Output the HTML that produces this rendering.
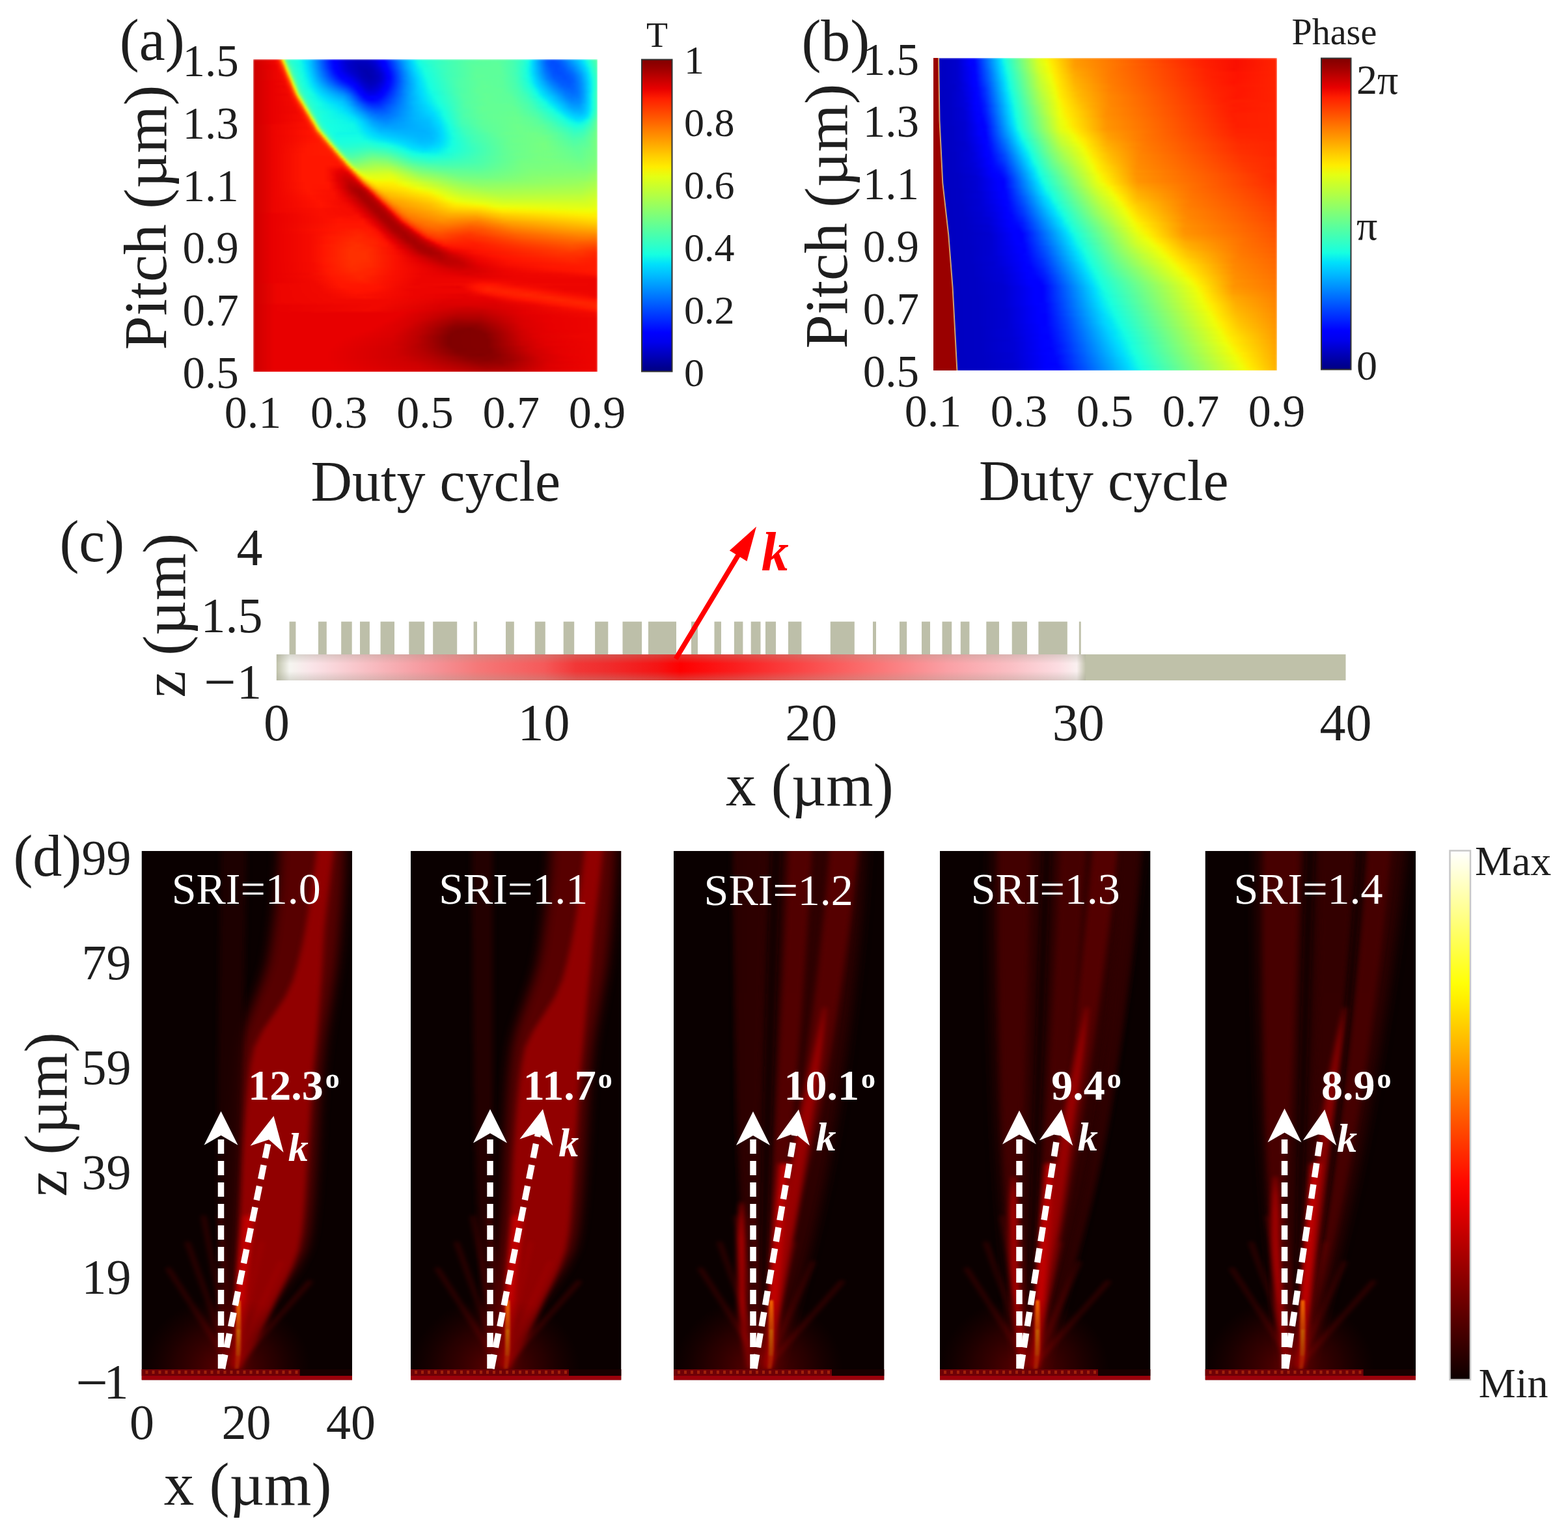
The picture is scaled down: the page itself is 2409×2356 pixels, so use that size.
<!DOCTYPE html>
<html><head><meta charset="utf-8"><title>Figure</title>
<style>
html,body{margin:0;padding:0;background:#fff}
body{width:2409px;height:2356px;position:relative;overflow:hidden}
.hm{position:absolute;overflow:hidden}
.hmi{position:absolute;left:0;top:0;right:0;bottom:0}
.hmi div{position:absolute;left:0;width:100%}
svg{position:absolute;left:0;top:0}
text{font-family:"Liberation Serif","Times New Roman",serif}
</style></head><body>
<div class="hm" style="left:389px;top:91px;width:529px;height:480px"><div class="hmi" style="filter:blur(1.5px)"><div style="top:0px;height:5px;background:linear-gradient(90deg,#cd0000 0.1%,#ed0400 6.1%,#f10800 6.7%,#ff1a00 7.3%,#ff4700 7.8%,#ff8200 8.2%,#ffd700 8.6%,#ebff0c 8.8%,#a0ff56 9.2%,#6aff8d 9.5%,#49ffad 9.9%,#29ffce 10.9%,#16ffe1 13.1%,#02e8f4 14.7%,#00ccff 16.2%,#0018ff 22.2%,#0000ff 23.3%,#0000fa 24.3%,#0000d1 27.3%,#0000bf 30.3%,#0000c4 33.4%,#0000df 35.6%,#0000ff 37.1%,#0000ff 37.9%,#0098ff 43.2%,#00dcfe 46.2%,#0ff8e7 47.7%,#1fffd7 49.2%,#43ffb4 56.8%,#5dff9a 66.6%,#56ffa0 72.7%,#39ffbe 77.2%,#1cffdb 79.5%,#13fce4 80.1%,#00e0fb 81.0%,#0080ff 84.0%,#0058ff 85.5%,#004cff 87.1%,#0060ff 89.3%,#00c4ff 94.6%,#00e4f8 95.9%,#16ffe1 97.1%,#49ffad 99.3%,#53ffa4 99.9%)"></div>
<div style="top:4px;height:5px;background:linear-gradient(90deg,#cd0000 0.1%,#ed0400 6.1%,#fa0f00 7.3%,#ff2900 7.8%,#ff6c00 8.4%,#ffe600 9.0%,#deff19 9.2%,#97ff60 9.5%,#63ff94 9.9%,#3cffba 10.5%,#26ffd1 11.4%,#13fce4 13.7%,#00e0fb 15.2%,#00c0ff 16.7%,#0020ff 22.0%,#0000ff 23.5%,#0000f6 24.7%,#0000d1 26.9%,#0000bb 30.0%,#0000bb 33.0%,#0000d1 35.3%,#0000ed 36.8%,#0000ff 37.7%,#0000ff 38.3%,#0098ff 43.6%,#00e0fb 46.6%,#13fce4 48.1%,#29ffce 51.1%,#56ffa0 62.5%,#5dff9a 70.8%,#49ffad 75.3%,#2cffca 78.4%,#13fce4 79.9%,#00dcfe 81.0%,#0080ff 84.0%,#005cff 85.3%,#004cff 86.9%,#0050ff 88.4%,#006cff 90.6%,#00b8ff 94.4%,#00dcfe 95.9%,#0cf4eb 96.9%,#1fffd7 97.8%,#43ffb4 99.3%,#50ffa7 99.9%)"></div>
<div style="top:8px;height:5px;background:linear-gradient(90deg,#cd0000 0.1%,#e80000 5.4%,#ed0400 6.9%,#ff1600 7.8%,#ff3f00 8.4%,#ff7700 8.8%,#f8f500 9.4%,#d1ff26 9.5%,#8dff6a 9.9%,#60ff97 10.3%,#43ffb4 10.7%,#26ffd1 11.8%,#0ff8e7 14.1%,#00dcfe 15.6%,#008cff 18.6%,#0030ff 21.6%,#0008ff 23.2%,#0000ff 24.1%,#0000c8 27.9%,#0000b6 30.9%,#0000b6 33.2%,#0000c8 35.4%,#0000fa 37.7%,#0004ff 38.7%,#00b0ff 44.7%,#00e0fb 47.0%,#13fce4 48.5%,#36ffc1 53.8%,#5aff9d 63.6%,#5dff9a 71.2%,#46ffb1 75.7%,#26ffd1 78.7%,#0ff8e7 80.1%,#00dcfe 81.0%,#006cff 84.8%,#0050ff 86.3%,#004cff 88.6%,#0068ff 90.8%,#00a0ff 93.9%,#00d4ff 96.1%,#06ecf1 96.9%,#19ffde 97.8%,#40ffb7 99.3%,#4dffaa 99.9%)"></div>
<div style="top:12px;height:5px;background:linear-gradient(90deg,#cd0000 0.1%,#e80000 5.4%,#ed0400 6.9%,#ff1300 8.0%,#ff3400 8.6%,#ff6000 9.0%,#ffd300 9.5%,#ebff0c 9.7%,#a0ff56 10.1%,#6dff8a 10.5%,#40ffb7 11.1%,#23ffd4 12.4%,#13fce4 13.9%,#00e4f8 15.4%,#00c0ff 16.9%,#0024ff 22.2%,#0000ff 23.7%,#0000fa 24.9%,#0000e3 26.0%,#0000c8 28.3%,#0000b2 31.3%,#0000b6 34.3%,#0000d6 36.6%,#0000fa 38.1%,#0004ff 39.0%,#00a0ff 44.3%,#00d4ff 46.6%,#09f0ee 48.1%,#19ffde 49.6%,#39ffbe 54.9%,#5dff9a 64.7%,#5dff9a 71.6%,#43ffb4 76.1%,#1fffd7 79.1%,#0ff8e7 79.9%,#00d8ff 81.2%,#006cff 85.0%,#0054ff 86.5%,#004cff 88.0%,#0058ff 90.3%,#0088ff 93.3%,#00d0ff 96.3%,#06ecf1 97.3%,#1cffdb 98.2%,#43ffb4 99.7%,#46ffb1 99.9%)"></div>
<div style="top:16px;height:5px;background:linear-gradient(90deg,#cd0000 0.1%,#ed0400 6.9%,#f60b00 8.0%,#ff2900 8.8%,#ff4e00 9.2%,#ff8d00 9.5%,#ffe200 9.9%,#deff19 10.1%,#97ff60 10.5%,#53ffa4 11.1%,#30ffc7 11.8%,#13fce4 14.1%,#00e4f8 15.6%,#00c0ff 17.1%,#0014ff 23.2%,#0000ff 24.3%,#0000fa 25.0%,#0000d6 27.3%,#0000b6 31.1%,#0000ad 32.6%,#0000b6 34.9%,#0000da 37.1%,#0000ff 38.7%,#0000ff 39.2%,#0088ff 43.8%,#00d4ff 46.8%,#06ecf1 48.3%,#19ffde 49.8%,#43ffb4 57.4%,#5dff9a 64.9%,#5dff9a 71.7%,#43ffb4 76.3%,#1cffdb 79.3%,#0ff8e7 79.9%,#00d8ff 81.2%,#0070ff 85.0%,#0058ff 86.5%,#004cff 88.0%,#0054ff 90.3%,#0070ff 92.5%,#00a0ff 94.8%,#00e0fb 97.1%,#19ffde 98.2%,#40ffb7 99.7%,#43ffb4 99.9%)"></div>
<div style="top:20px;height:5px;background:linear-gradient(90deg,#cd0000 0.1%,#ed0400 6.9%,#f10800 8.0%,#ff1600 8.8%,#ff3f00 9.4%,#ff7700 9.7%,#fbf100 10.3%,#d1ff26 10.5%,#8dff6a 10.9%,#60ff97 11.2%,#39ffbe 11.8%,#1fffd7 13.3%,#0ff8e7 14.7%,#00dcfe 16.2%,#0064ff 20.7%,#0010ff 23.7%,#0000ff 24.7%,#0000fa 25.6%,#0000d1 28.6%,#0000bb 30.9%,#0000ad 33.2%,#0000bb 35.4%,#0000cd 37.0%,#0000f1 38.5%,#0000ff 39.0%,#0004ff 39.6%,#0078ff 43.4%,#00b4ff 45.7%,#00d4ff 47.2%,#06ecf1 48.5%,#16ffe1 50.0%,#3cffba 56.0%,#5dff9a 64.4%,#5dff9a 71.9%,#46ffb1 75.7%,#26ffd1 78.7%,#0ff8e7 80.1%,#00e0fb 81.0%,#007cff 84.8%,#0054ff 87.1%,#004cff 89.3%,#005cff 91.6%,#0070ff 93.1%,#00a4ff 95.4%,#00d0ff 96.9%,#02e8f4 97.6%,#19ffde 98.4%,#40ffb7 99.9%)"></div>
<div style="top:24px;height:5px;background:linear-gradient(90deg,#cd0000 0.1%,#ed0400 6.9%,#f10800 8.4%,#ff1a00 9.2%,#ff4700 9.7%,#ff8200 10.1%,#ffd300 10.5%,#eeff09 10.7%,#83ff73 11.2%,#49ffad 11.8%,#29ffce 12.8%,#16ffe1 14.3%,#02e8f4 15.8%,#00d0ff 16.9%,#0030ff 23.0%,#0000ff 25.2%,#0000fa 26.4%,#0000b6 31.7%,#0000ad 33.9%,#0000bf 36.2%,#0000da 37.7%,#0000ff 39.2%,#0000ff 39.6%,#0074ff 43.4%,#00c0ff 46.4%,#00dcfe 47.9%,#16ffe1 50.2%,#3cffba 56.2%,#60ff97 65.3%,#5aff9d 72.9%,#40ffb7 76.7%,#16ffe1 79.7%,#00e0fb 81.2%,#0080ff 85.0%,#0058ff 87.2%,#0050ff 90.3%,#0058ff 91.8%,#006cff 93.3%,#008cff 94.8%,#00d0ff 97.1%,#00e4f8 97.6%,#19ffde 98.6%,#3cffba 99.9%)"></div>
<div style="top:28px;height:5px;background:linear-gradient(90deg,#cd0000 0.1%,#ed0400 6.9%,#f10800 8.4%,#fa0f00 9.2%,#ff2900 9.7%,#ff4e00 10.1%,#ff8d00 10.5%,#ffe200 10.9%,#deff19 11.1%,#7aff7d 11.6%,#53ffa4 12.0%,#30ffc7 12.8%,#19ffde 14.3%,#09f0ee 15.6%,#00dcfe 16.7%,#0020ff 24.3%,#0004ff 25.8%,#0000ff 27.3%,#0000bb 31.9%,#0000b2 34.1%,#0000bb 35.6%,#0000cd 37.1%,#0000f1 38.7%,#0000ff 39.2%,#0000ff 39.6%,#0088ff 44.1%,#00d8ff 47.9%,#06ecf1 49.1%,#16ffe1 50.6%,#43ffb4 57.4%,#5dff9a 64.2%,#5dff9a 71.7%,#46ffb1 76.3%,#13fce4 80.1%,#00dcfe 81.6%,#0080ff 85.3%,#005cff 87.6%,#0050ff 90.6%,#0060ff 92.9%,#0090ff 95.2%,#00d8ff 97.4%,#06ecf1 98.0%,#1cffdb 98.8%,#3cffba 99.9%)"></div>
<div style="top:32px;height:5px;background:linear-gradient(90deg,#cd0000 0.1%,#e80000 5.4%,#ed0400 8.4%,#f60b00 9.4%,#ff1600 9.7%,#ff3f00 10.3%,#ff5500 10.5%,#ffc400 11.1%,#fbf100 11.2%,#d1ff26 11.4%,#8dff6a 11.8%,#5dff9a 12.2%,#39ffbe 12.8%,#1fffd7 13.9%,#0ff8e7 15.4%,#00dcfe 16.9%,#0064ff 22.2%,#0014ff 26.0%,#0000ff 27.5%,#0000fa 28.6%,#0000c8 31.7%,#0000b6 33.2%,#0000bb 35.4%,#0000cd 37.0%,#0000f1 38.5%,#0000ff 39.0%,#0008ff 39.8%,#0074ff 43.6%,#00acff 45.8%,#00d8ff 48.1%,#09f0ee 49.6%,#19ffde 51.1%,#4dffaa 59.5%,#60ff97 66.3%,#5dff9a 72.3%,#46ffb1 76.1%,#26ffd1 79.1%,#0ff8e7 80.4%,#00dcfe 81.8%,#007cff 86.3%,#005cff 88.6%,#0054ff 91.6%,#0060ff 93.1%,#0080ff 94.6%,#00c0ff 96.9%,#00e4f8 97.8%,#19ffde 98.8%,#39ffbe 99.9%)"></div>
<div style="top:36px;height:5px;background:linear-gradient(90deg,#cd0000 0.1%,#e80000 5.4%,#f10800 9.2%,#ff1a00 10.1%,#ff4700 10.7%,#ff8200 11.1%,#ffd300 11.4%,#eeff09 11.6%,#83ff73 12.2%,#56ffa0 12.6%,#30ffc7 13.3%,#19ffde 14.8%,#09f0ee 16.2%,#00d4ff 17.7%,#0038ff 25.2%,#0004ff 28.3%,#0000fa 29.6%,#0000cd 31.9%,#0000bb 34.1%,#0000c4 35.6%,#0000e8 37.9%,#0000ff 38.8%,#000cff 39.8%,#0078ff 43.6%,#00d8ff 48.1%,#06ecf1 49.6%,#16ffe1 51.1%,#4dffaa 59.5%,#60ff97 66.3%,#5dff9a 72.3%,#49ffad 76.1%,#1fffd7 79.9%,#0ff8e7 80.8%,#00dcfe 82.1%,#0080ff 86.7%,#005cff 89.7%,#0058ff 92.0%,#0074ff 94.2%,#0098ff 95.7%,#00ccff 97.3%,#00e0fb 97.8%,#19ffde 98.8%,#39ffbe 99.9%)"></div>
<div style="top:40px;height:5px;background:linear-gradient(90deg,#cd0000 0.1%,#e80000 5.4%,#ed0400 9.2%,#fa0f00 10.1%,#ff2900 10.7%,#ff4e00 11.1%,#ff8d00 11.4%,#ffe200 11.8%,#e1ff16 12.0%,#97ff60 12.4%,#63ff94 12.8%,#39ffbe 13.3%,#1fffd7 14.5%,#0ff8e7 16.0%,#00e0fb 17.5%,#0048ff 25.8%,#0000ff 29.6%,#0000fa 30.3%,#0000cd 32.6%,#0000c4 34.1%,#0000cd 35.6%,#0000df 37.0%,#0000ff 38.5%,#0004ff 39.2%,#0090ff 44.5%,#00d8ff 48.3%,#06ecf1 49.8%,#16ffe1 51.3%,#4dffaa 59.6%,#63ff94 67.2%,#5aff9d 73.3%,#43ffb4 77.0%,#1fffd7 80.1%,#0ff8e7 81.2%,#00dcfe 82.5%,#0088ff 87.1%,#0068ff 89.3%,#005cff 91.6%,#0064ff 93.1%,#007cff 94.6%,#00a4ff 96.1%,#00d8ff 97.6%,#06ecf1 98.2%,#19ffde 98.8%,#39ffbe 99.9%)"></div>
<div style="top:44px;height:5px;background:linear-gradient(90deg,#cd0000 0.1%,#e80000 5.4%,#f10800 9.9%,#ff1600 10.7%,#ff3f00 11.2%,#ff5500 11.4%,#ff9800 11.8%,#fbf100 12.2%,#d1ff26 12.4%,#8dff6a 12.8%,#5dff9a 13.1%,#40ffb7 13.5%,#29ffce 14.3%,#0ff8e7 16.5%,#00e0fb 18.1%,#004cff 27.1%,#0000ff 30.2%,#0000fa 31.1%,#0000da 32.6%,#0000cd 34.1%,#0000df 36.4%,#0000ff 37.9%,#0004ff 38.8%,#0088ff 44.1%,#00d0ff 47.9%,#00e4f8 49.4%,#16ffe1 51.7%,#49ffad 59.3%,#60ff97 65.3%,#60ff97 72.1%,#49ffad 76.7%,#23ffd4 80.4%,#0ff8e7 81.8%,#00dcfe 83.1%,#008cff 87.6%,#0068ff 90.6%,#0064ff 92.9%,#0078ff 94.4%,#009cff 95.9%,#00d0ff 97.4%,#06ecf1 98.2%,#19ffde 98.8%,#3cffba 99.9%)"></div>
<div style="top:48px;height:5px;background:linear-gradient(90deg,#cd0000 0.1%,#e80000 5.4%,#f10800 9.9%,#fa0f00 10.7%,#ff2500 11.2%,#ff4700 11.6%,#ff8200 12.0%,#ffd300 12.4%,#eeff09 12.6%,#a0ff56 12.9%,#6aff8d 13.3%,#3cffba 13.9%,#26ffd1 14.8%,#16ffe1 16.4%,#00e0fb 18.6%,#0078ff 26.2%,#0030ff 29.2%,#0004ff 30.7%,#0000fa 31.7%,#0000df 33.2%,#0000df 35.4%,#0000f6 37.0%,#0000ff 37.7%,#0010ff 38.8%,#008cff 44.1%,#00c4ff 47.2%,#00d8ff 48.7%,#06ecf1 50.2%,#13fce4 51.7%,#49ffad 59.3%,#60ff97 65.3%,#60ff97 72.1%,#4dffaa 76.7%,#29ffce 80.4%,#13fce4 81.9%,#00e0fb 83.5%,#0088ff 88.8%,#0070ff 91.0%,#0068ff 92.5%,#0070ff 94.0%,#0090ff 95.6%,#00c0ff 97.1%,#00e4f8 98.0%,#19ffde 98.8%,#40ffb7 99.9%)"></div>
<div style="top:52px;height:5px;background:linear-gradient(90deg,#cd0000 0.1%,#e80000 5.4%,#ed0400 9.9%,#fa0f00 11.1%,#ff2900 11.6%,#ff4e00 12.0%,#ff8d00 12.4%,#ffe200 12.8%,#e4ff13 12.9%,#9dff5a 13.3%,#6aff8d 13.7%,#40ffb7 14.3%,#29ffce 15.0%,#13fce4 17.3%,#00dcfe 19.6%,#008cff 26.4%,#006cff 27.9%,#0010ff 30.9%,#0000ff 31.7%,#0000fa 32.4%,#0000e8 33.9%,#0000ed 35.3%,#0000ff 36.8%,#0004ff 37.7%,#00b0ff 46.0%,#00dcfe 49.1%,#06ecf1 50.6%,#13fce4 52.1%,#50ffa7 60.4%,#63ff94 67.2%,#5dff9a 74.0%,#3cffba 79.3%,#16ffe1 82.3%,#00e4f8 83.8%,#00c0ff 86.1%,#007cff 90.6%,#0070ff 92.9%,#0078ff 94.4%,#009cff 95.9%,#00d0ff 97.4%,#09f0ee 98.2%,#1cffdb 98.8%,#40ffb7 99.9%)"></div>
<div style="top:56px;height:5px;background:linear-gradient(90deg,#cd0000 0.1%,#e80000 5.4%,#f10800 10.7%,#ff1e00 11.8%,#ff3800 12.2%,#ff6400 12.6%,#ffd000 13.1%,#f1fc06 13.3%,#8dff6a 13.9%,#60ff97 14.3%,#39ffbe 14.8%,#23ffd4 15.8%,#0ff8e7 18.1%,#00e0fb 20.3%,#00a0ff 26.4%,#0080ff 27.9%,#0010ff 31.7%,#0000ff 32.4%,#0004ff 37.0%,#00a4ff 45.3%,#00d8ff 49.1%,#09f0ee 51.3%,#16ffe1 52.8%,#53ffa4 61.2%,#63ff94 68.0%,#5dff9a 74.8%,#40ffb7 79.3%,#13fce4 83.1%,#00e4f8 84.6%,#00c4ff 86.9%,#0088ff 90.6%,#0078ff 92.2%,#007cff 94.4%,#009cff 95.9%,#00d0ff 97.4%,#09f0ee 98.2%,#1cffdb 98.8%,#43ffb4 99.9%)"></div>
<div style="top:60px;height:5px;background:linear-gradient(90deg,#cd0000 0.1%,#e80000 5.4%,#f10800 10.7%,#fa0f00 11.8%,#ff2500 12.4%,#ff5900 12.9%,#ff9800 13.3%,#ffea00 13.7%,#dbff1c 13.9%,#97ff60 14.3%,#53ffa4 14.8%,#30ffc7 15.6%,#1cffdb 17.1%,#0ff8e7 18.6%,#00dcfe 21.6%,#00b4ff 26.2%,#0084ff 28.4%,#0028ff 31.5%,#0008ff 33.0%,#0000ff 34.5%,#0008ff 36.0%,#001cff 37.5%,#00a0ff 45.1%,#00d4ff 48.9%,#06ecf1 51.1%,#19ffde 53.4%,#50ffa7 61.0%,#63ff94 67.0%,#5dff9a 75.3%,#40ffb7 79.9%,#16ffe1 83.6%,#00dcfe 85.9%,#008cff 91.2%,#0080ff 92.7%,#0084ff 94.2%,#0090ff 95.2%,#00b8ff 96.7%,#00e0fb 97.8%,#16ffe1 98.6%,#40ffb7 99.9%)"></div>
<div style="top:64px;height:5px;background:linear-gradient(90deg,#cd0000 0.1%,#e80000 5.4%,#f10800 11.4%,#ff1300 12.4%,#ff2d00 12.9%,#ff5200 13.3%,#ff8d00 13.7%,#ffdb00 14.1%,#e7ff0f 14.3%,#87ff70 14.8%,#5aff9d 15.2%,#30ffc7 16.0%,#1cffdb 17.5%,#13fce4 19.0%,#00e4f8 22.0%,#00c8ff 25.8%,#00a0ff 28.1%,#0038ff 31.9%,#001cff 33.4%,#0014ff 34.9%,#001cff 36.4%,#0044ff 39.4%,#00b4ff 46.2%,#00dcfe 50.0%,#06ecf1 51.5%,#19ffde 53.8%,#56ffa0 62.1%,#63ff94 68.1%,#5dff9a 75.7%,#43ffb4 80.2%,#13fce4 84.8%,#00e4f8 86.3%,#00c0ff 88.6%,#008cff 92.3%,#008cff 94.6%,#00a8ff 96.1%,#00d8ff 97.6%,#09f0ee 98.2%,#1cffdb 98.8%,#40ffb7 99.9%)"></div>
<div style="top:68px;height:5px;background:linear-gradient(90deg,#cd0000 0.1%,#e80000 5.4%,#f10800 11.4%,#fa0f00 12.6%,#ff1e00 13.1%,#ff4a00 13.7%,#ff7e00 14.1%,#f8f500 14.7%,#d1ff26 14.8%,#77ff80 15.4%,#50ffa7 15.8%,#2cffca 16.5%,#16ffe1 18.8%,#00e0fb 24.1%,#00c0ff 27.1%,#0078ff 30.2%,#0038ff 33.2%,#002cff 34.3%,#002cff 36.6%,#0068ff 41.1%,#00b4ff 46.4%,#00e0fb 50.9%,#16ffe1 54.0%,#53ffa4 61.5%,#63ff94 68.3%,#63ff94 74.4%,#4dffaa 79.7%,#19ffde 85.0%,#00e4f8 87.2%,#00ccff 88.8%,#00a0ff 91.8%,#0094ff 93.3%,#0098ff 94.8%,#00c8ff 97.1%,#00e4f8 97.8%,#16ffe1 98.6%,#40ffb7 99.9%)"></div>
<div style="top:72px;height:5px;background:linear-gradient(90deg,#cd0000 0.1%,#e80000 5.4%,#f10800 12.2%,#ff1600 13.3%,#ff3000 13.9%,#ff7300 14.5%,#ffb900 14.8%,#ffe600 15.0%,#e1ff16 15.2%,#9aff5d 15.6%,#66ff90 16.0%,#3cffba 16.5%,#23ffd4 17.5%,#0ff8e7 20.5%,#00dcfe 25.8%,#00bcff 28.1%,#0058ff 32.6%,#003cff 34.9%,#0040ff 37.1%,#0080ff 42.4%,#00b8ff 47.0%,#00e0fb 51.5%,#16ffe1 54.5%,#50ffa7 61.3%,#63ff94 66.6%,#63ff94 75.7%,#46ffb1 81.0%,#13fce4 86.3%,#02e8f4 87.8%,#00d0ff 89.3%,#00a4ff 92.3%,#00a0ff 94.6%,#00b4ff 96.1%,#00dcfe 97.6%,#16ffe1 98.6%,#40ffb7 99.9%)"></div>
<div style="top:76px;height:5px;background:linear-gradient(90deg,#cd0000 0.1%,#e80000 5.4%,#f10800 12.2%,#fa0f00 13.5%,#ff2d00 14.3%,#ff4e00 14.7%,#ff8600 15.0%,#ffd300 15.4%,#eeff09 15.6%,#8aff6d 16.2%,#5dff9a 16.5%,#36ffc1 17.1%,#1fffd7 18.2%,#0cf4eb 22.8%,#00e4f8 25.8%,#00c8ff 28.1%,#0060ff 33.4%,#0050ff 35.6%,#0054ff 37.9%,#0084ff 42.4%,#00b8ff 47.0%,#00dcfe 51.5%,#06ecf1 53.0%,#19ffde 55.3%,#46ffb1 59.8%,#63ff94 66.6%,#63ff94 76.5%,#46ffb1 81.8%,#16ffe1 87.1%,#02e8f4 88.6%,#00d0ff 90.1%,#00acff 93.1%,#00acff 94.6%,#00b4ff 95.7%,#00d4ff 97.3%,#0cf4eb 98.2%,#1fffd7 98.8%,#43ffb4 99.9%)"></div>
<div style="top:80px;height:5px;background:linear-gradient(90deg,#cd0000 0.1%,#e80000 5.4%,#f10800 12.9%,#ff1300 14.1%,#ff2900 14.7%,#ff4700 15.0%,#ff7a00 15.4%,#fbf100 16.0%,#d7ff1f 16.2%,#77ff80 16.7%,#43ffb4 17.3%,#23ffd4 18.2%,#0ff8e7 22.8%,#00e0fb 27.3%,#00b0ff 30.3%,#0078ff 33.4%,#0060ff 35.6%,#0064ff 38.7%,#00b0ff 46.2%,#00dcfe 52.3%,#06ecf1 53.8%,#16ffe1 55.3%,#49ffad 60.6%,#60ff97 65.9%,#66ff90 75.7%,#4dffaa 81.8%,#1fffd7 87.1%,#0ff8e7 88.6%,#00e0fb 90.1%,#00bcff 93.1%,#00b8ff 95.4%,#00d0ff 96.9%,#06ecf1 97.8%,#19ffde 98.4%,#46ffb1 99.9%)"></div>
<div style="top:84px;height:5px;background:linear-gradient(90deg,#cd0000 0.1%,#e80000 5.4%,#f60b00 13.7%,#ff1600 14.7%,#ff3000 15.2%,#ff6f00 15.8%,#ffde00 16.4%,#e4ff13 16.5%,#80ff77 17.1%,#46ffb1 17.7%,#29ffce 18.4%,#19ffde 19.9%,#09f0ee 26.0%,#00e0fb 28.3%,#00b0ff 31.3%,#007cff 34.3%,#006cff 37.3%,#0080ff 41.1%,#00b0ff 46.4%,#00d8ff 52.5%,#06ecf1 54.0%,#16ffe1 55.5%,#50ffa7 61.5%,#63ff94 68.3%,#66ff90 76.7%,#4dffaa 82.7%,#19ffde 88.8%,#00e4f8 91.0%,#00d0ff 92.5%,#00c4ff 94.8%,#00d0ff 96.3%,#00e4f8 97.3%,#19ffde 98.2%,#49ffad 99.7%,#4dffaa 99.9%)"></div>
<div style="top:88px;height:5px;background:linear-gradient(90deg,#cd0000 0.1%,#e80000 5.4%,#f60b00 13.7%,#ff1600 15.0%,#ff2d00 15.6%,#ff6400 16.2%,#ffd000 16.7%,#f1fc06 16.9%,#8aff6d 17.5%,#49ffad 18.1%,#29ffce 18.8%,#19ffde 20.3%,#09f0ee 27.1%,#00e0fb 29.4%,#0094ff 33.9%,#007cff 36.2%,#007cff 39.2%,#00b4ff 46.8%,#00c8ff 51.3%,#00e0fb 53.6%,#16ffe1 55.9%,#46ffb1 60.4%,#60ff97 66.4%,#6aff8d 76.3%,#5aff9d 81.6%,#2cffca 87.6%,#16ffe1 89.9%,#00e4f8 92.2%,#00d4ff 93.7%,#00d8ff 95.9%,#06ecf1 97.1%,#1cffdb 98.0%,#4dffaa 99.5%,#56ffa0 99.9%)"></div>
<div style="top:92px;height:5px;background:linear-gradient(90deg,#cd0000 0.1%,#e80000 5.4%,#f60b00 14.5%,#ff1a00 15.6%,#ff3800 16.2%,#ff5d00 16.5%,#ff9800 16.9%,#ffea00 17.3%,#dbff1c 17.5%,#7aff7d 18.1%,#50ffa7 18.4%,#30ffc7 19.0%,#1cffdb 19.9%,#0ff8e7 26.0%,#02e8f4 29.8%,#00d0ff 31.3%,#0094ff 35.1%,#0084ff 38.1%,#009cff 43.4%,#00b4ff 47.2%,#00c0ff 50.9%,#00e0fb 54.0%,#16ffe1 56.2%,#46ffb1 60.8%,#60ff97 67.6%,#6aff8d 76.7%,#5aff9d 82.7%,#1fffd7 90.3%,#0ff8e7 91.8%,#00e4f8 94.0%,#02e8f4 95.6%,#16ffe1 97.1%,#50ffa7 99.3%,#60ff97 99.9%)"></div>
<div style="top:96px;height:5px;background:linear-gradient(90deg,#cd0000 0.1%,#e80000 5.4%,#fa0f00 15.2%,#ff1e00 16.2%,#ff4300 16.7%,#ff6f00 17.1%,#ffb200 17.5%,#ffdb00 17.7%,#e7ff0f 17.9%,#83ff73 18.4%,#56ffa0 18.8%,#30ffc7 19.4%,#19ffde 20.7%,#0cf4eb 29.0%,#00dcfe 31.3%,#00acff 34.3%,#0098ff 36.6%,#0090ff 38.8%,#00b4ff 47.9%,#00bcff 50.9%,#00dcfe 54.0%,#09f0ee 55.5%,#19ffde 56.8%,#43ffb4 60.6%,#5dff9a 66.6%,#6aff8d 75.7%,#63ff94 81.0%,#49ffad 86.3%,#16ffe1 92.3%,#0cf4eb 94.6%,#1fffd7 96.9%,#53ffa4 99.1%,#66ff90 99.9%)"></div>
<div style="top:100px;height:5px;background:linear-gradient(90deg,#cd0000 0.1%,#ed0400 6.1%,#fa0f00 15.2%,#ff1600 16.2%,#ff2500 16.7%,#ff4e00 17.3%,#ff8200 17.7%,#f8f500 18.2%,#d1ff26 18.4%,#8dff6a 18.8%,#49ffad 19.4%,#26ffd1 20.1%,#16ffe1 21.6%,#0ff8e7 29.2%,#00e0fb 31.5%,#00acff 35.3%,#009cff 38.3%,#00a4ff 43.6%,#00bcff 51.1%,#00d8ff 54.2%,#09f0ee 55.7%,#19ffde 57.2%,#3cffba 60.2%,#5aff9d 66.3%,#6dff8a 76.8%,#5dff9a 84.4%,#19ffde 93.5%,#1fffd7 95.7%,#40ffb7 98.0%,#63ff94 99.5%,#6aff8d 99.9%)"></div>
<div style="top:104px;height:5px;background:linear-gradient(90deg,#cd0000 0.1%,#ed0400 6.1%,#fa0f00 16.0%,#ff2200 17.1%,#ff4700 17.7%,#ff9400 18.2%,#ffe600 18.6%,#e1ff16 18.8%,#9aff5d 19.2%,#63ff94 19.6%,#39ffbe 20.1%,#23ffd4 20.9%,#16ffe1 22.4%,#0ff8e7 29.2%,#09f0ee 30.7%,#00dcfe 32.2%,#00acff 36.8%,#00a4ff 41.3%,#00b8ff 51.1%,#00d4ff 54.2%,#06ecf1 55.7%,#16ffe1 57.2%,#3cffba 61.0%,#5aff9d 67.0%,#6dff8a 76.8%,#66ff90 82.9%,#46ffb1 88.9%,#26ffd1 93.5%,#29ffce 95.7%,#56ffa0 98.8%,#70ff87 99.9%)"></div>
<div style="top:108px;height:5px;background:linear-gradient(90deg,#cd0000 0.1%,#ed0400 6.1%,#ff1300 16.7%,#ff2900 17.7%,#ff5500 18.2%,#ffa700 18.8%,#fbf100 19.2%,#dbff1c 19.4%,#80ff77 19.9%,#56ffa0 20.3%,#2cffca 21.1%,#16ffe1 22.4%,#0ff8e7 30.0%,#00dcfe 33.0%,#00b8ff 36.8%,#00b0ff 41.3%,#00b0ff 49.6%,#00c0ff 52.6%,#00dcfe 54.9%,#13fce4 57.2%,#39ffbe 61.0%,#5dff9a 68.5%,#6dff8a 77.6%,#66ff90 84.4%,#30ffc7 93.5%,#36ffc1 95.7%,#5dff9a 98.8%,#73ff83 99.9%)"></div>
<div style="top:112px;height:5px;background:linear-gradient(90deg,#cd0000 0.1%,#ed0400 6.1%,#ff1300 16.7%,#ff1e00 17.9%,#ff3400 18.4%,#ff6400 19.0%,#ffbd00 19.6%,#ffe200 19.8%,#e7ff0f 19.9%,#8aff6d 20.5%,#5dff9a 20.9%,#2cffca 21.6%,#16ffe1 23.0%,#0ff8e7 25.2%,#0ff8e7 30.5%,#00e0fb 33.6%,#00c4ff 37.3%,#00b4ff 44.1%,#00b4ff 50.9%,#00c4ff 53.2%,#00d8ff 54.7%,#06ecf1 56.2%,#19ffde 57.8%,#40ffb7 62.3%,#6aff8d 73.6%,#70ff87 81.9%,#5aff9d 88.0%,#39ffbe 93.3%,#43ffb4 96.3%,#6dff8a 99.3%,#77ff80 99.9%)"></div>
<div style="top:116px;height:5px;background:linear-gradient(90deg,#cd0000 0.1%,#ed0400 6.1%,#ff1300 17.5%,#ff2500 18.6%,#ff3b00 19.2%,#ff7300 19.8%,#ffd300 20.3%,#f1fc06 20.5%,#7aff7d 21.3%,#43ffb4 21.8%,#23ffd4 22.6%,#13fce4 24.1%,#13fce4 30.9%,#00e0fb 34.7%,#00c8ff 39.2%,#00b4ff 48.3%,#00b8ff 51.3%,#00c8ff 53.6%,#00dcfe 55.1%,#09f0ee 56.6%,#19ffde 58.1%,#39ffbe 61.9%,#63ff94 71.7%,#70ff87 80.8%,#6dff8a 85.3%,#43ffb4 92.9%,#43ffb4 95.2%,#60ff97 98.2%,#73ff83 99.7%,#77ff80 99.9%)"></div>
<div style="top:120px;height:5px;background:linear-gradient(90deg,#cd0000 0.1%,#ed0400 6.1%,#ff1600 18.2%,#ff2200 19.2%,#ff3800 19.8%,#ff6c00 20.3%,#ffc400 20.9%,#feed00 21.1%,#deff19 21.3%,#83ff73 21.8%,#49ffad 22.4%,#29ffce 23.0%,#16ffe1 24.1%,#16ffe1 30.9%,#00e4f8 36.2%,#00c8ff 43.0%,#00b8ff 49.1%,#00bcff 52.1%,#00dcfe 55.1%,#0ff8e7 57.4%,#1fffd7 58.9%,#43ffb4 64.2%,#6aff8d 74.8%,#73ff83 83.8%,#49ffad 92.9%,#50ffa7 95.9%,#6dff8a 99.0%,#7aff7d 99.9%)"></div>
<div style="top:124px;height:5px;background:linear-gradient(90deg,#cd0000 0.1%,#ed0400 6.1%,#ff1300 16.7%,#ff1600 19.0%,#ff2d00 20.1%,#ff4e00 20.7%,#ff9800 21.3%,#ffdb00 21.6%,#ebff0c 21.8%,#8dff6a 22.4%,#50ffa7 23.0%,#36ffc1 23.3%,#19ffde 24.5%,#19ffde 32.8%,#00e0fb 40.4%,#00bcff 48.7%,#00c0ff 51.7%,#00d0ff 54.0%,#06ecf1 56.2%,#16ffe1 57.8%,#40ffb7 63.8%,#6dff8a 75.9%,#73ff83 85.0%,#50ffa7 93.3%,#56ffa0 96.3%,#73ff83 99.3%,#7aff7d 99.9%)"></div>
<div style="top:128px;height:5px;background:linear-gradient(90deg,#cd0000 0.1%,#ed0400 6.1%,#ff1600 16.7%,#ff1a00 19.8%,#ff3000 20.9%,#ff5900 21.5%,#ff8900 21.8%,#fbf100 22.4%,#d7ff1f 22.6%,#80ff77 23.2%,#56ffa0 23.5%,#2cffca 24.3%,#1cffdb 25.4%,#23ffd4 33.0%,#13fce4 38.3%,#00dcfe 43.6%,#00c4ff 48.9%,#00c8ff 51.9%,#00e0fb 54.9%,#16ffe1 57.9%,#39ffbe 63.2%,#66ff90 73.8%,#77ff80 84.4%,#53ffa4 93.5%,#60ff97 97.3%,#77ff80 99.5%,#7aff7d 99.9%)"></div>
<div style="top:132px;height:5px;background:linear-gradient(90deg,#cd0000 0.1%,#ed0400 6.1%,#ff1600 16.0%,#ff1a00 20.5%,#ff2d00 21.5%,#ff5200 22.0%,#ff9c00 22.6%,#ffe200 23.0%,#e7ff0f 23.2%,#8dff6a 23.7%,#53ffa4 24.3%,#30ffc7 25.0%,#23ffd4 26.6%,#2cffca 33.4%,#19ffde 40.2%,#0cf4eb 42.4%,#00dcfe 45.5%,#00ccff 50.0%,#00dcfe 53.8%,#09f0ee 56.0%,#16ffe1 57.6%,#39ffbe 63.6%,#6aff8d 75.0%,#77ff80 84.8%,#5aff9d 93.1%,#60ff97 96.9%,#7aff7d 99.9%)"></div>
<div style="top:136px;height:5px;background:linear-gradient(90deg,#cd0000 0.1%,#ed0400 6.1%,#ff1600 15.2%,#ff1a00 21.3%,#ff3000 22.2%,#ff5d00 22.8%,#ff8d00 23.2%,#f8f500 23.7%,#d7ff1f 23.9%,#83ff73 24.5%,#50ffa7 25.0%,#30ffc7 26.0%,#30ffc7 29.0%,#39ffbe 33.6%,#30ffc7 38.8%,#13fce4 43.4%,#00e4f8 46.4%,#00d8ff 50.2%,#02e8f4 54.0%,#16ffe1 57.0%,#3cffba 64.6%,#6aff8d 75.1%,#77ff80 85.0%,#5dff9a 94.0%,#6aff8d 97.8%,#77ff80 99.3%,#7aff7d 99.9%)"></div>
<div style="top:140px;height:5px;background:linear-gradient(90deg,#cd0000 0.1%,#ed0400 6.1%,#ff1600 15.2%,#ff1a00 22.0%,#ff2d00 22.8%,#ff5200 23.3%,#ff9c00 23.9%,#ffe200 24.3%,#e7ff0f 24.5%,#7dff7a 25.2%,#53ffa4 25.8%,#3cffba 26.6%,#36ffc1 28.1%,#49ffad 34.1%,#43ffb4 37.9%,#2cffca 41.7%,#16ffe1 44.7%,#02e8f4 49.2%,#06ecf1 53.0%,#19ffde 56.8%,#60ff97 72.7%,#77ff80 82.5%,#70ff87 87.8%,#60ff97 94.6%,#73ff83 99.1%,#7aff7d 99.9%)"></div>
<div style="top:144px;height:5px;background:linear-gradient(90deg,#cd0000 0.1%,#ed0400 6.1%,#ff1600 14.5%,#ff1a00 22.8%,#ff3000 23.5%,#ff5d00 24.1%,#ff8d00 24.5%,#fbf100 25.0%,#dbff1c 25.2%,#8dff6a 25.8%,#60ff97 26.4%,#46ffb1 27.1%,#46ffb1 29.4%,#5dff9a 34.7%,#50ffa7 39.2%,#16ffe1 46.8%,#0ff8e7 52.8%,#29ffce 58.9%,#6dff8a 76.3%,#77ff80 86.1%,#63ff94 94.4%,#73ff83 99.0%,#7aff7d 99.9%)"></div>
<div style="top:148px;height:5px;background:linear-gradient(90deg,#cd0000 0.1%,#ed0400 6.1%,#ff1600 14.5%,#ff1600 22.8%,#ff2500 23.9%,#ff4300 24.5%,#ff7e00 25.0%,#ffde00 25.6%,#eeff09 25.8%,#9dff5a 26.4%,#7aff7d 26.7%,#5aff9d 27.5%,#50ffa7 28.6%,#6dff8a 34.7%,#63ff94 39.2%,#29ffce 46.0%,#1cffdb 50.6%,#23ffd4 55.9%,#63ff94 73.3%,#77ff80 83.1%,#70ff87 89.1%,#66ff90 95.2%,#7aff7d 99.7%,#7aff7d 99.9%)"></div>
<div style="top:152px;height:5px;background:linear-gradient(90deg,#cd0000 0.1%,#ed0400 6.1%,#ff1600 14.5%,#ff1600 22.0%,#ff1600 23.5%,#ff2200 24.5%,#ff3b00 25.0%,#ff6f00 25.6%,#ffc800 26.2%,#ffea00 26.4%,#e4ff13 26.6%,#9dff5a 27.1%,#77ff80 27.7%,#63ff94 28.4%,#6aff8d 30.7%,#7dff7a 34.5%,#7aff7d 38.3%,#5dff9a 42.1%,#36ffc1 46.6%,#29ffce 51.1%,#33ffc4 57.9%,#4dffaa 67.0%,#70ff87 77.6%,#7aff7d 85.2%,#6aff8d 95.0%,#7aff7d 99.5%,#7dff7a 99.9%)"></div>
<div style="top:156px;height:5px;background:linear-gradient(90deg,#cd0000 0.1%,#ed0400 6.1%,#ff1600 14.5%,#ff1600 22.0%,#ff1300 24.3%,#ff2900 25.4%,#ff4e00 26.0%,#ff9400 26.6%,#f8f500 27.1%,#deff19 27.3%,#a0ff56 27.9%,#7dff7a 28.6%,#73ff83 29.6%,#90ff66 34.9%,#8aff6d 38.7%,#73ff83 41.7%,#49ffad 46.2%,#36ffc1 51.5%,#46ffb1 64.4%,#73ff83 78.0%,#77ff80 87.1%,#70ff87 95.4%,#7aff7d 99.1%,#80ff77 99.9%)"></div>
<div style="top:160px;height:5px;background:linear-gradient(90deg,#cd0000 0.1%,#ed0400 6.1%,#ff1600 14.5%,#ff1600 22.0%,#ff1300 25.0%,#ff2500 26.0%,#ff4700 26.6%,#ff6c00 26.9%,#ffdb00 27.7%,#f4f802 27.9%,#c7ff30 28.3%,#9dff5a 28.8%,#8aff6d 29.6%,#a0ff56 35.6%,#9aff5d 39.4%,#6aff8d 44.7%,#50ffa7 48.5%,#43ffb4 55.3%,#50ffa7 65.9%,#77ff80 78.7%,#7aff7d 88.6%,#73ff83 96.1%,#83ff73 99.9%)"></div>
<div style="top:164px;height:5px;background:linear-gradient(90deg,#cd0000 0.1%,#ed0400 6.1%,#ff1600 14.5%,#ff1600 20.5%,#fa0f00 22.8%,#f60b00 25.8%,#ff1a00 26.6%,#ff3400 27.1%,#ff6c00 27.7%,#ffdb00 28.4%,#f4f802 28.6%,#b7ff40 29.4%,#a0ff56 30.3%,#b1ff46 36.4%,#aaff4d 40.2%,#70ff87 46.2%,#5aff9d 50.8%,#50ffa7 58.3%,#56ffa0 66.6%,#77ff80 78.0%,#7dff7a 87.8%,#77ff80 96.1%,#87ff70 99.9%)"></div>
<div style="top:168px;height:5px;background:linear-gradient(90deg,#cd0000 0.1%,#ed0400 6.1%,#ff1600 14.5%,#ff1600 20.5%,#f10800 23.5%,#e80000 25.8%,#f60b00 26.9%,#ff2900 27.7%,#ff5900 28.3%,#feed00 29.4%,#eeff09 29.6%,#caff2c 30.2%,#b7ff40 31.3%,#c1ff36 38.8%,#adff49 41.9%,#7aff7d 47.2%,#60ff97 54.0%,#5aff9d 65.3%,#7dff7a 80.4%,#7dff7a 91.8%,#7dff7a 97.1%,#87ff70 99.3%,#8aff6d 99.9%)"></div>
<div style="top:172px;height:5px;background:linear-gradient(90deg,#cd0000 0.1%,#ed0400 6.1%,#ff1600 14.5%,#ff1600 20.5%,#fa0f00 22.0%,#e80000 24.3%,#df0000 26.6%,#e80000 27.5%,#ff1300 28.1%,#ff3400 28.6%,#ff7300 29.2%,#ffe200 30.2%,#eeff09 30.5%,#d4ff23 31.3%,#caff2c 32.8%,#d1ff26 39.6%,#83ff73 48.7%,#66ff90 57.8%,#63ff94 65.3%,#80ff77 81.2%,#83ff73 97.1%,#8dff6a 99.3%,#90ff66 99.9%)"></div>
<div style="top:176px;height:5px;background:linear-gradient(90deg,#cd0000 0.1%,#ed0400 6.1%,#ff1600 14.5%,#ff1600 20.5%,#fa0f00 22.0%,#e40000 24.3%,#d60000 26.6%,#da0000 27.7%,#e80000 28.4%,#ff1a00 29.0%,#ff4700 29.6%,#ffc800 30.7%,#fbf100 31.3%,#e7ff0f 31.9%,#dbff1c 33.4%,#deff19 40.2%,#97ff60 48.5%,#6dff8a 59.8%,#6dff8a 68.1%,#83ff73 81.0%,#87ff70 96.1%,#97ff60 99.9%)"></div>
<div style="top:180px;height:5px;background:linear-gradient(90deg,#cd0000 0.1%,#ed0400 6.1%,#ff1600 14.5%,#ff1600 20.5%,#f60b00 22.8%,#e40000 24.3%,#cd0000 26.6%,#d10000 28.1%,#da0000 28.8%,#ed0400 29.4%,#ff1a00 29.8%,#ff4a00 30.3%,#ffc100 31.5%,#ffe200 32.0%,#eeff09 33.0%,#e4ff13 35.3%,#e7ff0f 40.5%,#a7ff50 48.9%,#7aff7d 59.5%,#73ff83 67.8%,#8aff6d 82.9%,#8dff6a 96.5%,#9aff5d 99.5%,#9aff5d 99.9%)"></div>
<div style="top:184px;height:5px;background:linear-gradient(90deg,#cd0000 0.1%,#ed0400 6.1%,#ff1600 14.5%,#ff1600 20.5%,#fa0f00 22.0%,#e40000 24.3%,#c40000 27.3%,#c80000 28.8%,#e40000 30.0%,#f60b00 30.3%,#ff2500 30.7%,#ffab00 32.0%,#ffd700 32.8%,#f8f500 33.9%,#f1fc06 36.2%,#f1fc06 40.7%,#b4ff43 49.8%,#80ff77 61.2%,#80ff77 71.7%,#90ff66 86.1%,#94ff63 96.7%,#a0ff56 99.7%,#a0ff56 99.9%)"></div>
<div style="top:188px;height:5px;background:linear-gradient(90deg,#cd0000 0.1%,#ed0400 6.1%,#ff1600 15.2%,#ff1600 20.5%,#ff1300 22.0%,#df0000 25.0%,#bb0000 28.1%,#c40000 29.6%,#df0000 30.7%,#e80000 30.9%,#ff1a00 31.3%,#ff9f00 32.8%,#ffd000 33.7%,#feed00 35.3%,#fbf100 40.5%,#ebff0c 43.6%,#9aff5d 57.9%,#87ff70 64.7%,#8dff6a 76.1%,#97ff60 93.5%,#a7ff50 99.5%,#aaff4d 99.9%)"></div>
<div style="top:192px;height:5px;background:linear-gradient(90deg,#cd0000 0.1%,#ed0400 6.1%,#ff1600 15.2%,#ff1300 22.0%,#e40000 25.0%,#b60000 28.1%,#bb0000 30.3%,#da0000 31.5%,#f10800 31.9%,#ff1300 32.0%,#ff9100 33.6%,#ffc400 34.5%,#ffe200 36.0%,#ffea00 41.3%,#f1fc06 44.3%,#a0ff56 59.5%,#90ff66 66.3%,#a0ff56 95.7%,#adff49 99.5%,#b1ff46 99.9%)"></div>
<div style="top:196px;height:5px;background:linear-gradient(90deg,#cd0000 0.1%,#ed0400 6.1%,#ff1600 15.2%,#ff1300 22.0%,#e80000 25.0%,#b60000 28.1%,#ad0000 29.6%,#b60000 31.1%,#d10000 32.2%,#e40000 32.6%,#ff1600 33.0%,#ff9100 34.5%,#ffbd00 35.4%,#ffd300 36.6%,#ffdb00 38.8%,#ffe600 43.4%,#eeff09 47.9%,#c7ff30 54.7%,#a7ff50 60.8%,#9aff5d 69.1%,#a7ff50 95.6%,#b4ff43 99.3%,#b7ff40 99.9%)"></div>
<div style="top:200px;height:5px;background:linear-gradient(90deg,#cd0000 0.1%,#ed0400 6.1%,#ff1600 16.0%,#fa0f00 22.8%,#ed0400 25.0%,#b20000 28.8%,#a80000 30.0%,#a80000 31.3%,#bb0000 32.4%,#d10000 33.2%,#e80000 33.6%,#fa0f00 33.7%,#ff8200 35.3%,#ffb600 36.4%,#ffcc00 37.9%,#ffe200 44.7%,#f8f500 48.5%,#e7ff0f 52.3%,#baff3c 59.1%,#a4ff53 68.1%,#adff49 95.4%,#beff39 99.9%)"></div>
<div style="top:204px;height:5px;background:linear-gradient(90deg,#cd0000 0.1%,#ed0400 6.1%,#ff1600 16.7%,#fa0f00 23.5%,#df0000 26.6%,#bb0000 28.8%,#a40000 31.1%,#ad0000 32.6%,#d10000 33.9%,#e80000 34.3%,#ff1600 34.7%,#ff7a00 36.0%,#ff9f00 36.8%,#ffbd00 38.3%,#fbf100 51.1%,#ebff0c 53.4%,#c1ff36 60.2%,#adff49 70.8%,#b4ff43 95.0%,#c4ff33 99.5%,#c4ff33 99.9%)"></div>
<div style="top:208px;height:5px;background:linear-gradient(90deg,#cd0000 0.1%,#ed0400 6.1%,#ff1300 16.7%,#fa0f00 23.5%,#ed0400 25.8%,#a80000 31.1%,#a80000 32.6%,#b60000 33.7%,#c80000 34.5%,#e40000 35.1%,#ff1600 35.4%,#ff7e00 37.0%,#ffa300 38.1%,#ffb900 39.6%,#ffe200 50.9%,#f4f802 54.0%,#e4ff13 56.2%,#ceff29 60.8%,#b7ff40 71.4%,#beff39 95.6%,#caff2c 99.3%,#caff2c 99.9%)"></div>
<div style="top:212px;height:5px;background:linear-gradient(90deg,#cd0000 0.1%,#ed0400 6.1%,#ff1300 17.5%,#fa0f00 23.5%,#ed0400 26.6%,#a80000 31.9%,#a80000 33.4%,#bb0000 34.9%,#e40000 35.8%,#ff1300 36.2%,#ff6c00 37.5%,#ff9100 38.5%,#ffab00 39.8%,#ffd700 51.1%,#feed00 54.2%,#eeff09 56.4%,#d7ff1f 61.7%,#c1ff36 73.1%,#c4ff33 95.0%,#d1ff26 99.5%,#d4ff23 99.9%)"></div>
<div style="top:216px;height:5px;background:linear-gradient(90deg,#cd0000 0.1%,#ed0400 6.1%,#ff1300 19.0%,#f60b00 25.0%,#e40000 28.1%,#a80000 32.6%,#a80000 34.1%,#bb0000 35.6%,#d60000 36.4%,#ed0400 36.8%,#ff1a00 37.1%,#ff6400 38.3%,#ff8d00 39.4%,#ffa300 40.9%,#ffb900 46.2%,#ffd300 52.3%,#f8f500 56.8%,#ebff0c 59.1%,#ceff29 72.7%,#ceff29 96.1%,#dbff1c 99.9%)"></div>
<div style="top:220px;height:5px;background:linear-gradient(90deg,#cd0000 0.1%,#ed0400 6.1%,#ff1300 19.8%,#f10800 27.3%,#da0000 29.6%,#a80000 33.4%,#a80000 34.9%,#bb0000 36.4%,#df0000 37.3%,#ff1600 37.9%,#ff6400 39.2%,#ff8d00 40.5%,#ff9f00 42.1%,#ffc400 51.9%,#fbf100 58.7%,#ebff0c 66.3%,#dbff1c 72.3%,#d7ff1f 97.3%,#deff19 99.5%,#e1ff16 99.9%)"></div>
<div style="top:224px;height:5px;background:linear-gradient(90deg,#cd0000 0.1%,#ed0400 6.1%,#ff1300 19.8%,#f60b00 26.6%,#ed0400 28.8%,#d10000 31.1%,#a80000 34.1%,#a80000 35.6%,#bb0000 37.1%,#d60000 37.9%,#e80000 38.3%,#ff1600 38.7%,#ff5500 39.8%,#ff7e00 40.9%,#ff9c00 43.2%,#ffb900 51.5%,#ffe200 58.3%,#fbf100 66.6%,#ebff0c 70.4%,#deff19 96.9%,#e7ff0f 99.9%)"></div>
<div style="top:228px;height:5px;background:linear-gradient(90deg,#cd0000 0.1%,#ed0400 6.1%,#fa0f00 19.0%,#f60b00 28.1%,#df0000 31.1%,#b20000 34.1%,#a80000 35.3%,#a80000 36.6%,#bf0000 38.1%,#da0000 38.8%,#f10800 39.2%,#ff1300 39.4%,#ff5900 40.7%,#ff7e00 42.1%,#ff9100 43.6%,#ffb600 52.6%,#ffd300 58.7%,#ffdb00 65.5%,#f8f500 71.6%,#e7ff0f 92.7%,#ebff0c 98.8%,#eeff09 99.9%)"></div>
<div style="top:232px;height:5px;background:linear-gradient(90deg,#cd0000 0.1%,#ed0400 6.1%,#fa0f00 19.8%,#f60b00 28.8%,#e80000 31.1%,#a80000 35.6%,#a80000 37.1%,#bb0000 38.7%,#e40000 39.8%,#ff1a00 40.4%,#ff5d00 41.7%,#ff7e00 43.0%,#ff9100 45.3%,#ffa700 52.1%,#ffc100 57.4%,#ffc400 64.9%,#ffe600 72.5%,#f8f500 88.4%,#f1fc06 98.2%,#f4f802 99.7%,#f4f802 99.9%)"></div>
<div style="top:236px;height:5px;background:linear-gradient(90deg,#cd0000 0.1%,#e80000 5.4%,#fa0f00 19.8%,#f60b00 30.3%,#df0000 32.6%,#b20000 35.6%,#a80000 36.8%,#a80000 38.1%,#bf0000 39.6%,#da0000 40.4%,#ed0400 40.7%,#ff1600 41.1%,#ff4700 42.1%,#ff6c00 43.2%,#ff8200 44.7%,#ff9400 49.2%,#ffae00 56.0%,#ffb200 65.1%,#ffd300 72.7%,#fbf100 94.6%,#fbf100 99.9%)"></div>
<div style="top:240px;height:5px;background:linear-gradient(90deg,#cd0000 0.1%,#e80000 5.4%,#fa0f00 20.5%,#fa0f00 30.3%,#e80000 32.6%,#c80000 34.9%,#a80000 37.1%,#a80000 38.7%,#bb0000 40.2%,#d10000 40.9%,#ed0400 41.5%,#ff1600 41.9%,#ff5900 43.4%,#ff7700 44.9%,#ff8d00 49.4%,#ffa300 57.0%,#ff9c00 64.6%,#ffc100 72.1%,#ffea00 98.6%,#ffea00 99.9%)"></div>
<div style="top:244px;height:5px;background:linear-gradient(90deg,#cd0000 0.1%,#e80000 5.4%,#ff1300 25.0%,#fa0f00 31.9%,#e40000 34.1%,#b20000 37.1%,#a80000 38.3%,#a80000 39.6%,#bf0000 41.1%,#e80000 42.2%,#ff1300 42.6%,#ff4700 43.8%,#ff7300 46.0%,#ff9400 54.3%,#ff8d00 61.9%,#ff8d00 65.7%,#ffb600 74.0%,#ffde00 99.0%,#ffde00 99.9%)"></div>
<div style="top:248px;height:5px;background:linear-gradient(90deg,#cd0000 0.1%,#e80000 5.4%,#ff1300 25.0%,#ff1300 31.9%,#e40000 34.9%,#b20000 37.9%,#a80000 39.0%,#a80000 40.4%,#bb0000 41.7%,#d60000 42.6%,#f10800 43.2%,#ff1e00 43.8%,#ff5200 45.3%,#ff6f00 47.5%,#ff8900 55.1%,#ff7700 64.9%,#ff9f00 72.5%,#ffd300 99.0%,#ffd300 99.9%)"></div>
<div style="top:252px;height:5px;background:linear-gradient(90deg,#cd0000 0.1%,#e80000 5.4%,#ff1600 25.0%,#ff1600 31.9%,#fa0f00 33.4%,#e40000 35.6%,#b20000 38.7%,#a80000 39.8%,#a80000 41.1%,#bb0000 42.6%,#da0000 43.8%,#fa0f00 44.5%,#ff3f00 45.8%,#ff5d00 47.4%,#ff7300 50.4%,#ff7a00 56.4%,#ff6800 63.2%,#ff6f00 66.3%,#ff9800 75.3%,#ffc400 98.8%,#ffc400 99.9%)"></div>
<div style="top:256px;height:5px;background:linear-gradient(90deg,#cd0000 0.1%,#e80000 5.4%,#ff1600 24.3%,#ff1600 33.4%,#f60b00 34.9%,#e40000 36.4%,#b20000 39.4%,#a80000 40.5%,#a80000 42.1%,#bb0000 43.6%,#df0000 44.9%,#f60b00 45.5%,#ff1a00 45.8%,#ff4700 47.4%,#ff5d00 48.9%,#ff6c00 51.9%,#ff6c00 56.4%,#ff5900 63.2%,#ff6000 66.3%,#ff8900 75.3%,#ffae00 93.5%,#ffb600 99.5%,#ffb600 99.9%)"></div>
<div style="top:260px;height:5px;background:linear-gradient(90deg,#cd0000 0.1%,#e80000 5.4%,#ff1300 21.3%,#ff1e00 30.3%,#ff1600 34.1%,#fa0f00 35.6%,#e40000 37.1%,#b20000 40.2%,#a80000 41.3%,#a80000 42.8%,#c40000 45.1%,#e80000 46.2%,#ff1600 46.8%,#ff3f00 48.3%,#ff5500 49.8%,#ff6400 53.6%,#ff4e00 61.9%,#ff5200 66.4%,#ff7a00 75.5%,#ff9f00 92.9%,#ffa700 99.7%,#ffa700 99.9%)"></div>
<div style="top:264px;height:5px;background:linear-gradient(90deg,#cd0000 0.1%,#e80000 5.4%,#fa0f00 19.0%,#ff2200 29.6%,#ff1a00 34.1%,#fa0f00 36.4%,#e40000 37.9%,#b20000 40.9%,#a80000 42.4%,#a80000 44.0%,#bb0000 45.5%,#df0000 47.0%,#fa0f00 47.7%,#ff3800 49.2%,#ff4e00 50.8%,#ff5500 54.5%,#ff3f00 62.9%,#ff5200 68.9%,#ff6f00 76.5%,#ff8d00 90.8%,#ff9800 99.9%)"></div>
<div style="top:268px;height:5px;background:linear-gradient(90deg,#cd0000 0.1%,#e80000 5.4%,#f60b00 16.7%,#ff1600 22.0%,#ff2500 31.1%,#ff1600 35.6%,#fa0f00 37.1%,#e40000 38.7%,#b60000 41.7%,#a40000 44.0%,#b60000 46.2%,#d10000 47.7%,#ed0400 48.5%,#ff1a00 49.2%,#ff3b00 50.8%,#ff4a00 53.8%,#ff3b00 59.1%,#ff3400 62.9%,#ff5200 71.9%,#ff6400 78.0%,#ff8600 94.6%,#ff8600 99.9%)"></div>
<div style="top:272px;height:5px;background:linear-gradient(90deg,#cd0000 0.1%,#e80000 5.4%,#f60b00 16.7%,#ff1a00 22.0%,#ff2900 30.3%,#ff1a00 35.6%,#ff1300 37.1%,#e40000 39.4%,#ad0000 43.2%,#a40000 44.7%,#b20000 47.0%,#cd0000 48.5%,#ed0400 49.6%,#ff1a00 50.4%,#ff3800 52.6%,#ff3f00 54.9%,#ff2d00 61.0%,#ff3400 67.0%,#ff5900 77.6%,#ff6c00 87.4%,#ff7a00 96.5%,#ff7700 99.5%,#ff7700 99.9%)"></div>
<div style="top:276px;height:5px;background:linear-gradient(90deg,#cd0000 0.1%,#e80000 5.4%,#f60b00 16.7%,#ff1600 21.3%,#ff2900 28.8%,#ff2200 34.9%,#ff1300 37.9%,#e80000 40.2%,#a80000 44.7%,#a80000 47.0%,#c40000 49.2%,#e80000 50.8%,#ff1600 51.9%,#ff2900 53.4%,#ff3000 55.7%,#ff2500 62.5%,#ff3400 69.3%,#ff4e00 78.4%,#ff6c00 94.2%,#ff6800 99.5%,#ff6800 99.9%)"></div>
<div style="top:280px;height:5px;background:linear-gradient(90deg,#cd0000 0.1%,#e80000 5.4%,#f60b00 16.7%,#ff1600 21.3%,#ff2d00 28.8%,#ff2200 35.6%,#ff1300 38.7%,#e80000 40.9%,#b20000 44.7%,#a40000 47.0%,#b60000 49.2%,#c80000 50.8%,#e80000 52.3%,#ff1300 53.4%,#ff2500 55.7%,#ff1e00 64.0%,#ff4300 78.4%,#ff5d00 92.0%,#ff5900 99.5%,#ff5500 99.9%)"></div>
<div style="top:284px;height:5px;background:linear-gradient(90deg,#cd0000 0.1%,#e80000 5.4%,#f60b00 16.7%,#ff1a00 21.3%,#ff3000 30.3%,#ff1600 38.7%,#f10800 40.9%,#df0000 42.4%,#a80000 47.0%,#a80000 49.2%,#cd0000 52.3%,#e80000 53.8%,#ff1300 55.3%,#ff1a00 58.3%,#ff1a00 65.1%,#ff3b00 79.5%,#ff5200 92.3%,#ff4a00 99.9%)"></div>
<div style="top:288px;height:5px;background:linear-gradient(90deg,#cd0000 0.1%,#e80000 5.4%,#f60b00 16.7%,#ff1600 20.5%,#ff3000 28.8%,#ff2900 34.1%,#fa0f00 40.2%,#e80000 42.4%,#a80000 47.7%,#a80000 50.0%,#b60000 52.3%,#e80000 55.3%,#fa0f00 57.6%,#ff1e00 68.9%,#ff3000 78.7%,#ff4a00 93.1%,#ff3b00 99.9%)"></div>
<div style="top:292px;height:5px;background:linear-gradient(90deg,#cd0000 0.1%,#e80000 5.4%,#f60b00 16.7%,#ff1600 20.5%,#ff3000 28.1%,#ff2d00 33.4%,#fa0f00 40.9%,#e40000 44.0%,#ad0000 48.5%,#a80000 50.0%,#a80000 51.5%,#bb0000 53.8%,#ed0400 57.6%,#ff1300 65.9%,#ff2900 78.7%,#ff3f00 92.3%,#ff3000 99.9%)"></div>
<div style="top:296px;height:5px;background:linear-gradient(90deg,#cd0000 0.1%,#e80000 5.4%,#f60b00 16.7%,#ff1600 20.5%,#ff3000 28.1%,#ff3000 32.6%,#fa0f00 40.9%,#e40000 44.7%,#b20000 49.2%,#a80000 51.5%,#ad0000 53.8%,#df0000 58.3%,#fa0f00 64.4%,#ff3400 89.3%,#ff3400 95.4%,#ff2500 99.9%)"></div>
<div style="top:300px;height:5px;background:linear-gradient(90deg,#cd0000 0.1%,#e80000 5.4%,#f60b00 16.7%,#ff1600 20.5%,#ff3000 28.1%,#ff3000 32.6%,#fa0f00 41.7%,#df0000 46.2%,#b20000 51.5%,#b20000 54.5%,#ed0400 62.9%,#ff1300 69.7%,#ff2d00 88.6%,#ff2d00 95.4%,#ff2200 99.9%)"></div>
<div style="top:304px;height:5px;background:linear-gradient(90deg,#cd0000 0.1%,#e80000 5.4%,#f60b00 16.7%,#ff1a00 21.3%,#ff3000 28.1%,#ff3000 32.6%,#fa0f00 41.7%,#e40000 47.0%,#bb0000 52.3%,#b20000 54.5%,#cd0000 59.8%,#ed0400 64.4%,#ff1300 72.7%,#ff2900 92.3%,#ff1e00 99.9%)"></div>
<div style="top:308px;height:5px;background:linear-gradient(90deg,#cd0000 0.1%,#e80000 5.4%,#f60b00 16.7%,#ff1a00 21.3%,#ff3000 28.8%,#ff2d00 33.4%,#fa0f00 41.7%,#e40000 47.7%,#bb0000 54.5%,#bf0000 59.1%,#ed0400 65.9%,#ff1300 75.7%,#ff2500 93.1%,#ff1a00 99.9%)"></div>
<div style="top:312px;height:5px;background:linear-gradient(90deg,#cd0000 0.1%,#e80000 5.4%,#f60b00 17.5%,#ff1600 20.5%,#ff3000 28.8%,#ff2900 34.1%,#fa0f00 41.7%,#e40000 49.2%,#bf0000 56.0%,#c40000 60.6%,#e40000 65.1%,#fa0f00 74.2%,#ff1e00 93.9%,#ff1a00 99.9%)"></div>
<div style="top:316px;height:5px;background:linear-gradient(90deg,#cd0000 0.1%,#e80000 5.4%,#f60b00 17.5%,#ff1600 21.3%,#ff2d00 28.1%,#ff2900 34.1%,#fa0f00 41.7%,#e40000 50.8%,#c80000 56.8%,#c80000 61.3%,#e40000 66.6%,#f60b00 74.2%,#ff1600 84.8%,#ff1a00 99.9%)"></div>
<div style="top:320px;height:5px;background:linear-gradient(90deg,#cd0000 0.1%,#e80000 5.4%,#f60b00 17.5%,#ff1a00 22.0%,#ff2d00 29.6%,#ff1e00 36.4%,#fa0f00 41.7%,#ed0400 48.5%,#df0000 53.8%,#cd0000 59.8%,#d60000 63.6%,#ed0400 71.9%,#ff1300 87.1%,#ff1a00 99.9%)"></div>
<div style="top:324px;height:5px;background:linear-gradient(90deg,#cd0000 0.1%,#e80000 5.4%,#f60b00 18.2%,#ff1600 21.3%,#ff2900 28.8%,#ff2200 34.9%,#fa0f00 40.9%,#ed0400 49.2%,#da0000 58.3%,#da0000 65.1%,#ed0400 73.4%,#ff1600 96.9%,#ff1600 99.9%)"></div>
<div style="top:328px;height:5px;background:linear-gradient(90deg,#cd0000 0.1%,#e80000 5.4%,#f10800 16.0%,#ff1a00 22.8%,#ff2500 29.6%,#ff2200 34.1%,#fa0f00 40.9%,#ed0400 48.5%,#e40000 57.6%,#da0000 62.1%,#ed0400 74.2%,#f10800 89.3%,#ff1300 99.9%)"></div>
<div style="top:332px;height:5px;background:linear-gradient(90deg,#cd0000 0.1%,#e80000 5.4%,#f60b00 19.0%,#ff1600 22.8%,#ff2500 31.1%,#fa0f00 40.2%,#ed0400 49.2%,#e40000 65.9%,#ed0400 77.2%,#f10800 97.6%,#f60b00 99.9%)"></div>
<div style="top:336px;height:5px;background:linear-gradient(90deg,#cd0000 0.1%,#e80000 5.4%,#f10800 16.7%,#ff1600 23.5%,#ff2200 31.1%,#fa0f00 40.2%,#ed0400 47.7%,#ed0400 99.9%)"></div>
<div style="top:340px;height:5px;background:linear-gradient(90deg,#cd0000 0.1%,#e80000 5.4%,#f10800 17.5%,#ff1600 24.3%,#ff1e00 32.6%,#fa0f00 39.4%,#ed0400 47.7%,#ed0400 61.3%,#f60b00 66.6%,#ed0400 80.2%,#ed0400 99.9%)"></div>
<div style="top:344px;height:5px;background:linear-gradient(90deg,#cd0000 0.1%,#ed0400 6.9%,#f10800 18.2%,#ff1600 25.0%,#ff1600 34.9%,#ed0400 47.0%,#f10800 61.3%,#ff1300 65.9%,#ff1300 69.7%,#f10800 76.5%,#ed0400 99.9%)"></div>
<div style="top:348px;height:5px;background:linear-gradient(90deg,#cd0000 0.1%,#ed0400 6.9%,#f10800 19.0%,#ff1600 25.8%,#ff1300 36.4%,#f10800 43.2%,#e80000 59.8%,#ff1300 64.4%,#ff1e00 68.1%,#fa0f00 76.5%,#ed0400 86.3%,#ed0400 99.9%)"></div>
<div style="top:352px;height:5px;background:linear-gradient(90deg,#cd0000 0.1%,#ed0400 6.9%,#f10800 19.0%,#ff1300 28.1%,#ff1300 34.9%,#ed0400 45.5%,#ed0400 61.3%,#ff1300 65.1%,#ff2200 68.1%,#ff1a00 76.5%,#fa0f00 81.8%,#ed0400 90.8%,#ed0400 99.9%)"></div>
<div style="top:356px;height:5px;background:linear-gradient(90deg,#cd0000 0.1%,#ed0400 6.9%,#f10800 19.8%,#ff1300 30.3%,#ed0400 47.0%,#ed0400 62.9%,#ff1600 67.4%,#ff2200 73.4%,#ff1a00 81.8%,#fa0f00 87.1%,#f10800 92.3%,#ed0400 99.9%)"></div>
<div style="top:360px;height:5px;background:linear-gradient(90deg,#cd0000 0.1%,#ed0400 6.9%,#f10800 21.3%,#fa0f00 28.8%,#f60b00 37.9%,#ed0400 47.0%,#e40000 61.3%,#f10800 66.6%,#ff1600 71.2%,#ff2500 79.5%,#fa0f00 91.6%,#ed0400 99.9%)"></div>
<div style="top:364px;height:5px;background:linear-gradient(90deg,#cd0000 0.1%,#ed0400 6.9%,#f10800 22.0%,#fa0f00 32.6%,#ed0400 45.5%,#e40000 62.1%,#e80000 67.4%,#ff1600 75.7%,#ff2500 85.5%,#fa0f00 96.9%,#f10800 99.9%)"></div>
<div style="top:368px;height:5px;background:linear-gradient(90deg,#cd0000 0.1%,#ed0400 6.9%,#f10800 23.5%,#f10800 39.4%,#df0000 57.6%,#e40000 69.7%,#ff1300 79.5%,#ff2500 89.3%,#ff1300 99.9%)"></div>
<div style="top:372px;height:5px;background:linear-gradient(90deg,#cd0000 0.1%,#ed0400 6.9%,#f10800 25.8%,#f10800 38.7%,#df0000 55.3%,#df0000 70.4%,#f10800 79.5%,#ff1600 85.5%,#ff2500 94.6%,#ff1e00 99.9%)"></div>
<div style="top:376px;height:5px;background:linear-gradient(90deg,#cd0000 0.1%,#e80000 6.1%,#f10800 37.1%,#da0000 54.5%,#da0000 70.4%,#ed0400 81.8%,#ff1600 90.1%,#ff2500 99.9%)"></div>
<div style="top:380px;height:5px;background:linear-gradient(90deg,#cd0000 0.1%,#e80000 6.1%,#f10800 35.6%,#da0000 53.0%,#cd0000 62.1%,#df0000 75.0%,#f10800 88.6%,#ff1600 95.4%,#ff2200 99.9%)"></div>
<div style="top:384px;height:5px;background:linear-gradient(90deg,#cd0000 0.1%,#e80000 6.1%,#f10800 33.4%,#e40000 46.2%,#c80000 59.1%,#c80000 66.6%,#e40000 78.7%,#f60b00 95.4%,#ff1600 99.9%)"></div>
<div style="top:388px;height:5px;background:linear-gradient(90deg,#cd0000 0.1%,#e80000 6.1%,#e80000 42.4%,#c80000 55.3%,#bf0000 59.8%,#bf0000 65.9%,#e40000 78.7%,#f10800 98.4%,#f60b00 99.9%)"></div>
<div style="top:392px;height:5px;background:linear-gradient(90deg,#cd0000 0.1%,#e80000 6.1%,#e80000 41.7%,#cd0000 51.5%,#b60000 59.1%,#b60000 65.9%,#df0000 78.0%,#e80000 85.5%,#f10800 99.9%)"></div>
<div style="top:396px;height:5px;background:linear-gradient(90deg,#cd0000 0.1%,#e80000 6.1%,#e80000 40.2%,#d10000 49.2%,#ad0000 58.3%,#ad0000 65.9%,#df0000 78.7%,#e80000 86.3%,#ed0400 99.9%)"></div>
<div style="top:400px;height:5px;background:linear-gradient(90deg,#cd0000 0.1%,#e80000 6.1%,#e80000 38.7%,#d10000 47.7%,#9f0000 59.1%,#a40000 65.9%,#d60000 76.5%,#e80000 84.8%,#ed0400 99.9%)"></div>
<div style="top:404px;height:5px;background:linear-gradient(90deg,#cd0000 0.1%,#e80000 6.1%,#e80000 37.1%,#d60000 45.5%,#b20000 53.0%,#960000 59.1%,#960000 65.1%,#da0000 78.0%,#e80000 86.3%,#ed0400 99.9%)"></div>
<div style="top:408px;height:5px;background:linear-gradient(90deg,#cd0000 0.1%,#e80000 6.1%,#e80000 35.6%,#d60000 44.7%,#a40000 54.5%,#8d0000 58.3%,#8d0000 65.1%,#da0000 78.7%,#e80000 86.3%,#ed0400 99.9%)"></div>
<div style="top:412px;height:5px;background:linear-gradient(90deg,#cd0000 0.1%,#e80000 6.1%,#e80000 34.1%,#da0000 42.4%,#c40000 47.7%,#890000 57.6%,#800000 62.9%,#920000 67.4%,#d60000 78.0%,#e80000 86.3%,#ed0400 99.9%)"></div>
<div style="top:416px;height:5px;background:linear-gradient(90deg,#cd0000 0.1%,#e80000 6.1%,#e80000 31.9%,#da0000 41.7%,#b60000 50.0%,#890000 56.8%,#800000 59.1%,#840000 65.9%,#a40000 71.2%,#c40000 75.7%,#df0000 81.0%,#e80000 88.6%,#ed0400 99.9%)"></div>
<div style="top:420px;height:5px;background:linear-gradient(90deg,#cd0000 0.1%,#e80000 6.1%,#e80000 29.6%,#da0000 40.9%,#bb0000 48.5%,#800000 57.6%,#840000 67.4%,#d10000 78.0%,#e40000 84.0%,#ed0400 96.9%,#ed0400 99.9%)"></div>
<div style="top:424px;height:5px;background:linear-gradient(90deg,#cd0000 0.1%,#e80000 6.1%,#e80000 27.3%,#da0000 40.2%,#bf0000 47.0%,#800000 56.8%,#840000 67.4%,#c80000 77.2%,#df0000 81.8%,#ed0400 93.9%,#ed0400 99.9%)"></div>
<div style="top:428px;height:5px;background:linear-gradient(90deg,#cd0000 0.1%,#e80000 6.1%,#e80000 25.8%,#d60000 40.9%,#bb0000 47.7%,#800000 56.8%,#840000 68.1%,#cd0000 78.0%,#e40000 84.8%,#ed0400 98.4%,#ed0400 99.9%)"></div>
<div style="top:432px;height:5px;background:linear-gradient(90deg,#cd0000 0.1%,#e80000 6.1%,#e80000 24.3%,#d60000 40.2%,#bb0000 47.7%,#800000 56.8%,#840000 68.1%,#c80000 78.0%,#df0000 83.3%,#e80000 90.1%,#ed0400 99.9%)"></div>
<div style="top:436px;height:5px;background:linear-gradient(90deg,#cd0000 0.1%,#e80000 6.1%,#e80000 23.5%,#d60000 39.4%,#bf0000 46.2%,#9f0000 52.3%,#800000 56.8%,#840000 68.1%,#c80000 78.0%,#e40000 85.5%,#ed0400 99.9%)"></div>
<div style="top:440px;height:5px;background:linear-gradient(90deg,#cd0000 0.1%,#e80000 6.1%,#e80000 22.8%,#d10000 41.7%,#ad0000 50.0%,#800000 57.6%,#840000 68.1%,#ad0000 75.0%,#da0000 82.5%,#e80000 90.8%,#ed0400 99.9%)"></div>
<div style="top:444px;height:5px;background:linear-gradient(90deg,#cd0000 0.1%,#e80000 6.1%,#e80000 22.0%,#d10000 40.9%,#b60000 48.5%,#800000 59.1%,#840000 68.9%,#cd0000 80.2%,#e40000 87.8%,#ed0400 99.9%)"></div>
<div style="top:448px;height:5px;background:linear-gradient(90deg,#cd0000 0.1%,#e80000 6.1%,#e80000 21.3%,#d10000 40.9%,#b60000 49.2%,#840000 59.1%,#840000 68.9%,#cd0000 81.0%,#e40000 87.8%,#ed0400 99.9%)"></div>
<div style="top:452px;height:5px;background:linear-gradient(90deg,#cd0000 0.1%,#e80000 6.1%,#e80000 21.3%,#d10000 40.9%,#b60000 50.0%,#890000 59.8%,#800000 65.9%,#8d0000 71.2%,#d10000 82.5%,#e80000 90.8%,#ed0400 99.9%)"></div>
<div style="top:456px;height:5px;background:linear-gradient(90deg,#cd0000 0.1%,#e80000 6.1%,#e80000 21.3%,#cd0000 44.0%,#b20000 52.3%,#890000 62.9%,#890000 69.7%,#b20000 78.0%,#d60000 84.0%,#e80000 92.3%,#ed0400 99.9%)"></div>
<div style="top:460px;height:5px;background:linear-gradient(90deg,#cd0000 0.1%,#e80000 6.1%,#e80000 21.3%,#d10000 42.4%,#bb0000 51.5%,#920000 62.1%,#890000 68.1%,#9f0000 75.0%,#d10000 83.3%,#e40000 89.3%,#ed0400 99.9%)"></div>
<div style="top:464px;height:5px;background:linear-gradient(90deg,#cd0000 0.1%,#e80000 6.1%,#e80000 22.0%,#cd0000 47.0%,#920000 65.9%,#960000 71.9%,#b60000 78.0%,#da0000 85.5%,#e80000 93.1%,#ed0400 99.9%)"></div>
<div style="top:468px;height:5px;background:linear-gradient(90deg,#cd0000 0.1%,#e80000 6.1%,#e80000 22.8%,#cd0000 48.5%,#b20000 58.3%,#9b0000 66.6%,#9f0000 72.7%,#df0000 86.3%,#ed0400 99.1%,#ed0400 99.9%)"></div>
<div style="top:472px;height:5px;background:linear-gradient(90deg,#cd0000 0.1%,#e80000 6.1%,#e80000 23.5%,#d10000 48.5%,#a40000 68.1%,#ad0000 74.2%,#da0000 84.8%,#e80000 92.3%,#ed0400 99.9%)"></div>
<div style="top:476px;height:5px;background:linear-gradient(90deg,#cd0000 0.1%,#e80000 6.1%,#e80000 24.3%,#d10000 52.3%,#b20000 67.4%,#b60000 74.2%,#df0000 85.5%,#ed0400 97.6%,#ed0400 99.9%)"></div></div></div>
<div class="hm" style="left:1434px;top:89px;width:528px;height:480px"><div class="hmi" style="filter:blur(1.5px)"><div style="top:0px;height:5px;background:linear-gradient(90deg,#0000bf 0.1%,#0000c4 3.9%,#0000cd 6.9%,#0000ff 10.7%,#0004ff 12.0%,#00e0fb 19.6%,#16ffe1 20.7%,#dbff1c 30.6%,#f4f802 32.9%,#ffe600 34.4%,#ff9800 41.2%,#ff1e00 78.3%,#fa0f00 88.2%,#ff2500 99.5%,#ff2500 99.9%)"></div>
<div style="top:4px;height:5px;background:linear-gradient(90deg,#0000bf 0.1%,#0000c4 3.9%,#0000cd 6.9%,#0000ff 10.7%,#0004ff 12.0%,#00dcfe 19.6%,#13fce4 20.7%,#d7ff1f 30.6%,#f1fc06 32.9%,#ffea00 34.4%,#ff9c00 41.2%,#ff3f00 67.7%,#ff1e00 79.1%,#fa0f00 88.2%,#ff2200 99.5%,#ff2500 99.9%)"></div>
<div style="top:8px;height:5px;background:linear-gradient(90deg,#0000bf 0.1%,#0000c4 3.9%,#0000cd 6.9%,#0000ff 10.7%,#0000ff 12.0%,#00d8ff 19.6%,#0cf4eb 20.5%,#1fffd7 21.5%,#d4ff23 30.6%,#eeff09 32.9%,#feed00 34.4%,#ff9c00 41.2%,#ff2200 77.6%,#fa0f00 88.2%,#ff2200 99.5%,#ff2500 99.9%)"></div>
<div style="top:12px;height:5px;background:linear-gradient(90deg,#0000bf 0.1%,#0000c4 3.9%,#0000cd 6.9%,#0000fa 10.7%,#0004ff 12.2%,#00c4ff 19.0%,#00e4f8 20.2%,#19ffde 21.3%,#ceff29 30.4%,#f1fc06 33.4%,#ffea00 34.9%,#ff9f00 41.0%,#ff5d00 59.2%,#ff1e00 79.6%,#fa0f00 88.0%,#ff2200 99.3%,#ff2500 99.9%)"></div>
<div style="top:16px;height:5px;background:linear-gradient(90deg,#0000bf 0.1%,#0000c4 3.9%,#0000cd 6.9%,#0000fa 10.7%,#0004ff 12.2%,#0068ff 16.0%,#00d8ff 19.8%,#0cf4eb 20.9%,#19ffde 21.5%,#ceff29 30.6%,#f1fc06 33.6%,#ffea00 35.1%,#ffa300 41.2%,#ff6f00 54.1%,#ff1e00 80.6%,#fa0f00 87.4%,#ff2200 99.5%,#ff2500 99.9%)"></div>
<div style="top:20px;height:5px;background:linear-gradient(90deg,#0000bf 0.1%,#0000c4 3.9%,#0000cd 6.9%,#0000ff 11.5%,#0004ff 12.2%,#0064ff 16.0%,#00d4ff 19.8%,#09f0ee 20.9%,#19ffde 21.7%,#ceff29 30.8%,#f1fc06 33.8%,#ffea00 35.3%,#ffab00 40.6%,#ff7700 52.0%,#ff2200 79.3%,#ff1300 88.4%,#ff2200 99.7%,#ff2200 99.9%)"></div>
<div style="top:24px;height:5px;background:linear-gradient(90deg,#0000bf 0.1%,#0000c4 3.9%,#0000cd 6.9%,#0000ff 11.5%,#0004ff 12.4%,#007cff 17.0%,#00d4ff 20.0%,#06ecf1 20.9%,#19ffde 21.9%,#caff2c 31.0%,#eeff09 34.0%,#ffea00 35.5%,#ffa700 41.6%,#ff7a00 51.4%,#ff2200 79.5%,#ff1300 88.5%,#ff2200 99.9%)"></div>
<div style="top:28px;height:5px;background:linear-gradient(90deg,#0000bf 0.1%,#0000c4 3.9%,#0000cd 6.9%,#0000ff 11.5%,#0004ff 12.4%,#0064ff 16.2%,#00d0ff 20.0%,#02e8f4 20.9%,#1cffdb 22.1%,#caff2c 31.2%,#eeff09 34.2%,#ffea00 35.7%,#ffae00 41.0%,#ff7a00 51.6%,#ff1e00 81.2%,#ff1300 88.7%,#ff2200 99.3%,#ff2200 99.9%)"></div>
<div style="top:32px;height:5px;background:linear-gradient(90deg,#0000bf 0.1%,#0000c4 3.9%,#0000cd 6.9%,#0000ff 11.5%,#0004ff 12.4%,#004cff 15.4%,#00e0fb 20.7%,#19ffde 22.1%,#c7ff30 31.2%,#ebff0c 34.2%,#feed00 35.7%,#ffb200 41.0%,#ff7e00 50.9%,#ff2500 78.9%,#ff1300 88.0%,#ff2200 99.3%,#ff2200 99.9%)"></div>
<div style="top:36px;height:5px;background:linear-gradient(90deg,#0000bf 0.1%,#0000c4 3.9%,#0000d1 7.7%,#0000ff 11.5%,#0004ff 12.6%,#0060ff 16.4%,#00e0fb 20.9%,#19ffde 22.3%,#baff3c 30.6%,#ebff0c 34.4%,#feed00 35.9%,#ffb200 41.2%,#ff7e00 51.0%,#ff2200 80.6%,#ff1300 87.4%,#ff2200 99.5%,#ff2200 99.9%)"></div>
<div style="top:40px;height:5px;background:linear-gradient(90deg,#0000bf 0.1%,#0000c8 6.2%,#0000df 9.2%,#0000ff 11.5%,#0004ff 12.6%,#0048ff 15.6%,#00dcfe 20.9%,#16ffe1 22.3%,#b7ff40 30.6%,#f1fc06 35.1%,#ffe600 36.6%,#ffb600 41.2%,#ff7a00 52.6%,#ff2500 79.8%,#ff1600 87.4%,#ff2200 99.5%,#ff2200 99.9%)"></div>
<div style="top:44px;height:5px;background:linear-gradient(90deg,#0000bf 0.1%,#0000c8 6.2%,#0000e8 9.9%,#0000fa 11.5%,#0004ff 12.8%,#0034ff 15.1%,#00e0fb 21.1%,#16ffe1 22.4%,#b7ff40 30.8%,#f1fc06 35.3%,#ffe600 36.8%,#ffb200 42.1%,#ff7e00 52.0%,#ff2200 81.5%,#ff1600 89.1%,#ff2200 99.7%,#ff2200 99.9%)"></div>
<div style="top:48px;height:5px;background:linear-gradient(90deg,#0000bf 0.1%,#0000c4 4.6%,#0000d1 7.7%,#0000fa 11.5%,#0004ff 12.8%,#0030ff 15.1%,#00dcfe 21.1%,#0cf4eb 22.1%,#1fffd7 23.0%,#baff3c 31.3%,#ebff0c 35.1%,#feed00 36.5%,#ffbd00 41.0%,#ff8200 50.9%,#ff2200 81.9%,#ff1600 89.5%,#ff2200 99.3%,#ff2200 99.9%)"></div>
<div style="top:52px;height:5px;background:linear-gradient(90deg,#0000bf 0.1%,#0000c4 4.6%,#0000d6 8.4%,#0000ff 12.2%,#0008ff 13.2%,#0038ff 15.4%,#00e0fb 21.5%,#16ffe1 22.8%,#70ff87 27.4%,#beff39 31.9%,#f1fc06 35.7%,#ffe600 37.2%,#ffb600 42.5%,#ff8200 51.6%,#ff2500 81.2%,#ff1600 88.7%,#ff2200 99.3%,#ff2200 99.9%)"></div>
<div style="top:56px;height:5px;background:linear-gradient(90deg,#0000bf 0.1%,#0000c4 4.6%,#0000d6 8.4%,#0000ff 12.2%,#0008ff 13.2%,#0034ff 15.4%,#00dcfe 21.5%,#0cf4eb 22.4%,#1fffd7 23.4%,#adff49 31.0%,#ebff0c 35.5%,#feed00 36.8%,#ffb900 42.1%,#ff8600 51.2%,#ff2900 80.0%,#ff1600 88.4%,#ff2200 99.7%,#ff2200 99.9%)"></div>
<div style="top:60px;height:5px;background:linear-gradient(90deg,#0000bf 0.1%,#0000c4 4.6%,#0000da 9.2%,#0000ff 12.2%,#0004ff 13.2%,#0030ff 15.4%,#00d8ff 21.5%,#0ff8e7 22.8%,#1fffd7 23.6%,#a0ff56 30.4%,#ebff0c 35.7%,#feed00 37.0%,#ffbd00 42.3%,#ff8900 50.7%,#ff2500 81.7%,#ff1600 87.8%,#ff2200 99.9%)"></div>
<div style="top:64px;height:5px;background:linear-gradient(90deg,#0000bf 0.1%,#0000c4 4.6%,#0000d6 8.4%,#0000ff 12.2%,#0004ff 13.2%,#001cff 14.7%,#00d4ff 21.5%,#09f0ee 22.6%,#19ffde 23.4%,#a4ff53 31.0%,#f1fc06 36.3%,#ffea00 37.8%,#ffb900 43.1%,#ff8600 51.4%,#ff1e00 84.8%,#ff1e00 96.9%,#ff2200 99.9%)"></div>
<div style="top:68px;height:5px;background:linear-gradient(90deg,#0000bf 0.1%,#0000c4 4.6%,#0000d6 8.4%,#0000df 9.8%,#0000ff 12.0%,#0004ff 13.4%,#001cff 14.9%,#00d4ff 21.7%,#09f0ee 22.8%,#19ffde 23.6%,#8aff6d 29.6%,#f1fc06 36.5%,#ffea00 38.0%,#ffc100 42.5%,#ff8600 51.6%,#ff2500 82.7%,#ff1a00 88.7%,#ff2200 99.3%,#ff2200 99.9%)"></div>
<div style="top:72px;height:5px;background:linear-gradient(90deg,#0000bf 0.1%,#0000c4 4.6%,#0000d6 8.4%,#0000df 9.8%,#0000fa 12.0%,#0004ff 13.5%,#001cff 15.1%,#00d4ff 21.9%,#02e8f4 22.6%,#1cffdb 23.8%,#baff3c 32.9%,#f1fc06 36.6%,#ffea00 38.2%,#ffab00 45.7%,#ff8600 51.8%,#ff1a00 87.4%,#ff2200 99.5%,#ff2200 99.9%)"></div>
<div style="top:76px;height:5px;background:linear-gradient(90deg,#0000bf 0.1%,#0000c4 4.6%,#0000d1 8.4%,#0000ff 12.2%,#0004ff 13.7%,#0020ff 15.2%,#00d8ff 22.1%,#06ecf1 22.8%,#1cffdb 24.0%,#baff3c 33.0%,#f1fc06 36.8%,#ffe600 39.1%,#ffbd00 43.7%,#ff8d00 50.5%,#ff2200 84.6%,#ff1a00 89.9%,#ff2200 99.7%,#ff2200 99.9%)"></div>
<div style="top:80px;height:5px;background:linear-gradient(90deg,#0000bf 0.1%,#0000c4 4.6%,#0000d6 9.2%,#0000fa 12.2%,#0004ff 13.7%,#001cff 15.2%,#00d4ff 22.1%,#09f0ee 23.2%,#19ffde 24.0%,#b7ff40 33.0%,#eeff09 36.8%,#feed00 38.4%,#ff8d00 50.5%,#ff1a00 87.6%,#ff2200 99.7%,#ff2200 99.9%)"></div>
<div style="top:84px;height:5px;background:linear-gradient(90deg,#0000bf 0.1%,#0000c4 4.6%,#0000d6 9.2%,#0000fa 12.2%,#0000ff 13.7%,#0018ff 15.2%,#00d0ff 22.1%,#00e4f8 22.8%,#16ffe1 24.0%,#b4ff43 33.0%,#eeff09 36.8%,#ffea00 39.1%,#ff8d00 50.5%,#ff1e00 86.8%,#ff2200 99.7%,#ff2200 99.9%)"></div>
<div style="top:88px;height:5px;background:linear-gradient(90deg,#0000bf 0.1%,#0000c4 4.6%,#0000d6 9.2%,#0000ff 13.0%,#0008ff 14.5%,#0028ff 16.0%,#00e0fb 22.8%,#16ffe1 24.1%,#caff2c 34.8%,#eeff09 37.0%,#ffea00 39.3%,#ff9100 49.9%,#ff1e00 87.0%,#ff2200 99.9%)"></div>
<div style="top:92px;height:5px;background:linear-gradient(90deg,#0000bf 0.1%,#0000c4 4.6%,#0000d6 9.2%,#0000ff 13.0%,#0004ff 14.5%,#0024ff 16.0%,#00dcfe 22.8%,#0cf4eb 23.8%,#1fffd7 24.7%,#e7ff0f 36.8%,#fbf100 39.1%,#ff9100 50.5%,#ff1e00 87.6%,#ff2200 99.7%,#ff2200 99.9%)"></div>
<div style="top:96px;height:5px;background:linear-gradient(90deg,#0000bf 0.1%,#0000c4 4.6%,#0000d1 9.2%,#0000ff 13.0%,#0000ff 14.5%,#0020ff 16.0%,#00d8ff 22.8%,#06ecf1 23.6%,#19ffde 24.5%,#e4ff13 36.6%,#f1fc06 38.2%,#ffe600 40.4%,#ff9400 50.3%,#ff1e00 87.4%,#ff2200 99.5%,#ff2200 99.9%)"></div>
<div style="top:100px;height:5px;background:linear-gradient(90deg,#0000bf 0.1%,#0000c4 4.6%,#0000d1 9.2%,#0000fa 13.0%,#0000ff 14.5%,#0008ff 15.2%,#00d4ff 22.8%,#09f0ee 24.0%,#19ffde 24.7%,#e4ff13 36.8%,#f1fc06 38.4%,#ffe600 40.6%,#ff9400 50.5%,#ff1e00 88.4%,#ff2200 99.7%,#ff2200 99.9%)"></div>
<div style="top:104px;height:5px;background:linear-gradient(90deg,#0000bf 0.1%,#0000c4 5.4%,#0000d1 9.2%,#0000ff 13.7%,#0000ff 15.1%,#00dcfe 23.4%,#16ffe1 24.7%,#e1ff16 36.8%,#f4f802 39.1%,#ffe200 41.4%,#ff9400 50.5%,#ff1e00 88.4%,#ff2200 99.7%,#ff2200 99.9%)"></div>
<div style="top:108px;height:5px;background:linear-gradient(90deg,#0000bf 0.1%,#0000c4 5.4%,#0000d1 9.2%,#0000ff 13.7%,#0004ff 15.2%,#00dcfe 23.6%,#16ffe1 24.9%,#e1ff16 37.0%,#f1fc06 39.3%,#ffe600 41.6%,#ff9800 49.9%,#ff2200 87.8%,#ff2200 99.9%)"></div>
<div style="top:112px;height:5px;background:linear-gradient(90deg,#0000bf 0.1%,#0000c4 5.4%,#0000d1 9.2%,#0000ff 13.7%,#0000ff 15.2%,#00d4ff 23.6%,#06ecf1 24.5%,#19ffde 25.5%,#d7ff1f 36.8%,#f1fc06 39.9%,#ffe600 42.1%,#ff9c00 50.5%,#ff5d00 68.7%,#ff2200 88.4%,#ff2200 99.7%,#ff2200 99.9%)"></div>
<div style="top:116px;height:5px;background:linear-gradient(90deg,#0000bf 0.1%,#0000c4 5.4%,#0000d1 9.2%,#0000ff 13.7%,#0000ff 15.2%,#00b8ff 22.8%,#00e0fb 24.3%,#16ffe1 25.7%,#d1ff26 37.0%,#f1fc06 40.8%,#ffe200 43.1%,#ff9f00 50.7%,#ff7300 62.0%,#ff2500 87.8%,#ff2200 99.9%)"></div>
<div style="top:120px;height:5px;background:linear-gradient(90deg,#0000bf 0.1%,#0000c4 5.4%,#0000d1 9.2%,#0000ff 14.5%,#0000ff 15.4%,#00a4ff 22.3%,#00dcfe 24.5%,#16ffe1 26.0%,#c4ff33 36.6%,#f1fc06 41.2%,#ffe600 43.5%,#ff9f00 51.0%,#ff7300 62.4%,#ff2500 88.9%,#ff2200 99.5%,#ff2200 99.9%)"></div>
<div style="top:124px;height:5px;background:linear-gradient(90deg,#0000bf 0.1%,#0000c4 5.4%,#0000d1 9.2%,#0000f1 13.0%,#0000ff 14.5%,#0004ff 15.6%,#008cff 21.7%,#00dcfe 24.7%,#13fce4 26.2%,#c1ff36 36.8%,#eeff09 41.4%,#ffea00 43.7%,#ffa700 50.5%,#ff7a00 60.3%,#ff2900 88.4%,#ff2200 99.7%,#ff2200 99.9%)"></div>
<div style="top:128px;height:5px;background:linear-gradient(90deg,#0000bf 0.1%,#0000c4 5.4%,#0000cd 9.2%,#0000ff 14.5%,#0004ff 15.8%,#0078ff 21.1%,#00d8ff 24.9%,#09f0ee 26.0%,#1cffdb 27.2%,#beff39 37.0%,#f1fc06 42.3%,#ffe600 44.6%,#ffab00 50.7%,#ff7700 62.0%,#ff2900 89.3%,#ff2500 99.9%)"></div>
<div style="top:132px;height:5px;background:linear-gradient(90deg,#0000bf 0.1%,#0000c4 5.4%,#0000cd 9.2%,#0000ff 15.2%,#0014ff 16.8%,#0074ff 21.3%,#00d4ff 25.1%,#06ecf1 26.2%,#19ffde 27.4%,#baff3c 37.2%,#ebff0c 42.5%,#fbf100 44.0%,#ffb200 50.1%,#ff7a00 61.5%,#ff2d00 88.7%,#ff2500 99.3%,#ff2500 99.9%)"></div>
<div style="top:136px;height:5px;background:linear-gradient(90deg,#0000bf 0.1%,#0000c4 5.4%,#0000d1 9.9%,#0000ff 15.2%,#0008ff 16.2%,#0060ff 20.7%,#00e0fb 26.0%,#16ffe1 27.6%,#aaff4d 36.6%,#f1fc06 43.5%,#ffe200 45.7%,#ffb200 51.0%,#ff8200 59.4%,#ff2d00 88.9%,#ff2500 99.5%,#ff2500 99.9%)"></div>
<div style="top:140px;height:5px;background:linear-gradient(90deg,#0000bf 0.1%,#0000c4 5.4%,#0000d1 9.9%,#0000ff 15.2%,#0004ff 16.2%,#0058ff 20.7%,#00d8ff 26.0%,#09f0ee 27.2%,#1cffdb 28.3%,#77ff80 33.6%,#adff49 37.4%,#ebff0c 43.5%,#fbf100 45.0%,#ffb900 50.3%,#ff7e00 60.9%,#ff3000 88.2%,#ff2500 99.5%,#ff2500 99.9%)"></div>
<div style="top:144px;height:5px;background:linear-gradient(90deg,#0000bf 0.1%,#0000c4 6.2%,#0000da 11.5%,#0000ff 15.2%,#0004ff 16.4%,#0054ff 20.9%,#00c4ff 25.5%,#00e4f8 27.0%,#19ffde 28.5%,#73ff83 33.8%,#b1ff46 38.4%,#f1fc06 44.4%,#ffe200 46.7%,#ffb900 51.2%,#ff8200 60.3%,#ff3000 89.1%,#ff2500 99.7%,#ff2500 99.9%)"></div>
<div style="top:148px;height:5px;background:linear-gradient(90deg,#0000bf 0.1%,#0000c4 6.2%,#0000da 11.5%,#0000ff 15.2%,#0004ff 16.6%,#0040ff 20.4%,#00d0ff 26.4%,#06ecf1 27.7%,#19ffde 28.9%,#66ff90 33.4%,#a7ff50 38.0%,#f1fc06 44.8%,#ffe200 47.1%,#ffb900 51.6%,#ff8600 59.9%,#ff3400 88.7%,#ff2500 99.3%,#ff2500 99.9%)"></div>
<div style="top:152px;height:5px;background:linear-gradient(90deg,#0000bf 0.1%,#0000c4 6.2%,#0000d6 10.7%,#0000ff 16.0%,#000cff 17.3%,#004cff 21.1%,#00c8ff 26.4%,#00e4f8 27.7%,#16ffe1 28.9%,#77ff80 34.9%,#a0ff56 38.0%,#ebff0c 44.8%,#fbf100 46.3%,#ffc800 50.1%,#ff8600 59.9%,#ff3400 89.5%,#ff2900 99.3%,#ff2900 99.9%)"></div>
<div style="top:156px;height:5px;background:linear-gradient(90deg,#0000bf 0.1%,#0000c4 6.2%,#0000d1 9.9%,#0000e8 13.7%,#0000ff 16.0%,#0008ff 17.3%,#0044ff 21.1%,#00c0ff 26.4%,#00e0fb 27.9%,#16ffe1 29.3%,#8dff6a 36.8%,#ebff0c 45.2%,#fbf100 46.7%,#ffc400 51.2%,#ff8900 59.6%,#ff3400 89.9%,#ff2900 99.7%,#ff2900 99.9%)"></div>
<div style="top:160px;height:5px;background:linear-gradient(90deg,#0000bf 0.1%,#0000c4 6.2%,#0000da 12.2%,#0000ff 16.0%,#0008ff 17.5%,#0030ff 20.5%,#00bcff 26.6%,#00e0fb 28.1%,#16ffe1 29.6%,#6aff8d 34.9%,#b7ff40 41.0%,#ebff0c 45.5%,#fbf100 47.1%,#ffc400 51.6%,#ff8900 59.9%,#ff3800 89.5%,#ff2900 99.3%,#ff2900 99.9%)"></div>
<div style="top:164px;height:5px;background:linear-gradient(90deg,#0000bf 0.1%,#0000c4 6.2%,#0000d6 11.5%,#0000f6 15.2%,#0000ff 16.8%,#0014ff 19.0%,#0028ff 20.5%,#00b4ff 26.6%,#00d8ff 28.1%,#09f0ee 29.3%,#1cffdb 30.4%,#5aff9d 34.2%,#baff3c 41.8%,#eeff09 46.3%,#feed00 47.8%,#ffab00 55.4%,#ff8d00 59.2%,#ff3800 90.2%,#ff2900 99.3%,#ff2900 99.9%)"></div>
<div style="top:168px;height:5px;background:linear-gradient(90deg,#0000bf 0.1%,#0000c4 6.2%,#0000d1 10.7%,#0000e3 13.7%,#0000ff 16.8%,#0008ff 18.3%,#0020ff 20.5%,#00d0ff 28.1%,#06ecf1 29.5%,#19ffde 30.6%,#56ffa0 34.4%,#eeff09 46.5%,#feed00 48.0%,#ff8d00 59.4%,#ff3800 91.2%,#ff2900 99.5%,#ff2900 99.9%)"></div>
<div style="top:172px;height:5px;background:linear-gradient(90deg,#0000bf 0.1%,#0000c4 6.2%,#0000da 13.0%,#0000ff 16.8%,#0008ff 19.0%,#001cff 20.5%,#00d8ff 28.9%,#09f0ee 30.0%,#19ffde 30.8%,#8dff6a 39.1%,#ebff0c 46.7%,#fbf100 48.2%,#ff9400 58.8%,#ff3400 92.9%,#ff2d00 99.7%,#ff2d00 99.9%)"></div>
<div style="top:176px;height:5px;background:linear-gradient(90deg,#0000bf 0.1%,#0000c4 6.9%,#0000d6 12.2%,#0000f6 16.0%,#0000ff 17.5%,#0004ff 19.0%,#0014ff 20.5%,#00e0fb 29.6%,#16ffe1 31.0%,#94ff63 40.1%,#f1fc06 47.6%,#ffe600 49.9%,#ff9100 59.0%,#ff2d00 97.6%,#ff2d00 99.9%)"></div>
<div style="top:180px;height:5px;background:linear-gradient(90deg,#0000bf 0.1%,#0000c4 6.9%,#0000d1 12.2%,#0000ff 17.5%,#0004ff 19.8%,#001cff 21.3%,#00dcfe 29.6%,#13fce4 31.2%,#a4ff53 41.8%,#eeff09 47.8%,#fbf100 49.3%,#ff9400 59.2%,#ff2d00 97.8%,#ff2d00 99.3%,#ff2d00 99.9%)"></div>
<div style="top:184px;height:5px;background:linear-gradient(90deg,#0000bf 0.1%,#0000c4 6.9%,#0000d6 13.0%,#0000ff 18.3%,#0004ff 20.5%,#00d4ff 29.6%,#06ecf1 30.8%,#19ffde 31.9%,#ebff0c 47.8%,#f8f500 49.3%,#ffde00 51.6%,#ff9400 59.2%,#ff2d00 98.6%,#ff2d00 99.9%)"></div>
<div style="top:188px;height:5px;background:linear-gradient(90deg,#0000bf 0.1%,#0000c4 6.9%,#0000d1 12.2%,#0000ff 19.0%,#0000ff 20.5%,#00dcfe 30.4%,#0cf4eb 31.3%,#19ffde 32.3%,#ebff0c 48.2%,#feed00 50.5%,#ff9400 59.6%,#ff2d00 99.0%,#ff2d00 99.9%)"></div>
<div style="top:192px;height:5px;background:linear-gradient(90deg,#0000bf 0.1%,#0000c4 6.9%,#0000d1 12.2%,#0000ff 19.0%,#0000ff 20.5%,#00d4ff 30.4%,#09f0ee 31.5%,#1cffdb 32.9%,#dbff1c 47.3%,#eeff09 49.5%,#feed00 51.0%,#ff9c00 59.4%,#ff3b00 93.5%,#ff3000 99.5%,#ff3000 99.9%)"></div>
<div style="top:196px;height:5px;background:linear-gradient(90deg,#0000bf 0.1%,#0000c4 6.9%,#0000d1 12.2%,#0000ff 19.0%,#0000ff 20.5%,#00e0fb 31.2%,#13fce4 32.7%,#dbff1c 47.8%,#f4f802 50.9%,#ffea00 52.4%,#ffa300 59.2%,#ff6400 78.9%,#ff3400 97.8%,#ff3400 99.3%,#ff3000 99.9%)"></div>
<div style="top:200px;height:5px;background:linear-gradient(90deg,#0000bf 0.1%,#0000c4 7.7%,#0000d1 12.2%,#0000ff 19.0%,#0000ff 20.5%,#0010ff 21.7%,#00e0fb 31.5%,#13fce4 33.0%,#d7ff1f 48.2%,#f1fc06 51.2%,#ffea00 52.7%,#ffa700 59.6%,#ff6f00 75.5%,#ff3400 99.0%,#ff3400 99.9%)"></div>
<div style="top:204px;height:5px;background:linear-gradient(90deg,#0000bf 0.1%,#0000c4 7.7%,#0000d1 13.0%,#0000ff 19.8%,#0004ff 21.1%,#009cff 28.7%,#00dcfe 31.7%,#0cf4eb 33.0%,#1cffdb 34.4%,#c7ff30 47.3%,#f1fc06 51.8%,#ffe200 54.1%,#ffae00 59.4%,#ff6f00 76.0%,#ff3800 98.0%,#ff3800 99.5%,#ff3400 99.9%)"></div>
<div style="top:208px;height:5px;background:linear-gradient(90deg,#0000bf 0.1%,#0000c4 7.7%,#0000d6 13.7%,#0000ff 19.8%,#0004ff 21.3%,#0088ff 28.1%,#00d8ff 31.9%,#06ecf1 33.0%,#19ffde 34.6%,#caff2c 48.2%,#eeff09 52.0%,#fbf100 53.5%,#ffb200 59.6%,#ff7300 75.5%,#ff3800 99.0%,#ff3800 99.9%)"></div>
<div style="top:212px;height:5px;background:linear-gradient(90deg,#0000bf 0.1%,#0000c4 7.7%,#0000d6 13.7%,#0000ff 19.8%,#0004ff 21.3%,#0054ff 25.9%,#00dcfe 32.7%,#19ffde 34.9%,#c7ff30 48.6%,#f1fc06 53.1%,#ffea00 54.6%,#ffb900 59.2%,#ff7700 74.3%,#ff3b00 98.6%,#ff3800 99.9%)"></div>
<div style="top:216px;height:5px;background:linear-gradient(90deg,#0000bf 0.1%,#0000c4 7.7%,#0000d1 13.0%,#0000f1 18.3%,#0000ff 20.5%,#0004ff 21.5%,#0060ff 26.8%,#00ccff 32.1%,#00e4f8 33.6%,#16ffe1 35.1%,#baff3c 48.0%,#eeff09 53.3%,#feed00 54.8%,#ffbd00 59.4%,#ff7700 75.3%,#ff3b00 99.5%,#ff3b00 99.9%)"></div>
<div style="top:220px;height:5px;background:linear-gradient(90deg,#0000bf 0.1%,#0000c4 7.7%,#0000d1 13.0%,#0000ff 20.5%,#0004ff 21.7%,#0050ff 26.2%,#00c8ff 32.3%,#00e0fb 33.8%,#13fce4 35.3%,#b7ff40 48.2%,#f1fc06 54.3%,#ffea00 55.8%,#ffc800 58.8%,#ff7a00 74.7%,#ff3f00 99.0%,#ff3b00 99.9%)"></div>
<div style="top:224px;height:5px;background:linear-gradient(90deg,#0000bf 0.1%,#0000c4 8.4%,#0000d1 13.0%,#0000e8 17.5%,#0000ff 20.5%,#0008ff 22.1%,#0050ff 26.6%,#00c8ff 32.7%,#00e0fb 34.2%,#0ff8e7 35.7%,#26ffd1 37.2%,#b4ff43 48.6%,#f1fc06 54.6%,#ffe200 56.9%,#ffc800 59.9%,#ff7e00 73.6%,#ff3f00 99.3%,#ff3f00 99.9%)"></div>
<div style="top:228px;height:5px;background:linear-gradient(90deg,#0000bf 0.1%,#0000c4 8.4%,#0000da 15.2%,#0000ff 21.3%,#0010ff 22.8%,#003cff 25.9%,#00ccff 33.4%,#00e4f8 34.9%,#16ffe1 36.5%,#adff49 48.6%,#f1fc06 55.4%,#ffea00 56.9%,#ffcc00 59.9%,#ff7e00 74.3%,#ff4300 99.3%,#ff4300 99.9%)"></div>
<div style="top:232px;height:5px;background:linear-gradient(90deg,#0000bf 0.1%,#0000c4 8.4%,#0000d6 14.5%,#0000f6 19.8%,#0000ff 21.3%,#000cff 22.8%,#0044ff 26.6%,#00c4ff 33.4%,#00dcfe 34.9%,#0ff8e7 36.5%,#2cffca 38.7%,#a7ff50 48.6%,#ebff0c 55.4%,#fbf100 56.9%,#ffd700 59.2%,#ff8600 72.8%,#ff4300 99.3%,#ff4300 99.9%)"></div>
<div style="top:236px;height:5px;background:linear-gradient(90deg,#0000bf 0.1%,#0000c4 8.4%,#0000d1 13.7%,#0000e3 17.5%,#0000ff 21.3%,#0004ff 22.4%,#0038ff 26.2%,#00c4ff 33.8%,#00dcfe 35.3%,#0cf4eb 36.8%,#19ffde 37.8%,#97ff60 47.6%,#eeff09 56.0%,#fbf100 57.5%,#ffd700 59.8%,#ff8600 73.4%,#ff4700 99.1%,#ff4700 99.9%)"></div>
<div style="top:240px;height:5px;background:linear-gradient(90deg,#0000bf 0.1%,#0000c4 8.4%,#0000d1 13.7%,#0000e8 18.3%,#0000ff 21.3%,#0004ff 22.8%,#0038ff 26.6%,#00a8ff 32.7%,#00dcfe 35.7%,#0cf4eb 37.2%,#19ffde 38.2%,#94ff63 48.0%,#ebff0c 56.3%,#fbf100 57.9%,#ffdb00 60.1%,#ff8600 73.8%,#ff4700 99.5%,#ff4700 99.9%)"></div>
<div style="top:244px;height:5px;background:linear-gradient(90deg,#0000bf 0.1%,#0000c4 9.2%,#0000d6 16.0%,#0000ff 21.3%,#0004ff 22.8%,#0024ff 25.9%,#00a0ff 32.7%,#00e0fb 36.5%,#0ff8e7 38.0%,#26ffd1 39.5%,#a4ff53 50.1%,#ebff0c 56.9%,#fbf100 58.4%,#ffd700 61.5%,#ff8600 74.3%,#ff4a00 99.3%,#ff4a00 99.9%)"></div>
<div style="top:248px;height:5px;background:linear-gradient(90deg,#0000bf 0.1%,#0000c4 9.2%,#0000da 16.8%,#0000ff 22.1%,#0008ff 23.6%,#0020ff 25.9%,#00ccff 35.7%,#00e4f8 37.2%,#16ffe1 38.7%,#9dff5a 50.1%,#eeff09 57.7%,#feed00 59.2%,#ff8d00 72.8%,#ff4a00 99.3%,#ff4a00 99.9%)"></div>
<div style="top:252px;height:5px;background:linear-gradient(90deg,#0000bf 0.1%,#0000c4 9.2%,#0000d6 16.0%,#0000ff 22.1%,#0008ff 24.3%,#0018ff 25.9%,#00b8ff 34.9%,#00e0fb 37.2%,#0ff8e7 38.7%,#2cffca 41.0%,#c1ff36 53.9%,#f1fc06 58.4%,#ffea00 60.7%,#ff8d00 73.6%,#ff4e00 99.3%,#ff4e00 99.9%)"></div>
<div style="top:256px;height:5px;background:linear-gradient(90deg,#0000bf 0.1%,#0000c4 9.2%,#0000d1 16.0%,#0000ff 22.1%,#0004ff 24.3%,#0020ff 26.6%,#00d8ff 37.2%,#09f0ee 38.7%,#1cffdb 40.1%,#ebff0c 58.2%,#f8f500 59.8%,#ffd700 63.5%,#ff9100 73.4%,#ff4e00 99.9%)"></div>
<div style="top:260px;height:5px;background:linear-gradient(90deg,#0000bf 0.1%,#0000c4 9.2%,#0000d6 16.8%,#0000ff 22.8%,#0004ff 25.1%,#00dcfe 38.0%,#0cf4eb 39.5%,#19ffde 40.4%,#f1fc06 59.4%,#ffe600 62.4%,#ff9100 73.0%,#ff5200 99.5%,#ff5200 99.9%)"></div>
<div style="top:264px;height:5px;background:linear-gradient(90deg,#0000bf 0.1%,#0000c4 9.9%,#0000d1 16.0%,#0000ff 22.8%,#0000ff 25.1%,#0020ff 27.4%,#00e0fb 38.7%,#13fce4 40.2%,#ebff0c 59.2%,#feed00 62.2%,#ff9400 72.8%,#ff5200 99.3%,#ff5200 99.9%)"></div>
<div style="top:268px;height:5px;background:linear-gradient(90deg,#0000bf 0.1%,#0000c4 9.9%,#0000cd 16.0%,#0000ff 23.6%,#0000ff 25.9%,#00d8ff 38.7%,#09f0ee 40.1%,#19ffde 41.4%,#e7ff0f 59.6%,#f8f500 61.8%,#ffe200 64.1%,#ff9400 73.2%,#ff5500 99.7%,#ff5500 99.9%)"></div>
<div style="top:272px;height:5px;background:linear-gradient(90deg,#0000bf 0.1%,#0000c4 9.9%,#0000d1 16.8%,#0000ff 23.6%,#0000ff 25.9%,#00e0fb 39.5%,#0ff8e7 41.0%,#23ffd4 42.5%,#deff19 59.2%,#f4f802 62.2%,#ffe200 64.5%,#ff9c00 72.8%,#ff5500 99.3%,#ff5500 99.9%)"></div>
<div style="top:276px;height:5px;background:linear-gradient(90deg,#0000bf 0.1%,#0000c4 9.9%,#0000d1 16.8%,#0000ff 23.6%,#0000ff 25.9%,#00ccff 38.7%,#00e4f8 40.1%,#13fce4 41.6%,#deff19 59.8%,#eeff09 62.0%,#feed00 64.3%,#ff9f00 73.4%,#ff6400 94.6%,#ff5900 99.9%)"></div>
<div style="top:280px;height:5px;background:linear-gradient(90deg,#0000bf 0.1%,#0000c4 9.9%,#0000d1 16.8%,#0000ff 24.3%,#0000ff 25.9%,#004cff 31.2%,#00e0fb 40.2%,#0ff8e7 41.8%,#29ffce 44.0%,#d4ff23 59.2%,#eeff09 63.0%,#ffea00 65.2%,#ffa700 73.6%,#ff6c00 91.8%,#ff5900 99.3%,#ff5900 99.9%)"></div>
<div style="top:284px;height:5px;background:linear-gradient(90deg,#0000bf 0.1%,#0000c4 9.9%,#0000d1 16.8%,#0000ff 24.3%,#0004ff 26.6%,#00a8ff 37.2%,#00dcfe 40.2%,#13fce4 42.5%,#ceff29 59.2%,#eeff09 63.7%,#feed00 66.0%,#ffb200 72.8%,#ff7300 89.5%,#ff5d00 99.3%,#ff5d00 99.9%)"></div>
<div style="top:288px;height:5px;background:linear-gradient(90deg,#0000bf 0.1%,#0000c4 10.7%,#0000d1 16.8%,#0000ff 25.1%,#0004ff 26.6%,#0058ff 32.7%,#00e0fb 41.0%,#0ff8e7 42.5%,#29ffce 44.8%,#c7ff30 59.2%,#eeff09 64.5%,#feed00 66.8%,#ffb200 73.6%,#ff7300 90.2%,#ff5d00 99.3%,#ff5d00 99.9%)"></div>
<div style="top:292px;height:5px;background:linear-gradient(90deg,#0000bf 0.1%,#0000c4 10.7%,#0000d1 16.8%,#0000ff 25.1%,#0000ff 26.6%,#006cff 34.2%,#00dcfe 41.0%,#09f0ee 42.5%,#19ffde 43.8%,#97ff60 55.2%,#d1ff26 61.3%,#f1fc06 65.8%,#ffe600 68.1%,#ffb200 74.9%,#ff7700 89.3%,#ff6000 99.9%)"></div>
<div style="top:296px;height:5px;background:linear-gradient(90deg,#0000bf 0.1%,#0000c4 10.7%,#0000d1 16.8%,#0000ff 25.1%,#0000ff 26.6%,#0050ff 32.7%,#00e0fb 41.8%,#16ffe1 44.0%,#7dff7a 53.1%,#c1ff36 59.9%,#eeff09 66.0%,#feed00 68.3%,#ffc100 73.6%,#ff7a00 88.7%,#ff6000 99.3%,#ff6000 99.9%)"></div>
<div style="top:300px;height:5px;background:linear-gradient(90deg,#0000bf 0.1%,#0000c4 10.7%,#0000d1 16.8%,#0000ed 22.1%,#0000ff 25.9%,#0008ff 27.4%,#0040ff 31.9%,#00dcfe 41.8%,#09f0ee 43.3%,#19ffde 44.6%,#94ff63 56.0%,#e7ff0f 65.8%,#f1fc06 67.3%,#ffe600 69.6%,#ffc400 74.1%,#ff7a00 89.3%,#ff6400 99.9%)"></div>
<div style="top:304px;height:5px;background:linear-gradient(90deg,#0000bf 0.1%,#0000c4 10.7%,#0000d6 18.3%,#0000ff 25.9%,#0004ff 27.4%,#0050ff 33.4%,#00e0fb 42.5%,#16ffe1 44.8%,#6aff8d 52.4%,#baff3c 60.7%,#eeff09 67.5%,#feed00 69.8%,#ffc800 74.3%,#ff7e00 88.7%,#ff6400 99.3%,#ff6400 99.9%)"></div>
<div style="top:308px;height:5px;background:linear-gradient(90deg,#0000bf 0.1%,#0000c4 10.7%,#0000d6 18.3%,#0000ff 25.9%,#0004ff 27.4%,#0034ff 31.9%,#00dcfe 42.5%,#09f0ee 44.0%,#19ffde 45.4%,#6aff8d 52.9%,#b7ff40 61.3%,#f1fc06 68.8%,#ffe600 71.1%,#ffb200 79.5%,#ff8200 87.8%,#ff6800 99.9%)"></div>
<div style="top:312px;height:5px;background:linear-gradient(90deg,#0000bf 0.1%,#0000c4 10.7%,#0000d1 17.5%,#0000f1 23.6%,#0000ff 26.6%,#0008ff 28.1%,#0030ff 31.9%,#00e0fb 43.3%,#16ffe1 45.5%,#60ff97 52.4%,#b4ff43 61.5%,#eeff09 69.0%,#feed00 71.3%,#ffd000 75.1%,#ff8600 87.2%,#ff6800 99.3%,#ff6800 99.9%)"></div>
<div style="top:316px;height:5px;background:linear-gradient(90deg,#0000bf 0.1%,#0000c4 11.5%,#0000d1 17.5%,#0000e3 21.3%,#0000ff 26.6%,#0004ff 28.1%,#002cff 31.9%,#00d8ff 43.3%,#09f0ee 44.8%,#1cffdb 46.3%,#9aff5d 59.2%,#eeff09 69.8%,#feed00 72.1%,#ff8600 88.0%,#ff6c00 99.3%,#ff6c00 99.9%)"></div>
<div style="top:320px;height:5px;background:linear-gradient(90deg,#0000bf 0.1%,#0000c4 11.5%,#0000da 20.5%,#0000ff 26.6%,#0000ff 28.1%,#0030ff 32.7%,#00e0fb 44.0%,#16ffe1 46.3%,#5dff9a 53.1%,#d7ff1f 67.5%,#eeff09 70.5%,#feed00 72.8%,#ff8900 87.2%,#ff6c00 99.3%,#ff6c00 99.9%)"></div>
<div style="top:324px;height:5px;background:linear-gradient(90deg,#0000bf 0.1%,#0000c4 11.5%,#0000d6 19.8%,#0000ff 26.6%,#0004ff 28.9%,#0020ff 31.9%,#00d8ff 44.0%,#09f0ee 45.5%,#19ffde 47.1%,#49ffad 51.6%,#d7ff1f 68.3%,#eeff09 71.3%,#feed00 73.6%,#ff8900 88.0%,#ff6f00 99.3%,#ff6f00 99.9%)"></div>
<div style="top:328px;height:5px;background:linear-gradient(90deg,#0000bf 0.1%,#0000c4 11.5%,#0000d6 19.8%,#0000ff 27.4%,#0008ff 29.6%,#001cff 31.9%,#00e0fb 44.8%,#16ffe1 47.1%,#3cffba 50.9%,#b4ff43 64.5%,#eeff09 72.1%,#feed00 74.3%,#ff8d00 87.2%,#ff6f00 99.3%,#ff6f00 99.9%)"></div>
<div style="top:332px;height:5px;background:linear-gradient(90deg,#0000bf 0.1%,#0000c4 11.5%,#0000d6 20.5%,#0000f6 25.9%,#0000ff 27.4%,#0004ff 29.6%,#0020ff 32.7%,#00d8ff 44.8%,#09f0ee 46.3%,#19ffde 47.8%,#46ffb1 52.4%,#deff19 70.5%,#f4f802 73.6%,#ffe600 75.9%,#ff8d00 88.0%,#ff7300 99.3%,#ff7300 99.9%)"></div>
<div style="top:336px;height:5px;background:linear-gradient(90deg,#0000bf 0.1%,#0000c4 12.2%,#0000d6 20.5%,#0000ff 27.4%,#0004ff 30.4%,#001cff 32.7%,#00e0fb 45.5%,#16ffe1 47.8%,#9aff5d 63.0%,#eeff09 73.6%,#feed00 75.9%,#ff8d00 88.0%,#ff7300 99.3%,#ff7300 99.9%)"></div>
<div style="top:340px;height:5px;background:linear-gradient(90deg,#0000bf 0.1%,#0000c4 12.2%,#0000d6 20.5%,#0000ff 28.1%,#0000ff 30.4%,#000cff 31.9%,#00d8ff 45.5%,#09f0ee 47.1%,#19ffde 48.6%,#b4ff43 66.8%,#eeff09 74.3%,#feed00 76.6%,#ff9400 87.2%,#ff7700 99.3%,#ff7700 99.9%)"></div>
<div style="top:344px;height:5px;background:linear-gradient(90deg,#0000bf 0.1%,#0000c4 12.2%,#0000d1 19.8%,#0000ff 28.1%,#0000ff 31.2%,#0034ff 34.9%,#00e0fb 46.3%,#16ffe1 48.6%,#eeff09 75.1%,#fbf100 76.6%,#ff9100 88.0%,#ff7700 99.3%,#ff7700 99.9%)"></div>
<div style="top:348px;height:5px;background:linear-gradient(90deg,#0000bf 0.1%,#0000c4 12.2%,#0000d1 20.5%,#0000ff 28.9%,#0000ff 31.9%,#00d8ff 46.3%,#09f0ee 47.8%,#19ffde 49.3%,#f1fc06 75.9%,#ffea00 78.1%,#ff9400 87.2%,#ff7a00 99.3%,#ff7a00 99.9%)"></div>
<div style="top:352px;height:5px;background:linear-gradient(90deg,#0000bf 0.1%,#0000c4 12.2%,#0000d1 20.5%,#0000ff 29.6%,#0000ff 31.9%,#00e0fb 47.1%,#16ffe1 49.3%,#f1fc06 76.6%,#ffe600 78.9%,#ff9800 87.2%,#ff7a00 99.3%,#ff7a00 99.9%)"></div>
<div style="top:356px;height:5px;background:linear-gradient(90deg,#0000bf 0.1%,#0000c4 12.2%,#0000d1 20.5%,#0000ff 29.6%,#0000ff 31.9%,#00dcfe 47.1%,#09f0ee 48.6%,#19ffde 50.1%,#eeff09 76.6%,#fbf100 78.1%,#ff9c00 87.2%,#ff7e00 99.3%,#ff7e00 99.9%)"></div>
<div style="top:360px;height:5px;background:linear-gradient(90deg,#0000bf 0.1%,#0000c4 12.2%,#0000d1 20.5%,#0000ff 29.6%,#0000ff 31.9%,#008cff 41.8%,#00d8ff 47.1%,#09f0ee 48.6%,#1cffdb 50.9%,#f1fc06 77.4%,#ffe600 79.6%,#ff9f00 87.2%,#ff8200 99.3%,#ff7e00 99.9%)"></div>
<div style="top:364px;height:5px;background:linear-gradient(90deg,#0000bf 0.1%,#0000c4 13.0%,#0000d1 20.5%,#0000ff 29.6%,#0000ff 31.9%,#0094ff 42.5%,#00e0fb 47.8%,#13fce4 50.1%,#eeff09 77.4%,#ffea00 79.6%,#ffa700 87.2%,#ff8200 99.3%,#ff8200 99.9%)"></div>
<div style="top:368px;height:5px;background:linear-gradient(90deg,#0000bf 0.1%,#0000c4 13.0%,#0000d1 20.5%,#0000ff 29.6%,#0000ff 31.9%,#0070ff 40.2%,#00dcfe 47.8%,#16ffe1 50.9%,#f1fc06 78.1%,#ffe600 80.4%,#ffab00 87.2%,#ff8600 99.3%,#ff8200 99.9%)"></div>
<div style="top:372px;height:5px;background:linear-gradient(90deg,#0000bf 0.1%,#0000c4 13.0%,#0000d1 20.5%,#0000ff 29.6%,#0000ff 31.9%,#0058ff 38.7%,#00d8ff 47.8%,#06ecf1 49.3%,#19ffde 51.6%,#eeff09 78.1%,#ffea00 80.4%,#ffab00 88.0%,#ff8600 99.3%,#ff8600 99.9%)"></div>
<div style="top:376px;height:5px;background:linear-gradient(90deg,#0000bf 0.1%,#0000c4 13.0%,#0000d1 20.5%,#0000ff 29.6%,#0004ff 32.7%,#00e0fb 48.6%,#16ffe1 51.6%,#f1fc06 78.9%,#ffea00 81.2%,#ffae00 88.0%,#ff8900 99.3%,#ff8600 99.9%)"></div>
<div style="top:380px;height:5px;background:linear-gradient(90deg,#0000bf 0.1%,#0000c4 13.0%,#0000d1 20.5%,#0000ff 30.4%,#0004ff 32.7%,#00dcfe 48.6%,#13fce4 51.6%,#eeff09 78.9%,#feed00 81.2%,#ffb200 88.0%,#ff8900 99.3%,#ff8900 99.9%)"></div>
<div style="top:384px;height:5px;background:linear-gradient(90deg,#0000bf 0.1%,#0000c4 13.0%,#0000d1 21.3%,#0000ff 30.4%,#0004ff 32.7%,#0070ff 41.0%,#00e0fb 49.3%,#16ffe1 52.4%,#f1fc06 79.6%,#ffea00 81.9%,#ffb600 88.0%,#ff8d00 99.3%,#ff8900 99.9%)"></div>
<div style="top:388px;height:5px;background:linear-gradient(90deg,#0000bf 0.1%,#0000c4 13.0%,#0000d1 21.3%,#0000ff 30.4%,#0004ff 32.7%,#0044ff 38.0%,#00dcfe 49.3%,#13fce4 52.4%,#f1fc06 80.4%,#ffe600 82.7%,#ffb900 88.0%,#ff8d00 99.3%,#ff8d00 99.9%)"></div>
<div style="top:392px;height:5px;background:linear-gradient(90deg,#0000bf 0.1%,#0000c4 13.0%,#0000d1 21.3%,#0000ff 30.4%,#0000ff 32.7%,#00a8ff 45.5%,#00e0fb 50.1%,#16ffe1 53.1%,#eeff09 80.4%,#fbf100 81.9%,#ffbd00 88.0%,#ff9100 99.3%,#ff8d00 99.9%)"></div>
<div style="top:396px;height:5px;background:linear-gradient(90deg,#0000bf 0.1%,#0000c4 13.0%,#0000d1 21.3%,#0000ff 30.4%,#0000ff 32.7%,#0040ff 38.0%,#00d4ff 49.3%,#06ecf1 51.6%,#13fce4 53.1%,#f1fc06 81.2%,#ffe600 83.4%,#ffbd00 88.7%,#ff9100 99.3%,#ff8d00 99.9%)"></div>
<div style="top:400px;height:5px;background:linear-gradient(90deg,#0000bf 0.1%,#0000c4 13.0%,#0000d1 21.3%,#0000ff 30.4%,#0000ff 32.7%,#0050ff 39.5%,#00d0ff 49.3%,#02e8f4 51.6%,#16ffe1 53.9%,#eeff09 81.2%,#ffea00 83.4%,#ffc100 88.7%,#ff9400 99.3%,#ff9100 99.9%)"></div>
<div style="top:404px;height:5px;background:linear-gradient(90deg,#0000bf 0.1%,#0000c4 13.0%,#0000d1 21.3%,#0000ff 30.4%,#0000ff 32.7%,#0044ff 38.7%,#00d0ff 49.3%,#00e4f8 51.6%,#13fce4 53.9%,#f1fc06 81.9%,#ffea00 84.2%,#ffc400 88.7%,#ff9400 99.3%,#ff9100 99.9%)"></div>
<div style="top:408px;height:5px;background:linear-gradient(90deg,#0000bf 0.1%,#0000c4 13.0%,#0000d1 21.3%,#0000ff 31.2%,#0000ff 32.7%,#0038ff 38.0%,#00d4ff 50.1%,#02e8f4 52.4%,#16ffe1 54.6%,#eeff09 81.9%,#feed00 84.2%,#ffc800 88.7%,#ff9800 99.3%,#ff9400 99.9%)"></div>
<div style="top:412px;height:5px;background:linear-gradient(90deg,#0000bf 0.1%,#0000c4 13.7%,#0000d1 21.3%,#0000ff 31.2%,#0004ff 33.4%,#0040ff 38.7%,#00d8ff 50.9%,#06ecf1 53.1%,#13fce4 54.6%,#f1fc06 82.7%,#ffea00 84.9%,#ffcc00 88.7%,#ff9800 99.3%,#ff9400 99.9%)"></div>
<div style="top:416px;height:5px;background:linear-gradient(90deg,#0000bf 0.1%,#0000c4 13.7%,#0000d6 22.8%,#0000ff 31.2%,#0004ff 33.4%,#0034ff 38.0%,#00d4ff 50.9%,#02e8f4 53.1%,#16ffe1 55.4%,#f1fc06 83.4%,#ffe600 85.7%,#ffc800 90.2%,#ff9c00 99.3%,#ff9800 99.9%)"></div>
<div style="top:420px;height:5px;background:linear-gradient(90deg,#0000bf 0.1%,#0000c4 13.7%,#0000d6 22.8%,#0000ff 31.2%,#0004ff 33.4%,#0028ff 37.2%,#00d0ff 50.9%,#00e4f8 53.1%,#13fce4 55.4%,#eeff09 83.4%,#fbf100 84.9%,#ffd000 89.5%,#ff9c00 99.3%,#ff9800 99.9%)"></div>
<div style="top:424px;height:5px;background:linear-gradient(90deg,#0000bf 0.1%,#0000c4 13.7%,#0000d6 22.8%,#0000ff 31.9%,#0000ff 33.4%,#0038ff 38.7%,#00ccff 50.9%,#00e4f8 53.1%,#16ffe1 56.2%,#f1fc06 84.2%,#ffe600 86.5%,#ff9f00 99.3%,#ff9c00 99.9%)"></div>
<div style="top:428px;height:5px;background:linear-gradient(90deg,#0000bf 0.1%,#0000c4 13.7%,#0000d6 23.6%,#0000ff 31.2%,#0000ff 33.4%,#0024ff 37.2%,#00d0ff 51.6%,#00e0fb 53.1%,#13fce4 56.2%,#eeff09 84.2%,#feed00 86.5%,#ffd000 91.0%,#ff9f00 99.3%,#ff9c00 99.9%)"></div>
<div style="top:432px;height:5px;background:linear-gradient(90deg,#0000bf 0.1%,#0000c4 13.7%,#0000d1 22.1%,#0000ff 31.9%,#0004ff 34.2%,#0034ff 38.7%,#00ccff 51.6%,#00e4f8 53.9%,#16ffe1 56.9%,#f1fc06 84.9%,#ffea00 87.2%,#ffa300 99.3%,#ff9f00 99.9%)"></div>
<div style="top:436px;height:5px;background:linear-gradient(90deg,#0000bf 0.1%,#0000c4 13.7%,#0000d6 23.6%,#0000ff 31.9%,#0004ff 34.2%,#0028ff 38.0%,#00c8ff 51.6%,#00e0fb 53.9%,#13fce4 56.9%,#eeff09 84.9%,#ffe600 88.0%,#ffa300 99.3%,#ff9f00 99.9%)"></div>
<div style="top:440px;height:5px;background:linear-gradient(90deg,#0000bf 0.1%,#0000c4 13.7%,#0000d6 23.6%,#0000ff 31.9%,#0004ff 34.2%,#0014ff 36.5%,#00c4ff 51.6%,#00dcfe 53.9%,#06ecf1 55.4%,#19ffde 57.7%,#eeff09 85.7%,#fbf100 87.2%,#ffa700 99.3%,#ffa300 99.9%)"></div>
<div style="top:444px;height:5px;background:linear-gradient(90deg,#0000bf 0.1%,#0000c4 13.7%,#0000d6 23.6%,#0000ff 31.9%,#0000ff 34.2%,#0024ff 38.0%,#00c0ff 51.6%,#00e0fb 54.6%,#16ffe1 57.7%,#f1fc06 86.5%,#ffea00 88.7%,#ffa700 99.3%,#ffa300 99.9%)"></div>
<div style="top:448px;height:5px;background:linear-gradient(90deg,#0000bf 0.1%,#0000c4 13.7%,#0000d6 23.6%,#0000ff 32.7%,#0004ff 34.9%,#0078ff 45.5%,#00dcfe 54.6%,#06ecf1 56.2%,#19ffde 58.4%,#eeff09 86.5%,#feed00 88.7%,#ffab00 99.3%,#ffa700 99.9%)"></div>
<div style="top:452px;height:5px;background:linear-gradient(90deg,#0000bf 0.1%,#0000c4 13.7%,#0000d1 22.8%,#0000ff 31.9%,#0004ff 34.9%,#0028ff 38.7%,#00c8ff 53.1%,#00e0fb 55.4%,#16ffe1 58.4%,#f1fc06 87.2%,#ffea00 90.2%,#ffab00 99.3%,#ffa700 99.9%)"></div>
<div style="top:456px;height:5px;background:linear-gradient(90deg,#0000bf 0.1%,#0000c4 14.5%,#0000d1 22.8%,#0000ff 32.7%,#0004ff 34.9%,#000cff 36.5%,#00c4ff 53.1%,#00dcfe 55.4%,#06ecf1 56.9%,#19ffde 59.2%,#f1fc06 88.0%,#ffea00 90.2%,#ffae00 99.3%,#ffab00 99.9%)"></div>
<div style="top:460px;height:5px;background:linear-gradient(90deg,#0000bf 0.1%,#0000c4 14.5%,#0000d1 22.8%,#0000ff 32.7%,#0004ff 35.7%,#00e0fb 56.2%,#16ffe1 59.2%,#eeff09 88.0%,#ffea00 91.0%,#ffae00 99.3%,#ffab00 99.9%)"></div>
<div style="top:464px;height:5px;background:linear-gradient(90deg,#0000bf 0.1%,#0000c4 14.5%,#0000d6 24.3%,#0000ff 32.7%,#0004ff 35.7%,#00dcfe 56.2%,#0cf4eb 58.4%,#19ffde 59.9%,#f1fc06 88.7%,#ffe600 91.8%,#ffb200 99.3%,#ffae00 99.9%)"></div>
<div style="top:468px;height:5px;background:linear-gradient(90deg,#0000bf 0.1%,#0000c4 14.5%,#0000d1 23.6%,#0000ff 32.7%,#0000ff 35.7%,#00e0fb 56.9%,#16ffe1 59.9%,#f1fc06 89.5%,#ffea00 91.8%,#ffb200 99.3%,#ffae00 99.9%)"></div>
<div style="top:472px;height:5px;background:linear-gradient(90deg,#0000bf 0.1%,#0000c4 14.5%,#0000d1 23.6%,#0000ff 32.7%,#0004ff 36.5%,#00dcfe 56.9%,#13fce4 59.9%,#eeff09 89.5%,#feed00 91.8%,#ffb600 99.3%,#ffb200 99.9%)"></div>
<div style="top:476px;height:5px;background:linear-gradient(90deg,#0000bf 0.1%,#0000c4 14.5%,#0000d1 23.6%,#0000ff 32.7%,#0004ff 36.5%,#00e0fb 57.7%,#16ffe1 60.7%,#f1fc06 90.2%,#ffe600 93.3%,#ffb600 99.3%,#ffb200 99.9%)"></div></div></div>
<svg width="2409" height="2356" viewBox="0 0 2409 2356">
<defs><filter id="fw" x="-50%" y="-10%" width="200%" height="120%"><feGaussianBlur stdDeviation="9 6"/></filter><filter id="fm" x="-50%" y="-10%" width="200%" height="120%"><feGaussianBlur stdDeviation="4 3"/></filter><radialGradient id="rglow"><stop offset="0" stop-color="#7a0000" stop-opacity="0.75"/><stop offset="0.6" stop-color="#5a0000" stop-opacity="0.35"/><stop offset="1" stop-color="#400000" stop-opacity="0"/></radialGradient><filter id="fn" x="-50%" y="-10%" width="200%" height="120%"><feGaussianBlur stdDeviation="1.6 1.5"/></filter></defs>
<clipPath id="cp0"><rect x="217.5" y="1307.0" width="323.5" height="812.5"/></clipPath>
<g clip-path="url(#cp0)">
<rect x="217.5" y="1307.0" width="323.5" height="812.5" fill="#0a0000"/>
<polygon points="429.5,1297.0 428.9,1323.0 427.4,1348.9 425.2,1374.9 422.3,1400.9 419.1,1426.8 415.6,1452.8 410.7,1478.8 402.7,1504.7 393.2,1530.7 383.3,1556.7 374.5,1582.6 368.1,1608.6 365.0,1634.6 362.8,1660.5 361.2,1686.5 359.8,1712.5 358.8,1738.5 357.8,1764.4 356.9,1790.4 355.8,1816.4 354.5,1842.3 352.8,1868.3 350.6,1894.3 348.0,1920.2 345.6,1946.2 343.7,1972.2 342.5,1998.1 342.1,2024.1 342.8,2050.1 344.3,2076.0 346.5,2102.0 368.5,2102.0 378.1,2076.0 388.9,2050.1 402.1,2024.1 419.5,1998.1 438.5,1972.2 456.2,1946.2 469.5,1920.2 475.8,1894.3 478.9,1868.3 481.4,1842.3 483.4,1816.4 485.1,1790.4 486.6,1764.4 488.0,1738.5 489.3,1712.5 490.9,1686.5 492.7,1660.5 495.0,1634.6 497.8,1608.6 501.5,1582.6 505.7,1556.7 510.0,1530.7 514.2,1504.7 517.7,1478.8 520.4,1452.8 522.6,1426.8 524.7,1400.9 526.6,1374.9 528.1,1348.9 529.1,1323.0 529.5,1297.0" fill="#600000" opacity="0.90" filter="url(#fw)"/>
<polygon points="487.5,1297.0 484.4,1323.0 481.0,1348.9 477.3,1374.9 473.4,1400.9 469.2,1426.8 464.0,1452.8 457.7,1478.8 450.2,1504.7 438.4,1530.7 421.2,1556.7 403.5,1582.6 390.5,1608.6 385.2,1634.6 381.8,1660.5 379.1,1686.5 376.8,1712.5 374.9,1738.5 373.0,1764.4 371.5,1790.4 370.5,1816.4 369.5,1842.3 368.4,1868.3 366.9,1894.3 365.0,1920.2 363.2,1946.2 361.6,1972.2 360.0,1998.1 358.6,2024.1 357.4,2050.1 356.4,2076.0 355.5,2102.0 369.5,2102.0 384.3,2076.0 398.4,2050.1 411.5,2024.1 423.7,1998.1 436.4,1972.2 448.6,1946.2 458.2,1920.2 463.2,1894.3 466.0,1868.3 468.1,1842.3 469.8,1816.4 471.3,1790.4 473.0,1764.4 474.8,1738.5 476.4,1712.5 478.0,1686.5 479.8,1660.5 482.0,1634.6 484.7,1608.6 487.2,1582.6 489.4,1556.7 491.5,1530.7 493.7,1504.7 495.4,1478.8 496.8,1452.8 498.5,1426.8 501.2,1400.9 504.4,1374.9 507.4,1348.9 510.5,1323.0 513.5,1297.0" fill="#980000" opacity="0.90" filter="url(#fm)"/>
<polygon points="339.5,1297.0 339.1,1323.0 338.7,1348.9 338.3,1374.9 337.9,1400.9 337.6,1426.8 337.2,1452.8 336.9,1478.8 336.6,1504.7 336.3,1530.7 336.0,1556.7 335.7,1582.6 335.4,1608.6 335.2,1634.6 334.9,1660.5 334.7,1686.5 334.5,1712.5 334.3,1738.5 334.2,1764.4 334.1,1790.4 334.2,1816.4 334.3,1842.3 334.4,1868.3 334.6,1894.3 334.8,1920.2 335.1,1946.2 335.5,1972.2 335.8,1998.1 336.2,2024.1 336.6,2050.1 337.1,2076.0 337.5,2102.0 353.5,2102.0 354.9,2076.0 356.2,2050.1 357.6,2024.1 358.9,1998.1 360.2,1972.2 361.4,1946.2 362.7,1920.2 363.8,1894.3 364.9,1868.3 366.0,1842.3 367.0,1816.4 368.0,1790.4 368.8,1764.4 369.6,1738.5 370.4,1712.5 371.0,1686.5 371.7,1660.5 372.3,1634.6 373.0,1608.6 373.6,1582.6 374.2,1556.7 374.8,1530.7 375.4,1504.7 376.0,1478.8 376.5,1452.8 377.1,1426.8 377.6,1400.9 378.1,1374.9 378.6,1348.9 379.1,1323.0 379.5,1297.0" fill="#240000" opacity="0.80" filter="url(#fm)"/>
<polygon points="374.5,1867.0 371.4,1896.4 368.7,1925.8 366.2,1955.1 364.0,1984.5 362.1,2013.9 360.5,2043.2 359.4,2072.6 358.5,2102.0 368.5,2102.0 370.9,2072.6 373.4,2043.2 375.9,2013.9 378.5,1984.5 381.3,1955.1 384.2,1925.8 387.3,1896.4 390.5,1867.0" fill="#d00000" opacity="0.80" filter="url(#fm)"/>
<polygon points="363.5,1997.0 363.0,2012.0 362.7,2027.0 362.5,2042.0 362.5,2057.0 362.4,2072.0 361.6,2087.0 360.5,2102.0 366.5,2102.0 368.8,2087.0 370.4,2072.0 370.5,2057.0 370.5,2042.0 370.3,2027.0 370.0,2012.0 369.5,1997.0" fill="#ff7000" opacity="0.90" filter="url(#fn)"/>
<polygon points="364.5,2042.0 363.0,2082.0 368.0,2082.0 368.5,2042.0" fill="#ffc000" opacity="0.80" filter="url(#fn)"/>
<ellipse cx="347.5" cy="2102.0" rx="130" ry="110" fill="url(#rglow)"/>
<g filter="url(#fm)" stroke="#c00000" stroke-width="5" opacity="0.3"><line x1="357.5" y1="2102.0" x2="257.5" y2="1947.0"/><line x1="357.5" y1="2102.0" x2="287.5" y2="1907.0"/><line x1="357.5" y1="2102.0" x2="312.5" y2="1867.0"/><line x1="357.5" y1="2102.0" x2="402.5" y2="1907.0"/><line x1="357.5" y1="2102.0" x2="432.5" y2="1937.0"/><line x1="357.5" y1="2102.0" x2="477.5" y2="1967.0"/><line x1="357.5" y1="2102.0" x2="337.5" y2="1867.0"/></g>
<rect x="217.5" y="2103" width="323.5" height="17" fill="#9a000a"/>
<rect x="217.5" y="2103" width="243.0" height="10" fill="#6e0006"/>
<rect x="460.5" y="2103" width="80.5" height="10" fill="#180000"/>
<rect x="223.5" y="2105" width="4" height="5" fill="#d04010" opacity="0.5"/><rect x="233.5" y="2105" width="4" height="5" fill="#d04010" opacity="0.5"/><rect x="243.5" y="2105" width="4" height="5" fill="#d04010" opacity="0.5"/><rect x="253.5" y="2105" width="4" height="5" fill="#d04010" opacity="0.5"/><rect x="263.5" y="2105" width="4" height="5" fill="#d04010" opacity="0.5"/><rect x="273.5" y="2105" width="4" height="5" fill="#d04010" opacity="0.5"/><rect x="283.5" y="2105" width="4" height="5" fill="#d04010" opacity="0.5"/><rect x="293.5" y="2105" width="4" height="5" fill="#d04010" opacity="0.5"/><rect x="303.5" y="2105" width="4" height="5" fill="#d04010" opacity="0.5"/><rect x="313.5" y="2105" width="4" height="5" fill="#d04010" opacity="0.5"/><rect x="323.5" y="2105" width="4" height="5" fill="#d04010" opacity="0.5"/><rect x="333.5" y="2105" width="4" height="5" fill="#d04010" opacity="0.5"/><rect x="343.5" y="2105" width="4" height="5" fill="#d04010" opacity="0.5"/><rect x="353.5" y="2105" width="4" height="5" fill="#d04010" opacity="0.5"/><rect x="363.5" y="2105" width="4" height="5" fill="#d04010" opacity="0.5"/><rect x="373.5" y="2105" width="4" height="5" fill="#d04010" opacity="0.5"/><rect x="383.5" y="2105" width="4" height="5" fill="#d04010" opacity="0.5"/><rect x="393.5" y="2105" width="4" height="5" fill="#d04010" opacity="0.5"/><rect x="403.5" y="2105" width="4" height="5" fill="#d04010" opacity="0.5"/><rect x="413.5" y="2105" width="4" height="5" fill="#d04010" opacity="0.5"/><rect x="423.5" y="2105" width="4" height="5" fill="#d04010" opacity="0.5"/><rect x="433.5" y="2105" width="4" height="5" fill="#d04010" opacity="0.5"/><rect x="443.5" y="2105" width="4" height="5" fill="#d04010" opacity="0.5"/><rect x="453.5" y="2105" width="4" height="5" fill="#d04010" opacity="0.5"/>
</g>
<clipPath id="cp1"><rect x="631.0" y="1307.0" width="323.5" height="812.5"/></clipPath>
<g clip-path="url(#cp1)">
<rect x="631.0" y="1307.0" width="323.5" height="812.5" fill="#0a0000"/>
<polygon points="846.0,1297.0 845.2,1323.0 843.5,1348.9 841.1,1374.9 838.1,1400.9 834.7,1426.8 831.1,1452.8 826.2,1478.8 818.7,1504.7 809.7,1530.7 800.5,1556.7 792.2,1582.6 786.1,1608.6 783.0,1634.6 780.7,1660.5 778.9,1686.5 777.5,1712.5 776.4,1738.5 775.4,1764.4 774.3,1790.4 773.2,1816.4 771.7,1842.3 769.9,1868.3 767.6,1894.3 764.7,1920.2 761.6,1946.2 758.7,1972.2 756.6,1998.1 755.7,2024.1 756.4,2050.1 758.2,2076.0 761.0,2102.0 783.0,2102.0 792.2,2076.0 802.5,2050.1 815.2,2024.1 832.2,1998.1 850.8,1972.2 868.2,1946.2 881.5,1920.2 887.8,1894.3 891.1,1868.3 893.7,1842.3 895.8,1816.4 897.6,1790.4 899.1,1764.4 900.6,1738.5 902.0,1712.5 903.7,1686.5 905.6,1660.5 907.9,1634.6 910.9,1608.6 914.9,1582.6 919.5,1556.7 924.3,1530.7 929.0,1504.7 933.0,1478.8 935.9,1452.8 938.3,1426.8 940.5,1400.9 942.5,1374.9 944.2,1348.9 945.4,1323.0 946.0,1297.0" fill="#600000" opacity="0.90" filter="url(#fw)"/>
<polygon points="899.0,1297.0 896.3,1323.0 893.2,1348.9 889.7,1374.9 885.9,1400.9 881.8,1426.8 876.8,1452.8 870.8,1478.8 863.7,1504.7 852.5,1530.7 836.1,1556.7 819.4,1582.6 806.9,1608.6 801.7,1634.6 798.3,1660.5 795.6,1686.5 793.3,1712.5 791.4,1738.5 789.5,1764.4 788.0,1790.4 787.0,1816.4 786.0,1842.3 784.9,1868.3 783.4,1894.3 781.5,1920.2 779.5,1946.2 777.5,1972.2 775.6,1998.1 773.8,2024.1 772.1,2050.1 770.5,2076.0 769.0,2102.0 783.0,2102.0 797.2,2076.0 810.6,2050.1 823.2,2024.1 835.0,1998.1 847.5,1972.2 859.4,1946.2 868.7,1920.2 873.7,1894.3 876.5,1868.3 878.6,1842.3 880.3,1816.4 881.8,1790.4 883.5,1764.4 885.3,1738.5 886.9,1712.5 888.5,1686.5 890.3,1660.5 892.5,1634.6 895.2,1608.6 897.7,1582.6 900.0,1556.7 902.5,1530.7 905.3,1504.7 908.0,1478.8 910.3,1452.8 912.8,1426.8 915.7,1400.9 918.8,1374.9 921.7,1348.9 924.4,1323.0 927.0,1297.0" fill="#980000" opacity="0.90" filter="url(#fm)"/>
<polygon points="725.0,1297.0 725.0,1323.0 725.1,1348.9 725.2,1374.9 725.3,1400.9 725.5,1426.8 725.7,1452.8 725.9,1478.8 726.2,1504.7 726.5,1530.7 726.8,1556.7 727.2,1582.6 727.5,1608.6 727.9,1634.6 728.3,1660.5 728.7,1686.5 729.1,1712.5 729.6,1738.5 730.3,1764.4 731.1,1790.4 732.0,1816.4 733.1,1842.3 734.2,1868.3 735.5,1894.3 736.8,1920.2 738.2,1946.2 739.7,1972.2 741.3,1998.1 742.9,2024.1 744.6,2050.1 746.3,2076.0 748.0,2102.0 764.0,2102.0 763.3,2076.0 762.6,2050.1 762.0,2024.1 761.3,1998.1 760.7,1972.2 760.1,1946.2 759.6,1920.2 759.1,1894.3 758.6,1868.3 758.2,1842.3 757.8,1816.4 757.5,1790.4 757.3,1764.4 757.1,1738.5 757.0,1712.5 757.0,1686.5 757.0,1660.5 756.9,1634.6 756.9,1608.6 756.9,1582.6 756.9,1556.7 756.9,1530.7 756.9,1504.7 756.9,1478.8 757.0,1452.8 757.0,1426.8 757.0,1400.9 757.0,1374.9 757.0,1348.9 757.0,1323.0 757.0,1297.0" fill="#2c0000" opacity="0.80" filter="url(#fm)"/>
<polygon points="788.0,1867.0 784.9,1896.4 782.2,1925.8 779.7,1955.1 777.5,1984.5 775.6,2013.9 774.0,2043.2 772.9,2072.6 772.0,2102.0 782.0,2102.0 784.4,2072.6 786.9,2043.2 789.4,2013.9 792.0,1984.5 794.8,1955.1 797.7,1925.8 800.8,1896.4 804.0,1867.0" fill="#d00000" opacity="0.80" filter="url(#fm)"/>
<polygon points="777.0,1997.0 776.5,2012.0 776.2,2027.0 776.0,2042.0 776.0,2057.0 775.9,2072.0 775.1,2087.0 774.0,2102.0 780.0,2102.0 782.3,2087.0 783.9,2072.0 784.0,2057.0 784.0,2042.0 783.8,2027.0 783.5,2012.0 783.0,1997.0" fill="#ff7000" opacity="0.90" filter="url(#fn)"/>
<polygon points="778.0,2042.0 776.5,2082.0 781.5,2082.0 782.0,2042.0" fill="#ffc000" opacity="0.80" filter="url(#fn)"/>
<ellipse cx="761.0" cy="2102.0" rx="130" ry="110" fill="url(#rglow)"/>
<g filter="url(#fm)" stroke="#c00000" stroke-width="5" opacity="0.3"><line x1="771.0" y1="2102.0" x2="671.0" y2="1947.0"/><line x1="771.0" y1="2102.0" x2="701.0" y2="1907.0"/><line x1="771.0" y1="2102.0" x2="726.0" y2="1867.0"/><line x1="771.0" y1="2102.0" x2="816.0" y2="1907.0"/><line x1="771.0" y1="2102.0" x2="846.0" y2="1937.0"/><line x1="771.0" y1="2102.0" x2="891.0" y2="1967.0"/><line x1="771.0" y1="2102.0" x2="751.0" y2="1867.0"/></g>
<rect x="631.0" y="2103" width="323.5" height="17" fill="#9a000a"/>
<rect x="631.0" y="2103" width="243.0" height="10" fill="#6e0006"/>
<rect x="874.0" y="2103" width="80.5" height="10" fill="#180000"/>
<rect x="637.0" y="2105" width="4" height="5" fill="#d04010" opacity="0.5"/><rect x="647.0" y="2105" width="4" height="5" fill="#d04010" opacity="0.5"/><rect x="657.0" y="2105" width="4" height="5" fill="#d04010" opacity="0.5"/><rect x="667.0" y="2105" width="4" height="5" fill="#d04010" opacity="0.5"/><rect x="677.0" y="2105" width="4" height="5" fill="#d04010" opacity="0.5"/><rect x="687.0" y="2105" width="4" height="5" fill="#d04010" opacity="0.5"/><rect x="697.0" y="2105" width="4" height="5" fill="#d04010" opacity="0.5"/><rect x="707.0" y="2105" width="4" height="5" fill="#d04010" opacity="0.5"/><rect x="717.0" y="2105" width="4" height="5" fill="#d04010" opacity="0.5"/><rect x="727.0" y="2105" width="4" height="5" fill="#d04010" opacity="0.5"/><rect x="737.0" y="2105" width="4" height="5" fill="#d04010" opacity="0.5"/><rect x="747.0" y="2105" width="4" height="5" fill="#d04010" opacity="0.5"/><rect x="757.0" y="2105" width="4" height="5" fill="#d04010" opacity="0.5"/><rect x="767.0" y="2105" width="4" height="5" fill="#d04010" opacity="0.5"/><rect x="777.0" y="2105" width="4" height="5" fill="#d04010" opacity="0.5"/><rect x="787.0" y="2105" width="4" height="5" fill="#d04010" opacity="0.5"/><rect x="797.0" y="2105" width="4" height="5" fill="#d04010" opacity="0.5"/><rect x="807.0" y="2105" width="4" height="5" fill="#d04010" opacity="0.5"/><rect x="817.0" y="2105" width="4" height="5" fill="#d04010" opacity="0.5"/><rect x="827.0" y="2105" width="4" height="5" fill="#d04010" opacity="0.5"/><rect x="837.0" y="2105" width="4" height="5" fill="#d04010" opacity="0.5"/><rect x="847.0" y="2105" width="4" height="5" fill="#d04010" opacity="0.5"/><rect x="857.0" y="2105" width="4" height="5" fill="#d04010" opacity="0.5"/><rect x="867.0" y="2105" width="4" height="5" fill="#d04010" opacity="0.5"/>
</g>
<clipPath id="cp2"><rect x="1035.0" y="1307.0" width="323.5" height="812.5"/></clipPath>
<g clip-path="url(#cp2)">
<rect x="1035.0" y="1307.0" width="323.5" height="812.5" fill="#0a0000"/>
<polygon points="1140.0,1297.0 1139.6,1323.0 1139.3,1348.9 1139.0,1374.9 1138.9,1400.9 1138.8,1426.8 1138.7,1452.8 1138.8,1478.8 1138.8,1504.7 1138.9,1530.7 1139.1,1556.7 1139.2,1582.6 1139.4,1608.6 1139.6,1634.6 1139.8,1660.5 1140.0,1686.5 1140.2,1712.5 1140.6,1738.5 1141.0,1764.4 1141.6,1790.4 1142.3,1816.4 1143.1,1842.3 1144.0,1868.3 1145.0,1894.3 1146.0,1920.2 1147.1,1946.2 1148.3,1972.2 1149.6,1998.1 1150.9,2024.1 1152.2,2050.1 1153.6,2076.0 1155.0,2102.0 1195.0,2102.0 1202.6,2076.0 1210.1,2050.1 1217.4,2024.1 1224.5,1998.1 1231.4,1972.2 1238.1,1946.2 1244.6,1920.2 1250.8,1894.3 1256.8,1868.3 1262.5,1842.3 1268.0,1816.4 1273.1,1790.4 1277.9,1764.4 1282.4,1738.5 1286.6,1712.5 1290.3,1686.5 1294.0,1660.5 1297.5,1634.6 1301.0,1608.6 1304.3,1582.6 1307.6,1556.7 1310.7,1530.7 1313.6,1504.7 1316.4,1478.8 1319.0,1452.8 1321.5,1426.8 1323.7,1400.9 1325.6,1374.9 1327.4,1348.9 1328.8,1323.0 1330.0,1297.0" fill="#300000" opacity="0.90" filter="url(#fw)"/>
<polygon points="1275.0,1297.0 1273.0,1323.0 1270.8,1348.9 1268.5,1374.9 1266.0,1400.9 1263.3,1426.8 1260.5,1452.8 1257.6,1478.8 1254.5,1504.7 1251.4,1530.7 1248.1,1556.7 1244.7,1582.6 1241.2,1608.6 1237.7,1634.6 1234.0,1660.5 1230.4,1686.5 1226.4,1712.5 1221.8,1738.5 1216.8,1764.4 1211.6,1790.4 1206.4,1816.4 1201.4,1842.3 1196.7,1868.3 1192.6,1894.3 1189.2,1920.2 1186.0,1946.2 1183.0,1972.2 1180.3,1998.1 1177.8,2024.1 1175.6,2050.1 1173.6,2076.0 1172.0,2102.0 1182.0,2102.0 1185.8,2076.0 1189.8,2050.1 1194.0,2024.1 1198.4,1998.1 1202.9,1972.2 1207.6,1946.2 1212.3,1920.2 1217.3,1894.3 1222.8,1868.3 1228.8,1842.3 1235.1,1816.4 1241.6,1790.4 1247.9,1764.4 1253.9,1738.5 1259.5,1712.5 1264.4,1686.5 1269.0,1660.5 1273.5,1634.6 1277.9,1608.6 1282.2,1582.6 1286.3,1556.7 1290.4,1530.7 1294.3,1504.7 1298.0,1478.8 1301.6,1452.8 1305.0,1426.8 1308.3,1400.9 1311.3,1374.9 1314.1,1348.9 1316.7,1323.0 1319.0,1297.0" fill="#5a0000" opacity="0.90" filter="url(#fm)"/>
<polygon points="1212.0,1297.0 1210.9,1323.0 1209.7,1348.9 1208.6,1374.9 1207.4,1400.9 1206.2,1426.8 1205.0,1452.8 1203.8,1478.8 1202.5,1504.7 1201.2,1530.7 1199.9,1556.7 1198.6,1582.6 1197.3,1608.6 1195.9,1634.6 1194.5,1660.5 1193.1,1686.5 1191.7,1712.5 1190.3,1738.5 1188.8,1764.4 1187.3,1790.4 1185.8,1816.4 1184.3,1842.3 1182.8,1868.3 1181.2,1894.3 1179.6,1920.2 1178.0,1946.2 1176.4,1972.2 1174.8,1998.1 1173.1,2024.1 1171.4,2050.1 1169.7,2076.0 1168.0,2102.0 1178.0,2102.0 1181.1,2076.0 1184.2,2050.1 1187.3,2024.1 1190.3,1998.1 1193.2,1972.2 1196.1,1946.2 1198.9,1920.2 1201.7,1894.3 1204.4,1868.3 1207.0,1842.3 1209.6,1816.4 1212.0,1790.4 1214.5,1764.4 1216.8,1738.5 1219.0,1712.5 1221.2,1686.5 1223.3,1660.5 1225.4,1634.6 1227.4,1608.6 1229.4,1582.6 1231.4,1556.7 1233.3,1530.7 1235.2,1504.7 1237.0,1478.8 1238.7,1452.8 1240.4,1426.8 1242.1,1400.9 1243.7,1374.9 1245.2,1348.9 1246.6,1323.0 1248.0,1297.0" fill="#560000" opacity="0.90" filter="url(#fm)"/>
<polygon points="1125.0,1297.0 1125.3,1323.0 1125.6,1348.9 1126.0,1374.9 1126.4,1400.9 1126.8,1426.8 1127.2,1452.8 1127.7,1478.8 1128.2,1504.7 1128.6,1530.7 1129.2,1556.7 1129.7,1582.6 1130.2,1608.6 1130.8,1634.6 1131.4,1660.5 1131.9,1686.5 1132.6,1712.5 1133.5,1738.5 1134.6,1764.4 1135.8,1790.4 1137.2,1816.4 1138.7,1842.3 1140.4,1868.3 1142.3,1894.3 1144.2,1920.2 1146.2,1946.2 1148.4,1972.2 1150.6,1998.1 1152.9,2024.1 1155.2,2050.1 1157.6,2076.0 1160.0,2102.0 1170.0,2102.0 1169.6,2076.0 1169.1,2050.1 1168.7,2024.1 1168.3,1998.1 1167.9,1972.2 1167.5,1946.2 1167.2,1920.2 1167.0,1894.3 1166.8,1868.3 1166.7,1842.3 1166.6,1816.4 1166.7,1790.4 1166.8,1764.4 1167.1,1738.5 1167.5,1712.5 1168.1,1686.5 1168.6,1660.5 1169.2,1634.6 1169.8,1608.6 1170.3,1582.6 1170.8,1556.7 1171.4,1530.7 1171.8,1504.7 1172.3,1478.8 1172.8,1452.8 1173.2,1426.8 1173.6,1400.9 1174.0,1374.9 1174.4,1348.9 1174.7,1323.0 1175.0,1297.0" fill="#2e0000" opacity="0.90" filter="url(#fm)"/>
<polygon points="1185.0,1297.0 1184.0,1323.0 1183.1,1348.9 1182.2,1374.9 1181.3,1400.9 1180.4,1426.8 1179.6,1452.8 1178.8,1478.8 1178.0,1504.7 1177.2,1530.7 1176.5,1556.7 1175.7,1582.6 1175.0,1608.6 1174.4,1634.6 1173.7,1660.5 1173.1,1686.5 1172.5,1712.5 1171.9,1738.5 1171.3,1764.4 1170.8,1790.4 1170.3,1816.4 1169.9,1842.3 1169.5,1868.3 1169.1,1894.3 1168.7,1920.2 1168.4,1946.2 1168.1,1972.2 1167.8,1998.1 1167.6,2024.1 1167.4,2050.1 1167.2,2076.0 1167.0,2102.0 1173.0,2102.0 1173.9,2076.0 1174.7,2050.1 1175.6,2024.1 1176.5,1998.1 1177.4,1972.2 1178.3,1946.2 1179.2,1920.2 1180.1,1894.3 1181.0,1868.3 1181.9,1842.3 1182.8,1816.4 1183.7,1790.4 1184.5,1764.4 1185.4,1738.5 1186.2,1712.5 1187.1,1686.5 1187.9,1660.5 1188.8,1634.6 1189.7,1608.6 1190.6,1582.6 1191.5,1556.7 1192.4,1530.7 1193.3,1504.7 1194.2,1478.8 1195.2,1452.8 1196.2,1426.8 1197.1,1400.9 1198.1,1374.9 1199.1,1348.9 1200.0,1323.0 1201.0,1297.0" fill="#0a0000" opacity="0.80" filter="url(#fm)"/>
<polygon points="1265.5,1547.0 1259.7,1573.4 1253.9,1599.9 1248.3,1626.3 1242.6,1652.7 1236.9,1679.1 1231.2,1705.6 1226.1,1732.0 1221.2,1758.4 1216.4,1784.9 1211.7,1811.3 1207.2,1837.7 1202.8,1864.1 1198.6,1890.6 1194.6,1917.0 1190.8,1943.4 1187.3,1969.9 1184.2,1996.3 1181.4,2022.7 1179.2,2049.1 1177.4,2075.6 1176.0,2102.0 1184.0,2102.0 1188.0,2075.6 1192.2,2049.1 1196.5,2022.7 1200.8,1996.3 1205.4,1969.9 1210.3,1943.4 1215.3,1917.0 1220.2,1890.6 1224.8,1864.1 1229.2,1837.7 1233.5,1811.3 1237.7,1784.9 1242.0,1758.4 1246.2,1732.0 1250.4,1705.6 1254.3,1679.1 1258.0,1652.7 1261.3,1626.3 1264.1,1599.9 1266.5,1573.4 1268.5,1547.0" fill="#a00000" opacity="0.90" filter="url(#fm)"/>
<polygon points="1197.0,1787.0 1194.5,1815.6 1192.1,1844.3 1189.8,1872.9 1187.7,1901.5 1185.7,1930.2 1183.9,1958.8 1182.2,1987.5 1180.7,2016.1 1179.3,2044.7 1178.1,2073.4 1177.0,2102.0 1187.0,2102.0 1189.1,2073.4 1191.2,2044.7 1193.4,2016.1 1195.6,1987.5 1197.9,1958.8 1200.2,1930.2 1202.6,1901.5 1205.1,1872.9 1207.7,1844.3 1210.3,1815.6 1213.0,1787.0" fill="#d00000" opacity="0.85" filter="url(#fm)"/>
<polygon points="1137.5,1847.0 1134.6,1875.3 1133.0,1903.7 1133.1,1932.0 1133.6,1960.3 1134.4,1988.7 1135.5,2017.0 1138.5,2045.3 1143.3,2073.7 1149.0,2102.0 1157.0,2102.0 1153.0,2073.7 1149.7,2045.3 1147.4,2017.0 1146.4,1988.7 1145.6,1960.3 1145.1,1932.0 1145.0,1903.7 1143.4,1875.3 1140.5,1847.0" fill="#c00000" opacity="0.85" filter="url(#fm)"/>
<polygon points="1182.0,1997.0 1181.5,2012.0 1181.2,2027.0 1181.0,2042.0 1181.0,2057.0 1180.9,2072.0 1180.1,2087.0 1179.0,2102.0 1185.0,2102.0 1187.3,2087.0 1188.9,2072.0 1189.0,2057.0 1189.0,2042.0 1188.8,2027.0 1188.5,2012.0 1188.0,1997.0" fill="#ff7000" opacity="0.90" filter="url(#fn)"/>
<polygon points="1183.0,2042.0 1181.5,2082.0 1186.5,2082.0 1187.0,2042.0" fill="#ffc000" opacity="0.80" filter="url(#fn)"/>
<ellipse cx="1165.0" cy="2102.0" rx="130" ry="110" fill="url(#rglow)"/>
<g filter="url(#fm)" stroke="#c00000" stroke-width="5" opacity="0.3"><line x1="1175.0" y1="2102.0" x2="1075.0" y2="1947.0"/><line x1="1175.0" y1="2102.0" x2="1105.0" y2="1907.0"/><line x1="1175.0" y1="2102.0" x2="1130.0" y2="1867.0"/><line x1="1175.0" y1="2102.0" x2="1220.0" y2="1907.0"/><line x1="1175.0" y1="2102.0" x2="1250.0" y2="1937.0"/><line x1="1175.0" y1="2102.0" x2="1295.0" y2="1967.0"/><line x1="1175.0" y1="2102.0" x2="1155.0" y2="1867.0"/></g>
<rect x="1035.0" y="2103" width="323.5" height="17" fill="#9a000a"/>
<rect x="1035.0" y="2103" width="243.0" height="10" fill="#6e0006"/>
<rect x="1278.0" y="2103" width="80.5" height="10" fill="#180000"/>
<rect x="1041.0" y="2105" width="4" height="5" fill="#d04010" opacity="0.5"/><rect x="1051.0" y="2105" width="4" height="5" fill="#d04010" opacity="0.5"/><rect x="1061.0" y="2105" width="4" height="5" fill="#d04010" opacity="0.5"/><rect x="1071.0" y="2105" width="4" height="5" fill="#d04010" opacity="0.5"/><rect x="1081.0" y="2105" width="4" height="5" fill="#d04010" opacity="0.5"/><rect x="1091.0" y="2105" width="4" height="5" fill="#d04010" opacity="0.5"/><rect x="1101.0" y="2105" width="4" height="5" fill="#d04010" opacity="0.5"/><rect x="1111.0" y="2105" width="4" height="5" fill="#d04010" opacity="0.5"/><rect x="1121.0" y="2105" width="4" height="5" fill="#d04010" opacity="0.5"/><rect x="1131.0" y="2105" width="4" height="5" fill="#d04010" opacity="0.5"/><rect x="1141.0" y="2105" width="4" height="5" fill="#d04010" opacity="0.5"/><rect x="1151.0" y="2105" width="4" height="5" fill="#d04010" opacity="0.5"/><rect x="1161.0" y="2105" width="4" height="5" fill="#d04010" opacity="0.5"/><rect x="1171.0" y="2105" width="4" height="5" fill="#d04010" opacity="0.5"/><rect x="1181.0" y="2105" width="4" height="5" fill="#d04010" opacity="0.5"/><rect x="1191.0" y="2105" width="4" height="5" fill="#d04010" opacity="0.5"/><rect x="1201.0" y="2105" width="4" height="5" fill="#d04010" opacity="0.5"/><rect x="1211.0" y="2105" width="4" height="5" fill="#d04010" opacity="0.5"/><rect x="1221.0" y="2105" width="4" height="5" fill="#d04010" opacity="0.5"/><rect x="1231.0" y="2105" width="4" height="5" fill="#d04010" opacity="0.5"/><rect x="1241.0" y="2105" width="4" height="5" fill="#d04010" opacity="0.5"/><rect x="1251.0" y="2105" width="4" height="5" fill="#d04010" opacity="0.5"/><rect x="1261.0" y="2105" width="4" height="5" fill="#d04010" opacity="0.5"/><rect x="1271.0" y="2105" width="4" height="5" fill="#d04010" opacity="0.5"/>
</g>
<clipPath id="cp3"><rect x="1444.0" y="1307.0" width="323.5" height="812.5"/></clipPath>
<g clip-path="url(#cp3)">
<rect x="1444.0" y="1307.0" width="323.5" height="812.5" fill="#0a0000"/>
<polygon points="1524.0,1297.0 1523.5,1323.0 1523.2,1348.9 1523.0,1374.9 1522.9,1400.9 1523.0,1426.8 1523.2,1452.8 1523.5,1478.8 1523.9,1504.7 1524.4,1530.7 1525.0,1556.7 1525.7,1582.6 1526.4,1608.6 1527.2,1634.6 1528.0,1660.5 1528.9,1686.5 1529.9,1712.5 1531.1,1738.5 1532.5,1764.4 1534.0,1790.4 1535.7,1816.4 1537.6,1842.3 1539.7,1868.3 1541.9,1894.3 1544.3,1920.2 1546.7,1946.2 1549.3,1972.2 1552.1,1998.1 1554.9,2024.1 1557.8,2050.1 1560.9,2076.0 1564.0,2102.0 1604.0,2102.0 1611.1,2076.0 1618.1,2050.1 1625.0,2024.1 1631.7,1998.1 1638.3,1972.2 1644.8,1946.2 1651.1,1920.2 1657.2,1894.3 1663.2,1868.3 1669.0,1842.3 1674.6,1816.4 1680.0,1790.4 1685.2,1764.4 1690.1,1738.5 1694.9,1712.5 1699.4,1686.5 1703.8,1660.5 1708.1,1634.6 1712.4,1608.6 1716.5,1582.6 1720.6,1556.7 1724.6,1530.7 1728.4,1504.7 1732.1,1478.8 1735.7,1452.8 1739.2,1426.8 1742.5,1400.9 1745.6,1374.9 1748.6,1348.9 1751.4,1323.0 1754.0,1297.0" fill="#300000" opacity="0.90" filter="url(#fw)"/>
<polygon points="1679.0,1297.0 1676.6,1323.0 1674.1,1348.9 1671.5,1374.9 1668.9,1400.9 1666.3,1426.8 1663.6,1452.8 1660.8,1478.8 1658.1,1504.7 1655.2,1530.7 1652.3,1556.7 1649.4,1582.6 1646.5,1608.6 1643.4,1634.6 1640.4,1660.5 1637.3,1686.5 1634.2,1712.5 1631.0,1738.5 1627.7,1764.4 1624.4,1790.4 1621.1,1816.4 1617.7,1842.3 1614.2,1868.3 1610.7,1894.3 1607.2,1920.2 1603.6,1946.2 1599.9,1972.2 1596.2,1998.1 1592.5,2024.1 1588.7,2050.1 1584.9,2076.0 1581.0,2102.0 1591.0,2102.0 1596.4,2076.0 1601.8,2050.1 1607.1,2024.1 1612.2,1998.1 1617.4,1972.2 1622.4,1946.2 1627.3,1920.2 1632.2,1894.3 1636.9,1868.3 1641.6,1842.3 1646.1,1816.4 1650.6,1790.4 1655.0,1764.4 1659.2,1738.5 1663.3,1712.5 1667.4,1686.5 1671.3,1660.5 1675.2,1634.6 1679.1,1608.6 1682.8,1582.6 1686.5,1556.7 1690.1,1530.7 1693.7,1504.7 1697.1,1478.8 1700.5,1452.8 1703.8,1426.8 1707.0,1400.9 1710.2,1374.9 1713.2,1348.9 1716.2,1323.0 1719.0,1297.0" fill="#580000" opacity="0.90" filter="url(#fm)"/>
<polygon points="1629.0,1297.0 1628.0,1323.0 1626.9,1348.9 1625.8,1374.9 1624.6,1400.9 1623.4,1426.8 1622.2,1452.8 1620.9,1478.8 1619.5,1504.7 1618.2,1530.7 1616.7,1556.7 1615.3,1582.6 1613.8,1608.6 1612.3,1634.6 1610.7,1660.5 1609.2,1686.5 1607.5,1712.5 1605.8,1738.5 1604.1,1764.4 1602.3,1790.4 1600.5,1816.4 1598.6,1842.3 1596.6,1868.3 1594.6,1894.3 1592.6,1920.2 1590.5,1946.2 1588.3,1972.2 1586.1,1998.1 1583.9,2024.1 1581.7,2050.1 1579.3,2076.0 1577.0,2102.0 1587.0,2102.0 1590.9,2076.0 1594.7,2050.1 1598.5,2024.1 1602.2,1998.1 1605.8,1972.2 1609.3,1946.2 1612.7,1920.2 1616.1,1894.3 1619.3,1868.3 1622.5,1842.3 1625.5,1816.4 1628.5,1790.4 1631.4,1764.4 1634.1,1738.5 1636.7,1712.5 1639.2,1686.5 1641.7,1660.5 1644.1,1634.6 1646.4,1608.6 1648.7,1582.6 1650.9,1556.7 1653.1,1530.7 1655.2,1504.7 1657.2,1478.8 1659.1,1452.8 1661.0,1426.8 1662.8,1400.9 1664.5,1374.9 1666.1,1348.9 1667.6,1323.0 1669.0,1297.0" fill="#480000" opacity="0.90" filter="url(#fm)"/>
<polygon points="1534.0,1297.0 1533.7,1323.0 1533.5,1348.9 1533.5,1374.9 1533.5,1400.9 1533.5,1426.8 1533.7,1452.8 1533.9,1478.8 1534.3,1504.7 1534.6,1530.7 1535.1,1556.7 1535.5,1582.6 1536.1,1608.6 1536.7,1634.6 1537.3,1660.5 1537.9,1686.5 1538.7,1712.5 1539.7,1738.5 1540.9,1764.4 1542.2,1790.4 1543.6,1816.4 1544.9,1842.3 1546.3,1868.3 1547.5,1894.3 1548.6,1920.2 1550.3,1946.2 1552.5,1972.2 1555.1,1998.1 1558.1,2024.1 1561.3,2050.1 1564.6,2076.0 1568.0,2102.0 1576.0,2102.0 1573.6,2076.0 1571.4,2050.1 1569.5,2024.1 1567.8,1998.1 1566.6,1972.2 1565.9,1946.2 1565.8,1920.2 1566.3,1894.3 1567.1,1868.3 1568.1,1842.3 1569.1,1816.4 1570.2,1790.4 1571.3,1764.4 1572.4,1738.5 1573.3,1712.5 1574.1,1686.5 1574.7,1660.5 1575.5,1634.6 1576.2,1608.6 1576.9,1582.6 1577.6,1556.7 1578.3,1530.7 1579.1,1504.7 1579.8,1478.8 1580.4,1452.8 1581.1,1426.8 1581.8,1400.9 1582.4,1374.9 1583.0,1348.9 1583.5,1323.0 1584.0,1297.0" fill="#440000" opacity="0.90" filter="url(#fm)"/>
<polygon points="1602.0,1297.0 1601.0,1323.0 1600.0,1348.9 1599.0,1374.9 1598.1,1400.9 1597.1,1426.8 1596.2,1452.8 1595.2,1478.8 1594.3,1504.7 1593.4,1530.7 1592.5,1556.7 1591.6,1582.6 1590.7,1608.6 1589.8,1634.6 1589.0,1660.5 1588.1,1686.5 1587.2,1712.5 1586.4,1738.5 1585.5,1764.4 1584.7,1790.4 1583.9,1816.4 1583.2,1842.3 1582.4,1868.3 1581.6,1894.3 1580.9,1920.2 1580.2,1946.2 1579.4,1972.2 1578.7,1998.1 1578.0,2024.1 1577.3,2050.1 1576.7,2076.0 1576.0,2102.0 1582.0,2102.0 1583.2,2076.0 1584.3,2050.1 1585.5,2024.1 1586.7,1998.1 1587.8,1972.2 1589.0,1946.2 1590.1,1920.2 1591.3,1894.3 1592.4,1868.3 1593.5,1842.3 1594.6,1816.4 1595.8,1790.4 1596.9,1764.4 1597.9,1738.5 1599.0,1712.5 1600.1,1686.5 1601.2,1660.5 1602.2,1634.6 1603.3,1608.6 1604.4,1582.6 1605.5,1556.7 1606.5,1530.7 1607.6,1504.7 1608.7,1478.8 1609.7,1452.8 1610.8,1426.8 1611.8,1400.9 1612.9,1374.9 1613.9,1348.9 1615.0,1323.0 1616.0,1297.0" fill="#0a0000" opacity="0.80" filter="url(#fm)"/>
<polygon points="1721.0,1297.0 1720.7,1323.0 1720.0,1348.9 1719.0,1374.9 1717.7,1400.9 1716.1,1426.8 1714.2,1452.8 1712.1,1478.8 1709.7,1504.7 1707.2,1530.7 1704.5,1556.7 1701.7,1582.6 1698.7,1608.6 1695.6,1634.6 1692.5,1660.5 1689.3,1686.5 1685.9,1712.5 1682.0,1738.5 1677.7,1764.4 1672.9,1790.4 1667.8,1816.4 1662.2,1842.3 1656.3,1868.3 1650.0,1894.3 1643.4,1920.2 1636.5,1946.2 1629.3,1972.2 1621.9,1998.1 1614.2,2024.1 1606.3,2050.1 1598.3,2076.0 1590.0,2102.0 1598.0,2102.0 1607.1,2076.0 1615.9,2050.1 1624.6,2024.1 1633.1,1998.1 1641.3,1972.2 1649.2,1946.2 1656.9,1920.2 1664.2,1894.3 1671.2,1868.3 1677.9,1842.3 1684.2,1816.4 1690.1,1790.4 1695.6,1764.4 1700.7,1738.5 1705.3,1712.5 1709.4,1686.5 1713.3,1660.5 1717.1,1634.6 1720.9,1608.6 1724.5,1582.6 1728.0,1556.7 1731.4,1530.7 1734.6,1504.7 1737.6,1478.8 1740.4,1452.8 1742.9,1426.8 1745.2,1400.9 1747.1,1374.9 1748.8,1348.9 1750.1,1323.0 1751.0,1297.0" fill="#300000" opacity="0.85" filter="url(#fm)"/>
<polygon points="1668.5,1547.0 1662.7,1573.4 1657.1,1599.9 1651.6,1626.3 1646.3,1652.7 1641.0,1679.1 1635.8,1705.6 1631.2,1732.0 1626.9,1758.4 1622.8,1784.9 1618.8,1811.3 1614.9,1837.7 1610.9,1864.1 1607.0,1890.6 1603.1,1917.0 1599.5,1943.4 1596.1,1969.9 1593.1,1996.3 1590.5,2022.7 1588.3,2049.1 1586.5,2075.6 1585.0,2102.0 1593.0,2102.0 1596.4,2075.6 1599.9,2049.1 1603.7,2022.7 1607.6,1996.3 1612.1,1969.9 1616.9,1943.4 1621.7,1917.0 1626.5,1890.6 1630.9,1864.1 1634.8,1837.7 1638.5,1811.3 1642.1,1784.9 1645.6,1758.4 1649.3,1732.0 1653.1,1705.6 1656.9,1679.1 1660.5,1652.7 1663.8,1626.3 1666.7,1599.9 1669.2,1573.4 1671.5,1547.0" fill="#a00000" opacity="0.90" filter="url(#fm)"/>
<polygon points="1555.5,1807.0 1552.6,1836.5 1551.0,1866.0 1551.3,1895.5 1552.1,1925.0 1553.4,1954.5 1555.3,1984.0 1557.8,2013.5 1560.7,2043.0 1564.1,2072.5 1568.0,2102.0 1576.0,2102.0 1573.4,2072.5 1571.0,2043.0 1568.8,2013.5 1566.9,1984.0 1565.2,1954.5 1564.0,1925.0 1563.3,1895.5 1563.0,1866.0 1561.4,1836.5 1558.5,1807.0" fill="#c00000" opacity="0.80" filter="url(#fm)"/>
<polygon points="1606.0,1787.0 1603.5,1815.6 1601.1,1844.3 1598.8,1872.9 1596.7,1901.5 1594.7,1930.2 1592.9,1958.8 1591.2,1987.5 1589.7,2016.1 1588.3,2044.7 1587.1,2073.4 1586.0,2102.0 1596.0,2102.0 1598.1,2073.4 1600.2,2044.7 1602.4,2016.1 1604.6,1987.5 1606.9,1958.8 1609.2,1930.2 1611.6,1901.5 1614.1,1872.9 1616.7,1844.3 1619.3,1815.6 1622.0,1787.0" fill="#d00000" opacity="0.85" filter="url(#fm)"/>
<polygon points="1591.0,1997.0 1590.5,2012.0 1590.2,2027.0 1590.0,2042.0 1590.0,2057.0 1589.9,2072.0 1589.1,2087.0 1588.0,2102.0 1594.0,2102.0 1596.3,2087.0 1597.9,2072.0 1598.0,2057.0 1598.0,2042.0 1597.8,2027.0 1597.5,2012.0 1597.0,1997.0" fill="#ff7000" opacity="0.90" filter="url(#fn)"/>
<polygon points="1592.0,2042.0 1590.5,2082.0 1595.5,2082.0 1596.0,2042.0" fill="#ffc000" opacity="0.80" filter="url(#fn)"/>
<ellipse cx="1574.0" cy="2102.0" rx="130" ry="110" fill="url(#rglow)"/>
<g filter="url(#fm)" stroke="#c00000" stroke-width="5" opacity="0.3"><line x1="1584.0" y1="2102.0" x2="1484.0" y2="1947.0"/><line x1="1584.0" y1="2102.0" x2="1514.0" y2="1907.0"/><line x1="1584.0" y1="2102.0" x2="1539.0" y2="1867.0"/><line x1="1584.0" y1="2102.0" x2="1629.0" y2="1907.0"/><line x1="1584.0" y1="2102.0" x2="1659.0" y2="1937.0"/><line x1="1584.0" y1="2102.0" x2="1704.0" y2="1967.0"/><line x1="1584.0" y1="2102.0" x2="1564.0" y2="1867.0"/></g>
<rect x="1444.0" y="2103" width="323.5" height="17" fill="#9a000a"/>
<rect x="1444.0" y="2103" width="243.0" height="10" fill="#6e0006"/>
<rect x="1687.0" y="2103" width="80.5" height="10" fill="#180000"/>
<rect x="1450.0" y="2105" width="4" height="5" fill="#d04010" opacity="0.5"/><rect x="1460.0" y="2105" width="4" height="5" fill="#d04010" opacity="0.5"/><rect x="1470.0" y="2105" width="4" height="5" fill="#d04010" opacity="0.5"/><rect x="1480.0" y="2105" width="4" height="5" fill="#d04010" opacity="0.5"/><rect x="1490.0" y="2105" width="4" height="5" fill="#d04010" opacity="0.5"/><rect x="1500.0" y="2105" width="4" height="5" fill="#d04010" opacity="0.5"/><rect x="1510.0" y="2105" width="4" height="5" fill="#d04010" opacity="0.5"/><rect x="1520.0" y="2105" width="4" height="5" fill="#d04010" opacity="0.5"/><rect x="1530.0" y="2105" width="4" height="5" fill="#d04010" opacity="0.5"/><rect x="1540.0" y="2105" width="4" height="5" fill="#d04010" opacity="0.5"/><rect x="1550.0" y="2105" width="4" height="5" fill="#d04010" opacity="0.5"/><rect x="1560.0" y="2105" width="4" height="5" fill="#d04010" opacity="0.5"/><rect x="1570.0" y="2105" width="4" height="5" fill="#d04010" opacity="0.5"/><rect x="1580.0" y="2105" width="4" height="5" fill="#d04010" opacity="0.5"/><rect x="1590.0" y="2105" width="4" height="5" fill="#d04010" opacity="0.5"/><rect x="1600.0" y="2105" width="4" height="5" fill="#d04010" opacity="0.5"/><rect x="1610.0" y="2105" width="4" height="5" fill="#d04010" opacity="0.5"/><rect x="1620.0" y="2105" width="4" height="5" fill="#d04010" opacity="0.5"/><rect x="1630.0" y="2105" width="4" height="5" fill="#d04010" opacity="0.5"/><rect x="1640.0" y="2105" width="4" height="5" fill="#d04010" opacity="0.5"/><rect x="1650.0" y="2105" width="4" height="5" fill="#d04010" opacity="0.5"/><rect x="1660.0" y="2105" width="4" height="5" fill="#d04010" opacity="0.5"/><rect x="1670.0" y="2105" width="4" height="5" fill="#d04010" opacity="0.5"/><rect x="1680.0" y="2105" width="4" height="5" fill="#d04010" opacity="0.5"/>
</g>
<clipPath id="cp4"><rect x="1851.5" y="1307.0" width="323.5" height="812.5"/></clipPath>
<g clip-path="url(#cp4)">
<rect x="1851.5" y="1307.0" width="323.5" height="812.5" fill="#0a0000"/>
<polygon points="1931.5,1297.0 1931.0,1323.0 1930.7,1348.9 1930.5,1374.9 1930.4,1400.9 1930.5,1426.8 1930.7,1452.8 1931.0,1478.8 1931.4,1504.7 1931.9,1530.7 1932.5,1556.7 1933.2,1582.6 1933.9,1608.6 1934.7,1634.6 1935.5,1660.5 1936.4,1686.5 1937.4,1712.5 1938.6,1738.5 1940.0,1764.4 1941.5,1790.4 1943.2,1816.4 1945.1,1842.3 1947.2,1868.3 1949.4,1894.3 1951.8,1920.2 1954.2,1946.2 1956.8,1972.2 1959.6,1998.1 1962.4,2024.1 1965.3,2050.1 1968.4,2076.0 1971.5,2102.0 2011.5,2102.0 2018.6,2076.0 2025.6,2050.1 2032.5,2024.1 2039.2,1998.1 2045.8,1972.2 2052.3,1946.2 2058.6,1920.2 2064.7,1894.3 2070.7,1868.3 2076.5,1842.3 2082.1,1816.4 2087.5,1790.4 2092.7,1764.4 2097.6,1738.5 2102.4,1712.5 2106.9,1686.5 2111.3,1660.5 2115.6,1634.6 2119.9,1608.6 2124.0,1582.6 2128.1,1556.7 2132.1,1530.7 2135.9,1504.7 2139.6,1478.8 2143.2,1452.8 2146.7,1426.8 2150.0,1400.9 2153.1,1374.9 2156.1,1348.9 2158.9,1323.0 2161.5,1297.0" fill="#300000" opacity="0.90" filter="url(#fw)"/>
<polygon points="2101.5,1297.0 2099.8,1323.0 2097.9,1348.9 2095.8,1374.9 2093.7,1400.9 2091.4,1426.8 2089.0,1452.8 2086.5,1478.8 2083.8,1504.7 2081.1,1530.7 2078.2,1556.7 2075.3,1582.6 2072.3,1608.6 2069.2,1634.6 2066.0,1660.5 2062.8,1686.5 2059.5,1712.5 2056.0,1738.5 2052.3,1764.4 2048.4,1790.4 2044.4,1816.4 2040.3,1842.3 2036.0,1868.3 2031.5,1894.3 2026.9,1920.2 2022.2,1946.2 2017.4,1972.2 2012.4,1998.1 2007.3,2024.1 2002.2,2050.1 1996.9,2076.0 1991.5,2102.0 2001.5,2102.0 2008.3,2076.0 2015.0,2050.1 2021.5,2024.1 2027.9,1998.1 2034.2,1972.2 2040.3,1946.2 2046.2,1920.2 2052.0,1894.3 2057.6,1868.3 2063.0,1842.3 2068.2,1816.4 2073.1,1790.4 2077.9,1764.4 2082.5,1738.5 2086.8,1712.5 2090.9,1686.5 2094.8,1660.5 2098.7,1634.6 2102.5,1608.6 2106.1,1582.6 2109.7,1556.7 2113.1,1530.7 2116.5,1504.7 2119.7,1478.8 2122.7,1452.8 2125.6,1426.8 2128.3,1400.9 2130.9,1374.9 2133.3,1348.9 2135.5,1323.0 2137.5,1297.0" fill="#480000" opacity="0.90" filter="url(#fm)"/>
<polygon points="2028.5,1297.0 2028.4,1323.0 2028.2,1348.9 2027.9,1374.9 2027.5,1400.9 2027.0,1426.8 2026.5,1452.8 2025.8,1478.8 2025.1,1504.7 2024.3,1530.7 2023.4,1556.7 2022.5,1582.6 2021.6,1608.6 2020.6,1634.6 2019.6,1660.5 2018.6,1686.5 2017.5,1712.5 2016.3,1738.5 2014.9,1764.4 2013.4,1790.4 2011.7,1816.4 2009.9,1842.3 2008.0,1868.3 2006.0,1894.3 2003.8,1920.2 2001.6,1946.2 1999.3,1972.2 1996.9,1998.1 1994.4,2024.1 1991.8,2050.1 1989.2,2076.0 1986.5,2102.0 1996.5,2102.0 2001.2,2076.0 2005.7,2050.1 2010.2,2024.1 2014.5,1998.1 2018.8,1972.2 2022.9,1946.2 2026.8,1920.2 2030.7,1894.3 2034.3,1868.3 2037.8,1842.3 2041.1,1816.4 2044.3,1790.4 2047.2,1764.4 2049.9,1738.5 2052.4,1712.5 2054.7,1686.5 2056.9,1660.5 2059.0,1634.6 2061.1,1608.6 2063.1,1582.6 2065.1,1556.7 2067.0,1530.7 2068.8,1504.7 2070.4,1478.8 2072.0,1452.8 2073.5,1426.8 2074.8,1400.9 2075.9,1374.9 2077.0,1348.9 2077.8,1323.0 2078.5,1297.0" fill="#360000" opacity="0.90" filter="url(#fm)"/>
<polygon points="1941.5,1297.0 1941.1,1323.0 1940.8,1348.9 1940.6,1374.9 1940.4,1400.9 1940.4,1426.8 1940.5,1452.8 1940.6,1478.8 1940.8,1504.7 1941.0,1530.7 1941.3,1556.7 1941.7,1582.6 1942.1,1608.6 1942.5,1634.6 1943.0,1660.5 1943.5,1686.5 1944.1,1712.5 1945.0,1738.5 1946.0,1764.4 1947.2,1790.4 1948.5,1816.4 1949.8,1842.3 1951.0,1868.3 1952.0,1894.3 1953.0,1920.2 1954.6,1946.2 1956.8,1972.2 1959.4,1998.1 1962.4,2024.1 1965.7,2050.1 1969.1,2076.0 1972.5,2102.0 1980.5,2102.0 1977.9,2076.0 1975.5,2050.1 1973.4,2024.1 1971.8,1998.1 1970.6,1972.2 1970.1,1946.2 1970.2,1920.2 1971.0,1894.3 1972.2,1868.3 1973.8,1842.3 1975.5,1816.4 1977.3,1790.4 1979.1,1764.4 1980.9,1738.5 1982.4,1712.5 1983.6,1686.5 1984.7,1660.5 1985.8,1634.6 1986.9,1608.6 1987.9,1582.6 1989.0,1556.7 1990.1,1530.7 1991.1,1504.7 1992.1,1478.8 1993.0,1452.8 1993.9,1426.8 1994.8,1400.9 1995.6,1374.9 1996.3,1348.9 1996.9,1323.0 1997.5,1297.0" fill="#4c0000" opacity="0.90" filter="url(#fm)"/>
<polygon points="2006.5,1297.0 2005.7,1323.0 2004.9,1348.9 2004.1,1374.9 2003.4,1400.9 2002.6,1426.8 2001.9,1452.8 2001.1,1478.8 2000.4,1504.7 1999.7,1530.7 1999.0,1556.7 1998.3,1582.6 1997.6,1608.6 1996.9,1634.6 1996.2,1660.5 1995.6,1686.5 1994.9,1712.5 1994.2,1738.5 1993.6,1764.4 1993.0,1790.4 1992.4,1816.4 1991.8,1842.3 1991.2,1868.3 1990.6,1894.3 1990.1,1920.2 1989.5,1946.2 1989.0,1972.2 1988.5,1998.1 1988.0,2024.1 1987.5,2050.1 1987.0,2076.0 1986.5,2102.0 1992.5,2102.0 1993.5,2076.0 1994.5,2050.1 1995.4,2024.1 1996.4,1998.1 1997.4,1972.2 1998.4,1946.2 1999.3,1920.2 2000.3,1894.3 2001.2,1868.3 2002.2,1842.3 2003.1,1816.4 2004.0,1790.4 2004.9,1764.4 2005.8,1738.5 2006.7,1712.5 2007.6,1686.5 2008.5,1660.5 2009.3,1634.6 2010.2,1608.6 2011.1,1582.6 2012.0,1556.7 2012.8,1530.7 2013.7,1504.7 2014.6,1478.8 2015.4,1452.8 2016.3,1426.8 2017.1,1400.9 2018.0,1374.9 2018.8,1348.9 2019.7,1323.0 2020.5,1297.0" fill="#0a0000" opacity="0.80" filter="url(#fm)"/>
<polygon points="2086.5,1297.0 2084.9,1323.0 2083.2,1348.9 2081.3,1374.9 2079.3,1400.9 2077.3,1426.8 2075.1,1452.8 2072.8,1478.8 2070.5,1504.7 2068.0,1530.7 2065.5,1556.7 2062.9,1582.6 2060.2,1608.6 2057.5,1634.6 2054.6,1660.5 2051.8,1686.5 2048.8,1712.5 2045.8,1738.5 2042.6,1764.4 2039.2,1790.4 2035.8,1816.4 2032.3,1842.3 2028.6,1868.3 2024.9,1894.3 2021.0,1920.2 2017.1,1946.2 2013.1,1972.2 2008.9,1998.1 2004.7,2024.1 2000.4,2050.1 1996.0,2076.0 1991.5,2102.0 1997.5,2102.0 2002.4,2076.0 2007.1,2050.1 2011.8,2024.1 2016.4,1998.1 2020.9,1972.2 2025.3,1946.2 2029.5,1920.2 2033.7,1894.3 2037.7,1868.3 2041.6,1842.3 2045.3,1816.4 2048.9,1790.4 2052.4,1764.4 2055.7,1738.5 2058.8,1712.5 2061.8,1686.5 2064.6,1660.5 2067.5,1634.6 2070.2,1608.6 2072.9,1582.6 2075.5,1556.7 2078.0,1530.7 2080.5,1504.7 2082.8,1478.8 2085.1,1452.8 2087.3,1426.8 2089.3,1400.9 2091.3,1374.9 2093.2,1348.9 2094.9,1323.0 2096.5,1297.0" fill="#0a0000" opacity="0.80" filter="url(#fm)"/>
<polygon points="2065.0,1547.0 2058.6,1573.4 2052.6,1599.9 2047.1,1626.3 2042.0,1652.7 2037.1,1679.1 2032.6,1705.6 2028.9,1732.0 2025.6,1758.4 2022.6,1784.9 2019.6,1811.3 2016.7,1837.7 2013.7,1864.1 2010.8,1890.6 2008.0,1917.0 2005.4,1943.4 2002.9,1969.9 2000.5,1996.3 1998.1,2022.7 1996.1,2049.1 1994.2,2075.6 1992.5,2102.0 2000.5,2102.0 2004.2,2075.6 2007.9,2049.1 2011.5,2022.7 2014.9,1996.3 2018.3,1969.9 2021.8,1943.4 2025.2,1917.0 2028.5,1890.6 2031.7,1864.1 2034.7,1837.7 2037.6,1811.3 2040.6,1784.9 2043.6,1758.4 2046.9,1732.0 2050.2,1705.6 2053.2,1679.1 2056.2,1652.7 2059.2,1626.3 2062.2,1599.9 2065.1,1573.4 2068.0,1547.0" fill="#900000" opacity="0.90" filter="url(#fm)"/>
<polygon points="1958.0,1807.0 1955.1,1836.5 1953.5,1866.0 1953.8,1895.5 1954.7,1925.0 1956.3,1954.5 1958.4,1984.0 1961.1,2013.5 1964.4,2043.0 1968.2,2072.5 1972.5,2102.0 1980.5,2102.0 1977.5,2072.5 1974.7,2043.0 1972.1,2013.5 1969.9,1984.0 1968.1,1954.5 1966.7,1925.0 1965.8,1895.5 1965.5,1866.0 1963.9,1836.5 1961.0,1807.0" fill="#c00000" opacity="0.80" filter="url(#fm)"/>
<polygon points="2013.5,1787.0 2011.0,1815.6 2008.6,1844.3 2006.3,1872.9 2004.2,1901.5 2002.2,1930.2 2000.4,1958.8 1998.7,1987.5 1997.2,2016.1 1995.8,2044.7 1994.6,2073.4 1993.5,2102.0 2003.5,2102.0 2005.6,2073.4 2007.7,2044.7 2009.9,2016.1 2012.1,1987.5 2014.4,1958.8 2016.7,1930.2 2019.1,1901.5 2021.6,1872.9 2024.2,1844.3 2026.8,1815.6 2029.5,1787.0" fill="#d00000" opacity="0.85" filter="url(#fm)"/>
<polygon points="1998.5,1997.0 1998.0,2012.0 1997.7,2027.0 1997.5,2042.0 1997.5,2057.0 1997.4,2072.0 1996.6,2087.0 1995.5,2102.0 2001.5,2102.0 2003.8,2087.0 2005.4,2072.0 2005.5,2057.0 2005.5,2042.0 2005.3,2027.0 2005.0,2012.0 2004.5,1997.0" fill="#ff7000" opacity="0.90" filter="url(#fn)"/>
<polygon points="1999.5,2042.0 1998.0,2082.0 2003.0,2082.0 2003.5,2042.0" fill="#ffc000" opacity="0.80" filter="url(#fn)"/>
<ellipse cx="1981.5" cy="2102.0" rx="130" ry="110" fill="url(#rglow)"/>
<g filter="url(#fm)" stroke="#c00000" stroke-width="5" opacity="0.3"><line x1="1991.5" y1="2102.0" x2="1891.5" y2="1947.0"/><line x1="1991.5" y1="2102.0" x2="1921.5" y2="1907.0"/><line x1="1991.5" y1="2102.0" x2="1946.5" y2="1867.0"/><line x1="1991.5" y1="2102.0" x2="2036.5" y2="1907.0"/><line x1="1991.5" y1="2102.0" x2="2066.5" y2="1937.0"/><line x1="1991.5" y1="2102.0" x2="2111.5" y2="1967.0"/><line x1="1991.5" y1="2102.0" x2="1971.5" y2="1867.0"/></g>
<rect x="1851.5" y="2103" width="323.5" height="17" fill="#9a000a"/>
<rect x="1851.5" y="2103" width="243.0" height="10" fill="#6e0006"/>
<rect x="2094.5" y="2103" width="80.5" height="10" fill="#180000"/>
<rect x="1857.5" y="2105" width="4" height="5" fill="#d04010" opacity="0.5"/><rect x="1867.5" y="2105" width="4" height="5" fill="#d04010" opacity="0.5"/><rect x="1877.5" y="2105" width="4" height="5" fill="#d04010" opacity="0.5"/><rect x="1887.5" y="2105" width="4" height="5" fill="#d04010" opacity="0.5"/><rect x="1897.5" y="2105" width="4" height="5" fill="#d04010" opacity="0.5"/><rect x="1907.5" y="2105" width="4" height="5" fill="#d04010" opacity="0.5"/><rect x="1917.5" y="2105" width="4" height="5" fill="#d04010" opacity="0.5"/><rect x="1927.5" y="2105" width="4" height="5" fill="#d04010" opacity="0.5"/><rect x="1937.5" y="2105" width="4" height="5" fill="#d04010" opacity="0.5"/><rect x="1947.5" y="2105" width="4" height="5" fill="#d04010" opacity="0.5"/><rect x="1957.5" y="2105" width="4" height="5" fill="#d04010" opacity="0.5"/><rect x="1967.5" y="2105" width="4" height="5" fill="#d04010" opacity="0.5"/><rect x="1977.5" y="2105" width="4" height="5" fill="#d04010" opacity="0.5"/><rect x="1987.5" y="2105" width="4" height="5" fill="#d04010" opacity="0.5"/><rect x="1997.5" y="2105" width="4" height="5" fill="#d04010" opacity="0.5"/><rect x="2007.5" y="2105" width="4" height="5" fill="#d04010" opacity="0.5"/><rect x="2017.5" y="2105" width="4" height="5" fill="#d04010" opacity="0.5"/><rect x="2027.5" y="2105" width="4" height="5" fill="#d04010" opacity="0.5"/><rect x="2037.5" y="2105" width="4" height="5" fill="#d04010" opacity="0.5"/><rect x="2047.5" y="2105" width="4" height="5" fill="#d04010" opacity="0.5"/><rect x="2057.5" y="2105" width="4" height="5" fill="#d04010" opacity="0.5"/><rect x="2067.5" y="2105" width="4" height="5" fill="#d04010" opacity="0.5"/><rect x="2077.5" y="2105" width="4" height="5" fill="#d04010" opacity="0.5"/><rect x="2087.5" y="2105" width="4" height="5" fill="#d04010" opacity="0.5"/>
</g>
<defs>
<linearGradient id="gjet" x1="0" y1="0" x2="0" y2="1"><stop offset="0.000" stop-color="#800000"/><stop offset="0.031" stop-color="#9f0000"/><stop offset="0.062" stop-color="#c40000"/><stop offset="0.094" stop-color="#e80000"/><stop offset="0.125" stop-color="#ff1e00"/><stop offset="0.156" stop-color="#ff3b00"/><stop offset="0.188" stop-color="#ff5900"/><stop offset="0.219" stop-color="#ff7700"/><stop offset="0.250" stop-color="#ff9400"/><stop offset="0.281" stop-color="#ffb200"/><stop offset="0.312" stop-color="#ffd000"/><stop offset="0.344" stop-color="#feed00"/><stop offset="0.375" stop-color="#e4ff13"/><stop offset="0.406" stop-color="#caff2c"/><stop offset="0.438" stop-color="#b1ff46"/><stop offset="0.469" stop-color="#97ff60"/><stop offset="0.500" stop-color="#7dff7a"/><stop offset="0.531" stop-color="#63ff94"/><stop offset="0.562" stop-color="#49ffad"/><stop offset="0.594" stop-color="#30ffc7"/><stop offset="0.625" stop-color="#16ffe1"/><stop offset="0.656" stop-color="#00e0fb"/><stop offset="0.688" stop-color="#00c0ff"/><stop offset="0.719" stop-color="#00a0ff"/><stop offset="0.750" stop-color="#0080ff"/><stop offset="0.781" stop-color="#0060ff"/><stop offset="0.812" stop-color="#0040ff"/><stop offset="0.844" stop-color="#0020ff"/><stop offset="0.875" stop-color="#0000ff"/><stop offset="0.906" stop-color="#0000ed"/><stop offset="0.938" stop-color="#0000c8"/><stop offset="0.969" stop-color="#0000a4"/><stop offset="1.000" stop-color="#000080"/></linearGradient>
<linearGradient id="ghot" x1="0" y1="0" x2="0" y2="1"><stop offset="0.000" stop-color="#ffffff"/><stop offset="0.031" stop-color="#ffffe3"/><stop offset="0.062" stop-color="#ffffc4"/><stop offset="0.094" stop-color="#ffffa4"/><stop offset="0.125" stop-color="#ffff85"/><stop offset="0.156" stop-color="#ffff65"/><stop offset="0.188" stop-color="#ffff46"/><stop offset="0.219" stop-color="#ffff26"/><stop offset="0.250" stop-color="#ffff07"/><stop offset="0.281" stop-color="#ffef00"/><stop offset="0.312" stop-color="#ffda00"/><stop offset="0.344" stop-color="#ffc500"/><stop offset="0.375" stop-color="#ffb000"/><stop offset="0.406" stop-color="#ff9b00"/><stop offset="0.438" stop-color="#ff8600"/><stop offset="0.469" stop-color="#ff7100"/><stop offset="0.500" stop-color="#ff5c00"/><stop offset="0.531" stop-color="#ff4700"/><stop offset="0.562" stop-color="#ff3200"/><stop offset="0.594" stop-color="#ff1d00"/><stop offset="0.625" stop-color="#ff0800"/><stop offset="0.656" stop-color="#f20000"/><stop offset="0.688" stop-color="#dd0000"/><stop offset="0.719" stop-color="#c80000"/><stop offset="0.750" stop-color="#b30000"/><stop offset="0.781" stop-color="#9e0000"/><stop offset="0.812" stop-color="#890000"/><stop offset="0.844" stop-color="#740000"/><stop offset="0.875" stop-color="#5f0000"/><stop offset="0.906" stop-color="#4a0000"/><stop offset="0.938" stop-color="#350000"/><stop offset="0.969" stop-color="#200000"/><stop offset="1.000" stop-color="#0b0000"/></linearGradient>
</defs>
<text x="183.8" y="92.3" font-size="90" fill="#1e1e1e">(a)</text>
<text x="366.8" y="116.9" font-size="69" text-anchor="end" fill="#1e1e1e">1.5</text>
<text x="366.8" y="212.7" font-size="69" text-anchor="end" fill="#1e1e1e">1.3</text>
<text x="366.8" y="308.5" font-size="69" text-anchor="end" fill="#1e1e1e">1.1</text>
<text x="366.8" y="404.3" font-size="69" text-anchor="end" fill="#1e1e1e">0.9</text>
<text x="366.8" y="500.1" font-size="69" text-anchor="end" fill="#1e1e1e">0.7</text>
<text x="366.8" y="595.9" font-size="69" text-anchor="end" fill="#1e1e1e">0.5</text>
<text x="388.5" y="656.6" font-size="70" text-anchor="middle" fill="#1e1e1e">0.1</text>
<text x="520.75" y="656.6" font-size="70" text-anchor="middle" fill="#1e1e1e">0.3</text>
<text x="653" y="656.6" font-size="70" text-anchor="middle" fill="#1e1e1e">0.5</text>
<text x="785.25" y="656.6" font-size="70" text-anchor="middle" fill="#1e1e1e">0.7</text>
<text x="917.5" y="656.6" font-size="70" text-anchor="middle" fill="#1e1e1e">0.9</text>
<text x="477.4" y="768.7" font-size="88" fill="#1e1e1e">Duty cycle</text>
<text transform="translate(254.5,537.4) rotate(-90)" font-size="94" fill="#1e1e1e">Pitch (µm)</text>
<rect x="986" y="91.5" width="46.5" height="479" fill="url(#gjet)" stroke="#333" stroke-width="2"/>
<text x="1009.5" y="72.2" font-size="54" text-anchor="middle" fill="#1e1e1e">T</text>
<text x="1051" y="113.2" font-size="62" fill="#1e1e1e">1</text>
<text x="1051" y="209.1" font-size="62" fill="#1e1e1e">0.8</text>
<text x="1051" y="305" font-size="62" fill="#1e1e1e">0.6</text>
<text x="1051" y="400.9" font-size="62" fill="#1e1e1e">0.4</text>
<text x="1051" y="496.8" font-size="62" fill="#1e1e1e">0.2</text>
<text x="1051" y="592.7" font-size="62" fill="#1e1e1e">0</text>
<text x="1231.4" y="92.6" font-size="90" fill="#1e1e1e">(b)</text>
<text x="1412" y="114.5" font-size="69" text-anchor="end" fill="#1e1e1e">1.5</text>
<text x="1412" y="210.3" font-size="69" text-anchor="end" fill="#1e1e1e">1.3</text>
<text x="1412" y="306.1" font-size="69" text-anchor="end" fill="#1e1e1e">1.1</text>
<text x="1412" y="401.9" font-size="69" text-anchor="end" fill="#1e1e1e">0.9</text>
<text x="1412" y="497.7" font-size="69" text-anchor="end" fill="#1e1e1e">0.7</text>
<text x="1412" y="593.5" font-size="69" text-anchor="end" fill="#1e1e1e">0.5</text>
<text x="1433.5" y="654.6" font-size="70" text-anchor="middle" fill="#1e1e1e">0.1</text>
<text x="1565.5" y="654.6" font-size="70" text-anchor="middle" fill="#1e1e1e">0.3</text>
<text x="1697.5" y="654.6" font-size="70" text-anchor="middle" fill="#1e1e1e">0.5</text>
<text x="1829.5" y="654.6" font-size="70" text-anchor="middle" fill="#1e1e1e">0.7</text>
<text x="1961.5" y="654.6" font-size="70" text-anchor="middle" fill="#1e1e1e">0.9</text>
<text x="1504" y="767.6" font-size="88" fill="#1e1e1e">Duty cycle</text>
<text transform="translate(1300.5,535.4) rotate(-90)" font-size="94" fill="#1e1e1e">Pitch (µm)</text>
<rect x="2030" y="89.5" width="45.5" height="478" fill="url(#gjet)" stroke="#333" stroke-width="2"/>
<text x="1984.6" y="68.2" font-size="56" fill="#1e1e1e">Phase</text>
<polygon points="1434.0,89.0 1442.1,89.0 1443.5,185.0 1448.3,281.0 1457.2,360.2 1463.6,441.3 1470.4,569.0 1434.0,569.0" fill="#9a0000"/>
<polyline points="1442.1,89.0 1443.5,185.0 1448.3,281.0 1457.2,360.2 1463.6,441.3 1470.4,569.0" fill="none" stroke="#d9b070" stroke-width="2" opacity="0.9"/>
<text x="2084" y="144.4" font-size="64" fill="#1e1e1e">2π</text>
<text x="2084" y="367.5" font-size="64" fill="#1e1e1e">π</text>
<text x="2084" y="583" font-size="64" fill="#1e1e1e">0</text>
<text x="91.4" y="862" font-size="90" fill="#1e1e1e">(c)</text>
<text x="403.5" y="868" font-size="80" text-anchor="end" fill="#1e1e1e">4</text>
<text x="403.5" y="970.8" font-size="76" text-anchor="end" fill="#1e1e1e">1.5</text>
<text x="313.3" y="1076.5" font-size="88" fill="#1e1e1e">−</text>
<text x="364" y="1072.5" font-size="76" fill="#1e1e1e">1</text>
<text transform="translate(283.5,1071.4) rotate(-90)" font-size="93" fill="#1e1e1e">z (µm)</text>
<text x="424.9" y="1137" font-size="80" text-anchor="middle" fill="#1e1e1e">0</text>
<text x="835.55" y="1137" font-size="80" text-anchor="middle" fill="#1e1e1e">10</text>
<text x="1246.2" y="1137" font-size="80" text-anchor="middle" fill="#1e1e1e">20</text>
<text x="1656.85" y="1137" font-size="80" text-anchor="middle" fill="#1e1e1e">30</text>
<text x="2067.5" y="1137" font-size="80" text-anchor="middle" fill="#1e1e1e">40</text>
<text x="1115" y="1237.2" font-size="93" fill="#1e1e1e">x (µm)</text>
<defs><linearGradient id="gsub" x1="424.9" x2="1668" y1="0" y2="0" gradientUnits="userSpaceOnUse"><stop offset="0.000" stop-color="#bfc1a9"/><stop offset="0.016" stop-color="#f5f5f0"/><stop offset="0.044" stop-color="#fae4e8"/><stop offset="0.109" stop-color="#f8c0c5"/><stop offset="0.189" stop-color="#f5969b"/><stop offset="0.249" stop-color="#f57878"/><stop offset="0.330" stop-color="#f55a5a"/><stop offset="0.370" stop-color="#f23737"/><stop offset="0.406" stop-color="#f02d2d"/><stop offset="0.471" stop-color="#f51414"/><stop offset="0.499" stop-color="#ff0000"/><stop offset="0.567" stop-color="#fa1e1e"/><stop offset="0.648" stop-color="#fa4646"/><stop offset="0.728" stop-color="#fa6e6e"/><stop offset="0.829" stop-color="#faa0a5"/><stop offset="0.905" stop-color="#fabec3"/><stop offset="0.965" stop-color="#fcdce1"/><stop offset="0.989" stop-color="#faf0f0"/><stop offset="1.000" stop-color="#bfc1a9"/></linearGradient></defs>
<rect x="424.9" y="1005" width="1642.6" height="40" fill="#bfc1a9"/>
<rect x="424.9" y="1005" width="1243" height="40" fill="url(#gsub)"/>
<defs><linearGradient id="gsv" x1="0" y1="0" x2="0" y2="1"><stop offset="0" stop-color="#a0a090" stop-opacity="0.35"/><stop offset="0.35" stop-color="#a0a090" stop-opacity="0"/><stop offset="0.65" stop-color="#a0a090" stop-opacity="0"/><stop offset="1" stop-color="#a0a090" stop-opacity="0.35"/></linearGradient></defs>
<rect x="424.9" y="1005" width="1243" height="40" fill="url(#gsv)"/>
<rect x="444.6" y="954.7" width="9.8" height="50.3" fill="#bdbfa9"/>
<rect x="489.0" y="954.7" width="12.8" height="50.3" fill="#bdbfa9"/>
<rect x="524.2" y="954.7" width="16.5" height="50.3" fill="#bdbfa9"/>
<rect x="553.0" y="954.7" width="14.9" height="50.3" fill="#bdbfa9"/>
<rect x="584.6" y="954.7" width="21.4" height="50.3" fill="#bdbfa9"/>
<rect x="628.3" y="954.7" width="23.9" height="50.3" fill="#bdbfa9"/>
<rect x="665.2" y="954.7" width="37.0" height="50.3" fill="#bdbfa9"/>
<rect x="727.6" y="954.7" width="5.4" height="50.3" fill="#bdbfa9"/>
<rect x="777.0" y="954.7" width="12.8" height="50.3" fill="#bdbfa9"/>
<rect x="821.8" y="954.7" width="16.0" height="50.3" fill="#bdbfa9"/>
<rect x="865.7" y="954.7" width="16.5" height="50.3" fill="#bdbfa9"/>
<rect x="914.1" y="954.7" width="20.2" height="50.3" fill="#bdbfa9"/>
<rect x="956.5" y="954.7" width="29.6" height="50.3" fill="#bdbfa9"/>
<rect x="996.0" y="954.7" width="43.0" height="50.3" fill="#bdbfa9"/>
<rect x="1062.0" y="954.7" width="10.0" height="50.3" fill="#bdbfa9"/>
<rect x="1097.5" y="954.7" width="10.5" height="50.3" fill="#bdbfa9"/>
<rect x="1127.9" y="954.7" width="13.5" height="50.3" fill="#bdbfa9"/>
<rect x="1153.7" y="954.7" width="14.8" height="50.3" fill="#bdbfa9"/>
<rect x="1176.0" y="954.7" width="16.0" height="50.3" fill="#bdbfa9"/>
<rect x="1211.0" y="954.7" width="20.4" height="50.3" fill="#bdbfa9"/>
<rect x="1275.8" y="954.7" width="37.0" height="50.3" fill="#bdbfa9"/>
<rect x="1341.0" y="954.7" width="5.0" height="50.3" fill="#bdbfa9"/>
<rect x="1382.0" y="954.7" width="11.2" height="50.3" fill="#bdbfa9"/>
<rect x="1416.0" y="954.7" width="13.0" height="50.3" fill="#bdbfa9"/>
<rect x="1447.5" y="954.7" width="14.7" height="50.3" fill="#bdbfa9"/>
<rect x="1475.8" y="954.7" width="13.6" height="50.3" fill="#bdbfa9"/>
<rect x="1515.3" y="954.7" width="19.7" height="50.3" fill="#bdbfa9"/>
<rect x="1554.7" y="954.7" width="23.3" height="50.3" fill="#bdbfa9"/>
<rect x="1595.4" y="954.7" width="44.4" height="50.3" fill="#bdbfa9"/>
<rect x="1657.8" y="954.7" width="2.9" height="50.3" fill="#bdbfa9"/>
<line x1="1038.2" y1="1012" x2="1140" y2="843" stroke="#f00" stroke-width="7.5"/>
<polygon points="1162,808.7 1120.9,845.5 1147.5,862" fill="#f00"/>
<text x="1169.7" y="875.6" font-size="84" font-weight="bold" font-style="italic" fill="#f00">k</text>
<text x="20.4" y="1344.7" font-size="90" fill="#1e1e1e">(d)</text>
<text x="116.4" y="2153" font-size="88" fill="#1e1e1e">−</text>
<text x="159.5" y="2148" font-size="76" fill="#1e1e1e">1</text>
<text x="201.5" y="1342.5" font-size="76" text-anchor="end" fill="#1e1e1e">99</text>
<text x="201.5" y="1503.6" font-size="76" text-anchor="end" fill="#1e1e1e">79</text>
<text x="201.5" y="1664.7" font-size="76" text-anchor="end" fill="#1e1e1e">59</text>
<text x="201.5" y="1825.8" font-size="76" text-anchor="end" fill="#1e1e1e">39</text>
<text x="201.5" y="1986.9" font-size="76" text-anchor="end" fill="#1e1e1e">19</text>
<text x="218" y="2209.7" font-size="76" text-anchor="middle" fill="#1e1e1e">0</text>
<text x="378.5" y="2209.7" font-size="76" text-anchor="middle" fill="#1e1e1e">20</text>
<text x="539" y="2209.7" font-size="76" text-anchor="middle" fill="#1e1e1e">40</text>
<text x="251.8" y="2311" font-size="93" fill="#1e1e1e">x (µm)</text>
<text transform="translate(102.4,1838) rotate(-90)" font-size="93" fill="#1e1e1e">z (µm)</text>
<rect x="2227.5" y="1306.5" width="31.5" height="812.5" fill="url(#ghot)" stroke="#c8c8c8" stroke-width="2.5"/>
<text x="2266" y="1344.2" font-size="64" fill="#1e1e1e">Max</text>
<text x="2271.8" y="2146.2" font-size="64" fill="#1e1e1e">Min</text>
<text x="378.25" y="1388" font-size="68" text-anchor="middle" fill="#fff">SRI=1.0</text>
<text x="381.3" y="1688.5" font-size="66" font-weight="bold" fill="#fff">12.3<tspan font-size="44" dx="3" dy="-18">o</tspan></text>
<text x="442.8" y="1782.5" font-size="62" font-weight="bold" font-style="italic" fill="#fff">k</text>
<line x1="339.5" y1="2102.0" x2="339.5" y2="1741.8" stroke="#fff" stroke-width="9.5" stroke-dasharray="22 11"/>
<polygon points="339.5,1706.8 365.5,1758.8 339.5,1743.8 313.5,1758.8" fill="#fff"/>
<line x1="341.5" y1="2102.0" x2="413.5" y2="1748.3" stroke="#fff" stroke-width="9.5" stroke-dasharray="22 11"/>
<polygon points="420.5,1714.0 435.6,1770.1 413.1,1750.3 384.6,1759.8" fill="#fff"/>
<text x="788.75" y="1388" font-size="68" text-anchor="middle" fill="#fff">SRI=1.1</text>
<text x="803.8" y="1688.5" font-size="66" font-weight="bold" fill="#fff">11.7<tspan font-size="44" dx="3" dy="-18">o</tspan></text>
<text x="858.3" y="1776" font-size="62" font-weight="bold" font-style="italic" fill="#fff">k</text>
<line x1="753.0" y1="2102.0" x2="753.0" y2="1738.5" stroke="#fff" stroke-width="9.5" stroke-dasharray="22 11"/>
<polygon points="753.0,1703.5 779.0,1755.5 753.0,1740.5 727.0,1755.5" fill="#fff"/>
<line x1="755.0" y1="2102.0" x2="827.2" y2="1737.8" stroke="#fff" stroke-width="9.5" stroke-dasharray="22 11"/>
<polygon points="834.0,1703.5 849.4,1759.6 826.8,1739.8 798.4,1749.5" fill="#fff"/>
<text x="1196.2" y="1390" font-size="68" text-anchor="middle" fill="#fff">SRI=1.2</text>
<text x="1204.5" y="1688.5" font-size="66" font-weight="bold" fill="#fff">10.1<tspan font-size="44" dx="3" dy="-18">o</tspan></text>
<text x="1253.6" y="1767" font-size="62" font-weight="bold" font-style="italic" fill="#fff">k</text>
<line x1="1157.0" y1="2102.0" x2="1157.0" y2="1742.0" stroke="#fff" stroke-width="9.5" stroke-dasharray="22 11"/>
<polygon points="1157.0,1707.0 1183.0,1759.0 1157.0,1744.0 1131.0,1759.0" fill="#fff"/>
<line x1="1159.0" y1="2102.0" x2="1221.1" y2="1738.5" stroke="#fff" stroke-width="9.5" stroke-dasharray="22 11"/>
<polygon points="1227.0,1704.0 1243.9,1759.6 1220.8,1740.5 1192.6,1750.9" fill="#fff"/>
<text x="1606.25" y="1388" font-size="68" text-anchor="middle" fill="#fff">SRI=1.3</text>
<text x="1615.3" y="1688.5" font-size="66" font-weight="bold" fill="#fff">9.4<tspan font-size="44" dx="3" dy="-18">o</tspan></text>
<text x="1655.7" y="1767" font-size="62" font-weight="bold" font-style="italic" fill="#fff">k</text>
<line x1="1566.0" y1="2102.0" x2="1566.0" y2="1740.6" stroke="#fff" stroke-width="9.5" stroke-dasharray="22 11"/>
<polygon points="1566.0,1705.6 1592.0,1757.6 1566.0,1742.6 1540.0,1757.6" fill="#fff"/>
<line x1="1568.0" y1="2102.0" x2="1625.3" y2="1738.6" stroke="#fff" stroke-width="9.5" stroke-dasharray="22 11"/>
<polygon points="1630.7,1704.0 1648.3,1759.4 1624.9,1740.5 1596.9,1751.3" fill="#fff"/>
<text x="2010" y="1388" font-size="68" text-anchor="middle" fill="#fff">SRI=1.4</text>
<text x="2030" y="1688.5" font-size="66" font-weight="bold" fill="#fff">8.9<tspan font-size="44" dx="3" dy="-18">o</tspan></text>
<text x="2053.9" y="1768.6" font-size="62" font-weight="bold" font-style="italic" fill="#fff">k</text>
<line x1="1973.5" y1="2102.0" x2="1973.5" y2="1737.4" stroke="#fff" stroke-width="9.5" stroke-dasharray="22 11"/>
<polygon points="1973.5,1702.4 1999.5,1754.4 1973.5,1739.4 1947.5,1754.4" fill="#fff"/>
<line x1="1975.5" y1="2102.0" x2="2030.0" y2="1738.6" stroke="#fff" stroke-width="9.5" stroke-dasharray="22 11"/>
<polygon points="2035.2,1704.0 2053.2,1759.3 2029.7,1740.6 2001.8,1751.6" fill="#fff"/>
</svg>
</body></html>
